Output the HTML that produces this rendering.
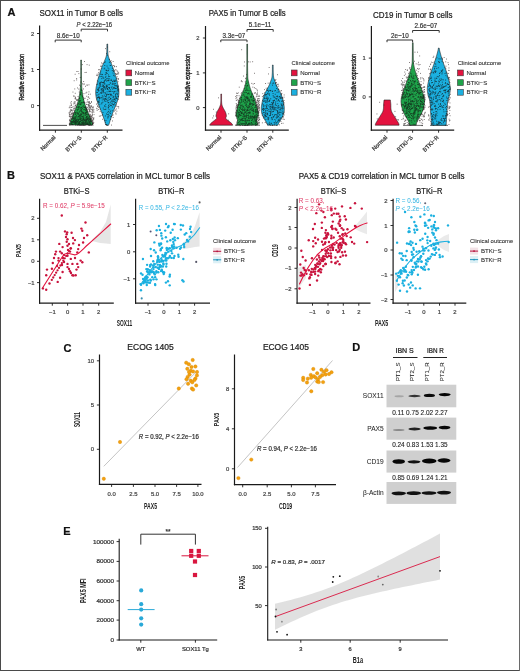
<!DOCTYPE html>
<html><head><meta charset="utf-8"><style>
html,body{margin:0;padding:0;background:#fff;overflow:hidden;}
svg{display:block;will-change:transform;}
text{font-family:"Liberation Sans", sans-serif;}
</style></head><body>
<svg width="520" height="671" viewBox="0 0 520 671">
<rect x="0" y="0" width="520" height="671" fill="#fff"/>
<text x="7.60" y="16.00" font-size="11" text-anchor="start" fill="#111" stroke="#111" stroke-width="0.22" font-weight="bold">A</text>
<text x="6.90" y="178.80" font-size="11" text-anchor="start" fill="#111" stroke="#111" stroke-width="0.22" font-weight="bold">B</text>
<text x="63.50" y="352.20" font-size="11" text-anchor="start" fill="#111" stroke="#111" stroke-width="0.22" font-weight="bold">C</text>
<text x="352.30" y="351.40" font-size="11" text-anchor="start" fill="#111" stroke="#111" stroke-width="0.22" font-weight="bold">D</text>
<text x="63.20" y="534.60" font-size="11" text-anchor="start" fill="#111" stroke="#111" stroke-width="0.22" font-weight="bold">E</text>
<text x="39.50" y="16.10" font-size="8.6" text-anchor="start" fill="#222" stroke="#222" stroke-width="0.22" textLength="83.5" lengthAdjust="spacingAndGlyphs">SOX11 in Tumor B cells</text>
<line x1="39.60" y1="25.50" x2="39.60" y2="130.70" stroke="#1a1a1a" stroke-width="1.2"/>
<line x1="39.00" y1="130.10" x2="122.50" y2="130.10" stroke="#1a1a1a" stroke-width="1.2"/>
<line x1="37.00" y1="33.50" x2="39.60" y2="33.50" stroke="#1a1a1a" stroke-width="0.9"/>
<text x="34.20" y="35.60" font-size="5.8" text-anchor="end" fill="#444" stroke="#444" stroke-width="0.22">2</text>
<line x1="37.00" y1="69.50" x2="39.60" y2="69.50" stroke="#1a1a1a" stroke-width="0.9"/>
<text x="34.20" y="71.60" font-size="5.8" text-anchor="end" fill="#444" stroke="#444" stroke-width="0.22">1</text>
<line x1="37.00" y1="105.60" x2="39.60" y2="105.60" stroke="#1a1a1a" stroke-width="0.9"/>
<text x="34.20" y="107.70" font-size="5.8" text-anchor="end" fill="#444" stroke="#444" stroke-width="0.22">0</text>
<line x1="55.40" y1="130.10" x2="55.40" y2="132.70" stroke="#1a1a1a" stroke-width="0.9"/>
<text x="56.00" y="137.90" font-size="5.8" text-anchor="end" fill="#333" stroke="#333" stroke-width="0.22" transform="rotate(-45 56.00 137.90)">Normal</text>
<line x1="81.30" y1="130.10" x2="81.30" y2="132.70" stroke="#1a1a1a" stroke-width="0.9"/>
<text x="81.90" y="137.90" font-size="5.8" text-anchor="end" fill="#333" stroke="#333" stroke-width="0.22" transform="rotate(-45 81.90 137.90)">BTKi−S</text>
<line x1="107.30" y1="130.10" x2="107.30" y2="132.70" stroke="#1a1a1a" stroke-width="0.9"/>
<text x="107.90" y="137.90" font-size="5.8" text-anchor="end" fill="#333" stroke="#333" stroke-width="0.22" transform="rotate(-45 107.90 137.90)">BTKi−R</text>
<text x="24.30" y="77.30" font-size="7" text-anchor="middle" fill="#1a1a1a" stroke="#1a1a1a" stroke-width="0.35" textLength="46.5" lengthAdjust="spacingAndGlyphs" transform="rotate(-90 24.30 77.30)">Relative expression</text>
<line x1="43.00" y1="125.40" x2="67.00" y2="125.40" stroke="#222" stroke-width="0.8"/>
<path d="M81.45,60.00 L81.45,60.81 L81.45,61.62 L81.45,62.44 L81.45,63.25 L81.46,64.06 L81.45,64.88 L81.45,65.69 L81.45,66.50 L81.45,67.31 L81.45,68.12 L81.45,68.94 L81.45,69.75 L81.45,70.56 L81.45,71.38 L81.46,72.19 L81.46,73.00 L81.46,73.81 L81.46,74.62 L81.47,75.44 L81.47,76.25 L81.48,77.06 L81.49,77.88 L81.50,78.69 L81.51,79.50 L81.52,80.31 L81.54,81.12 L81.55,81.94 L81.57,82.75 L81.59,83.56 L81.61,84.38 L81.65,85.19 L81.69,86.00 L81.75,86.81 L81.82,87.62 L81.90,88.44 L81.98,89.25 L82.07,90.06 L82.17,90.88 L82.26,91.69 L82.36,92.50 L82.47,93.31 L82.59,94.12 L82.72,94.94 L82.86,95.75 L83.01,96.56 L83.17,97.38 L83.34,98.19 L83.52,99.00 L83.72,99.81 L83.93,100.62 L84.14,101.44 L84.37,102.25 L84.61,103.06 L84.86,103.88 L85.12,104.69 L85.40,105.50 L85.69,106.31 L85.99,107.12 L86.30,107.94 L86.61,108.75 L86.93,109.56 L87.25,110.38 L87.58,111.19 L87.91,112.00 L88.26,112.81 L88.60,113.62 L88.95,114.44 L89.29,115.25 L89.63,116.06 L89.96,116.88 L90.30,117.69 L90.64,118.50 L90.97,119.31 L91.28,120.12 L91.58,120.94 L91.86,121.75 L92.12,122.56 L92.36,123.38 L92.56,124.19 L92.70,125.00 L69.50,125.00 L69.64,124.19 L69.84,123.38 L70.08,122.56 L70.34,121.75 L70.62,120.94 L70.92,120.12 L71.23,119.31 L71.56,118.50 L71.90,117.69 L72.24,116.88 L72.57,116.06 L72.91,115.25 L73.25,114.44 L73.60,113.62 L73.94,112.81 L74.29,112.00 L74.62,111.19 L74.95,110.38 L75.27,109.56 L75.59,108.75 L75.90,107.94 L76.21,107.12 L76.51,106.31 L76.80,105.50 L77.08,104.69 L77.34,103.88 L77.59,103.06 L77.83,102.25 L78.06,101.44 L78.27,100.62 L78.48,99.81 L78.67,99.00 L78.86,98.19 L79.03,97.38 L79.19,96.56 L79.34,95.75 L79.48,94.94 L79.61,94.12 L79.73,93.31 L79.84,92.50 L79.94,91.69 L80.03,90.88 L80.13,90.06 L80.22,89.25 L80.30,88.44 L80.38,87.62 L80.45,86.81 L80.51,86.00 L80.55,85.19 L80.59,84.38 L80.61,83.56 L80.63,82.75 L80.65,81.94 L80.66,81.12 L80.68,80.31 L80.69,79.50 L80.70,78.69 L80.71,77.88 L80.72,77.06 L80.73,76.25 L80.73,75.44 L80.74,74.62 L80.74,73.81 L80.74,73.00 L80.74,72.19 L80.75,71.38 L80.75,70.56 L80.75,69.75 L80.75,68.94 L80.75,68.12 L80.75,67.31 L80.75,66.50 L80.75,65.69 L80.75,64.88 L80.74,64.06 L80.75,63.25 L80.75,62.44 L80.75,61.62 L80.75,60.81 L80.75,60.00 Z" fill="#1ea34a" stroke="#222" stroke-width="0.6"/>
<g fill="#111" opacity="0.70"><rect x="81.9" y="102.3" width=".9" height=".9"/><rect x="90.1" y="123.5" width=".9" height=".9"/><rect x="83.1" y="113.0" width=".9" height=".9"/><rect x="82.9" y="105.4" width=".9" height=".9"/><rect x="80.8" y="109.2" width=".9" height=".9"/><rect x="86.0" y="116.9" width=".9" height=".9"/><rect x="85.2" y="121.4" width=".9" height=".9"/><rect x="78.2" y="113.4" width=".9" height=".9"/><rect x="80.2" y="103.5" width=".9" height=".9"/><rect x="73.0" y="122.3" width=".9" height=".9"/><rect x="81.5" y="122.0" width=".9" height=".9"/><rect x="78.6" y="111.9" width=".9" height=".9"/><rect x="80.7" y="124.6" width=".9" height=".9"/><rect x="72.3" y="121.8" width=".9" height=".9"/><rect x="81.6" y="95.3" width=".9" height=".9"/><rect x="86.0" y="123.6" width=".9" height=".9"/><rect x="77.7" y="124.2" width=".9" height=".9"/><rect x="84.9" y="114.6" width=".9" height=".9"/><rect x="85.1" y="112.0" width=".9" height=".9"/><rect x="87.4" y="119.1" width=".9" height=".9"/><rect x="78.6" y="123.2" width=".9" height=".9"/><rect x="72.9" y="121.5" width=".9" height=".9"/><rect x="77.4" y="123.7" width=".9" height=".9"/><rect x="90.4" y="120.7" width=".9" height=".9"/><rect x="74.9" y="113.7" width=".9" height=".9"/><rect x="80.1" y="119.2" width=".9" height=".9"/><rect x="80.0" y="94.0" width=".9" height=".9"/><rect x="83.9" y="119.3" width=".9" height=".9"/><rect x="90.5" y="121.2" width=".9" height=".9"/><rect x="82.6" y="121.2" width=".9" height=".9"/><rect x="72.0" y="121.3" width=".9" height=".9"/><rect x="72.6" y="124.3" width=".9" height=".9"/><rect x="86.1" y="119.7" width=".9" height=".9"/><rect x="81.1" y="109.4" width=".9" height=".9"/><rect x="81.3" y="114.2" width=".9" height=".9"/><rect x="75.6" y="116.6" width=".9" height=".9"/><rect x="77.5" y="122.8" width=".9" height=".9"/><rect x="86.7" y="124.0" width=".9" height=".9"/><rect x="86.9" y="118.0" width=".9" height=".9"/><rect x="81.7" y="112.8" width=".9" height=".9"/><rect x="78.2" y="123.4" width=".9" height=".9"/><rect x="80.1" y="120.9" width=".9" height=".9"/><rect x="89.1" y="121.9" width=".9" height=".9"/><rect x="87.4" y="114.6" width=".9" height=".9"/><rect x="86.6" y="121.1" width=".9" height=".9"/><rect x="74.1" y="118.9" width=".9" height=".9"/><rect x="81.2" y="122.9" width=".9" height=".9"/><rect x="90.0" y="120.2" width=".9" height=".9"/><rect x="71.3" y="123.2" width=".9" height=".9"/><rect x="73.2" y="120.6" width=".9" height=".9"/><rect x="77.7" y="119.8" width=".9" height=".9"/><rect x="78.9" y="118.3" width=".9" height=".9"/><rect x="75.4" y="118.4" width=".9" height=".9"/><rect x="75.2" y="122.2" width=".9" height=".9"/><rect x="74.9" y="122.0" width=".9" height=".9"/><rect x="88.7" y="120.3" width=".9" height=".9"/><rect x="76.8" y="117.5" width=".9" height=".9"/><rect x="80.5" y="124.4" width=".9" height=".9"/><rect x="75.9" y="119.4" width=".9" height=".9"/><rect x="91.9" y="123.2" width=".9" height=".9"/><rect x="82.8" y="122.0" width=".9" height=".9"/><rect x="89.1" y="118.6" width=".9" height=".9"/><rect x="82.7" y="118.3" width=".9" height=".9"/><rect x="89.0" y="124.7" width=".9" height=".9"/><rect x="88.3" y="119.5" width=".9" height=".9"/><rect x="77.4" y="120.5" width=".9" height=".9"/><rect x="75.2" y="119.8" width=".9" height=".9"/><rect x="83.1" y="116.7" width=".9" height=".9"/><rect x="85.2" y="124.0" width=".9" height=".9"/><rect x="74.3" y="118.2" width=".9" height=".9"/><rect x="72.3" y="120.9" width=".9" height=".9"/><rect x="74.8" y="120.9" width=".9" height=".9"/><rect x="81.9" y="118.7" width=".9" height=".9"/><rect x="73.6" y="121.2" width=".9" height=".9"/><rect x="82.4" y="106.3" width=".9" height=".9"/><rect x="76.8" y="121.4" width=".9" height=".9"/><rect x="74.6" y="117.2" width=".9" height=".9"/><rect x="85.9" y="119.0" width=".9" height=".9"/><rect x="76.6" y="109.2" width=".9" height=".9"/><rect x="89.9" y="122.7" width=".9" height=".9"/><rect x="79.3" y="100.2" width=".9" height=".9"/><rect x="89.1" y="116.0" width=".9" height=".9"/><rect x="80.1" y="117.5" width=".9" height=".9"/><rect x="73.4" y="117.5" width=".9" height=".9"/><rect x="71.1" y="123.4" width=".9" height=".9"/><rect x="78.2" y="122.6" width=".9" height=".9"/><rect x="86.9" y="123.9" width=".9" height=".9"/><rect x="82.9" y="119.0" width=".9" height=".9"/><rect x="79.4" y="100.8" width=".9" height=".9"/><rect x="80.8" y="110.6" width=".9" height=".9"/><rect x="82.2" y="123.4" width=".9" height=".9"/><rect x="71.1" y="121.1" width=".9" height=".9"/><rect x="85.7" y="121.6" width=".9" height=".9"/><rect x="74.1" y="121.1" width=".9" height=".9"/><rect x="74.9" y="121.9" width=".9" height=".9"/><rect x="72.8" y="118.8" width=".9" height=".9"/><rect x="88.1" y="117.9" width=".9" height=".9"/><rect x="80.5" y="92.0" width=".9" height=".9"/><rect x="84.5" y="122.4" width=".9" height=".9"/><rect x="83.4" y="101.3" width=".9" height=".9"/><rect x="86.6" y="118.3" width=".9" height=".9"/><rect x="80.5" y="116.0" width=".9" height=".9"/><rect x="88.4" y="123.4" width=".9" height=".9"/><rect x="85.1" y="119.9" width=".9" height=".9"/><rect x="77.8" y="119.4" width=".9" height=".9"/><rect x="82.8" y="121.4" width=".9" height=".9"/><rect x="89.3" y="123.3" width=".9" height=".9"/><rect x="83.6" y="123.5" width=".9" height=".9"/><rect x="85.7" y="117.7" width=".9" height=".9"/><rect x="89.4" y="117.7" width=".9" height=".9"/><rect x="83.8" y="120.6" width=".9" height=".9"/><rect x="80.8" y="124.4" width=".9" height=".9"/><rect x="83.6" y="119.1" width=".9" height=".9"/><rect x="82.7" y="122.4" width=".9" height=".9"/><rect x="88.3" y="114.4" width=".9" height=".9"/><rect x="72.2" y="124.1" width=".9" height=".9"/><rect x="79.9" y="114.7" width=".9" height=".9"/><rect x="78.9" y="116.6" width=".9" height=".9"/><rect x="80.6" y="103.4" width=".9" height=".9"/><rect x="75.8" y="120.1" width=".9" height=".9"/><rect x="86.8" y="118.3" width=".9" height=".9"/><rect x="90.4" y="119.2" width=".9" height=".9"/><rect x="81.4" y="122.0" width=".9" height=".9"/><rect x="79.1" y="120.9" width=".9" height=".9"/><rect x="78.5" y="114.6" width=".9" height=".9"/><rect x="77.1" y="121.2" width=".9" height=".9"/><rect x="74.9" y="120.1" width=".9" height=".9"/><rect x="76.2" y="121.8" width=".9" height=".9"/><rect x="83.1" y="102.1" width=".9" height=".9"/><rect x="75.3" y="122.1" width=".9" height=".9"/><rect x="82.5" y="116.0" width=".9" height=".9"/><rect x="87.9" y="124.2" width=".9" height=".9"/><rect x="72.5" y="122.4" width=".9" height=".9"/><rect x="79.0" y="122.6" width=".9" height=".9"/><rect x="78.4" y="107.0" width=".9" height=".9"/><rect x="79.7" y="115.2" width=".9" height=".9"/><rect x="82.1" y="119.8" width=".9" height=".9"/><rect x="81.5" y="124.9" width=".9" height=".9"/><rect x="79.6" y="122.7" width=".9" height=".9"/><rect x="76.6" y="113.0" width=".9" height=".9"/><rect x="81.4" y="123.6" width=".9" height=".9"/><rect x="79.1" y="124.4" width=".9" height=".9"/><rect x="79.2" y="101.4" width=".9" height=".9"/><rect x="85.9" y="111.2" width=".9" height=".9"/><rect x="85.3" y="114.7" width=".9" height=".9"/><rect x="78.9" y="124.8" width=".9" height=".9"/><rect x="86.5" y="110.1" width=".9" height=".9"/><rect x="77.3" y="118.8" width=".9" height=".9"/><rect x="76.5" y="120.5" width=".9" height=".9"/><rect x="88.4" y="116.9" width=".9" height=".9"/><rect x="82.6" y="123.2" width=".9" height=".9"/><rect x="74.7" y="113.7" width=".9" height=".9"/><rect x="79.7" y="114.3" width=".9" height=".9"/><rect x="85.0" y="110.2" width=".9" height=".9"/><rect x="75.5" y="116.0" width=".9" height=".9"/><rect x="86.4" y="119.3" width=".9" height=".9"/><rect x="86.0" y="108.7" width=".9" height=".9"/><rect x="82.3" y="112.4" width=".9" height=".9"/><rect x="82.2" y="123.0" width=".9" height=".9"/><rect x="76.1" y="120.8" width=".9" height=".9"/><rect x="82.7" y="117.5" width=".9" height=".9"/><rect x="71.3" y="123.7" width=".9" height=".9"/><rect x="74.9" y="120.8" width=".9" height=".9"/><rect x="88.2" y="120.2" width=".9" height=".9"/><rect x="77.8" y="113.6" width=".9" height=".9"/><rect x="84.1" y="123.3" width=".9" height=".9"/><rect x="85.5" y="112.7" width=".9" height=".9"/><rect x="73.3" y="117.5" width=".9" height=".9"/><rect x="79.3" y="98.2" width=".9" height=".9"/><rect x="86.5" y="116.1" width=".9" height=".9"/><rect x="88.0" y="122.4" width=".9" height=".9"/><rect x="87.2" y="116.6" width=".9" height=".9"/><rect x="83.7" y="106.9" width=".9" height=".9"/><rect x="82.5" y="112.0" width=".9" height=".9"/><rect x="85.8" y="116.9" width=".9" height=".9"/><rect x="72.2" y="124.1" width=".9" height=".9"/><rect x="82.6" y="124.5" width=".9" height=".9"/><rect x="77.8" y="124.2" width=".9" height=".9"/><rect x="75.0" y="118.4" width=".9" height=".9"/><rect x="73.5" y="116.2" width=".9" height=".9"/><rect x="75.6" y="123.5" width=".9" height=".9"/><rect x="86.9" y="118.7" width=".9" height=".9"/><rect x="74.2" y="121.4" width=".9" height=".9"/><rect x="82.8" y="124.6" width=".9" height=".9"/><rect x="87.4" y="116.5" width=".9" height=".9"/><rect x="76.9" y="113.5" width=".9" height=".9"/><rect x="90.6" y="119.7" width=".9" height=".9"/><rect x="74.5" y="123.7" width=".9" height=".9"/><rect x="90.6" y="124.4" width=".9" height=".9"/><rect x="74.0" y="119.7" width=".9" height=".9"/><rect x="86.9" y="122.9" width=".9" height=".9"/><rect x="86.5" y="123.9" width=".9" height=".9"/><rect x="83.8" y="124.9" width=".9" height=".9"/><rect x="83.9" y="120.2" width=".9" height=".9"/><rect x="86.0" y="119.1" width=".9" height=".9"/><rect x="87.3" y="123.2" width=".9" height=".9"/><rect x="83.4" y="115.5" width=".9" height=".9"/><rect x="84.3" y="124.7" width=".9" height=".9"/><rect x="86.6" y="119.1" width=".9" height=".9"/><rect x="81.7" y="120.3" width=".9" height=".9"/><rect x="84.6" y="113.4" width=".9" height=".9"/><rect x="78.1" y="116.4" width=".9" height=".9"/><rect x="79.8" y="124.8" width=".9" height=".9"/><rect x="85.6" y="109.3" width=".9" height=".9"/><rect x="76.8" y="106.7" width=".9" height=".9"/><rect x="79.2" y="115.8" width=".9" height=".9"/><rect x="78.9" y="106.3" width=".9" height=".9"/><rect x="83.4" y="109.2" width=".9" height=".9"/><rect x="80.4" y="114.6" width=".9" height=".9"/><rect x="80.9" y="117.9" width=".9" height=".9"/><rect x="90.4" y="124.9" width=".9" height=".9"/><rect x="81.4" y="115.8" width=".9" height=".9"/><rect x="85.1" y="121.8" width=".9" height=".9"/><rect x="89.6" y="119.3" width=".9" height=".9"/><rect x="81.8" y="124.7" width=".9" height=".9"/><rect x="80.7" y="120.4" width=".9" height=".9"/><rect x="82.1" y="116.2" width=".9" height=".9"/><rect x="82.1" y="96.3" width=".9" height=".9"/><rect x="81.3" y="90.0" width=".9" height=".9"/><rect x="89.7" y="121.2" width=".9" height=".9"/><rect x="83.1" y="117.9" width=".9" height=".9"/><rect x="81.0" y="111.5" width=".9" height=".9"/><rect x="87.2" y="122.8" width=".9" height=".9"/><rect x="78.8" y="121.2" width=".9" height=".9"/><rect x="83.5" y="114.4" width=".9" height=".9"/><rect x="83.7" y="112.8" width=".9" height=".9"/><rect x="75.9" y="114.9" width=".9" height=".9"/><rect x="74.2" y="122.3" width=".9" height=".9"/><rect x="88.8" y="121.4" width=".9" height=".9"/><rect x="78.0" y="116.0" width=".9" height=".9"/><rect x="83.8" y="103.3" width=".9" height=".9"/><rect x="77.7" y="119.0" width=".9" height=".9"/><rect x="89.5" y="123.5" width=".9" height=".9"/><rect x="87.3" y="117.9" width=".9" height=".9"/><rect x="83.3" y="117.9" width=".9" height=".9"/><rect x="85.9" y="122.6" width=".9" height=".9"/><rect x="76.3" y="122.5" width=".9" height=".9"/><rect x="76.6" y="121.3" width=".9" height=".9"/><rect x="89.5" y="119.1" width=".9" height=".9"/><rect x="77.7" y="108.9" width=".9" height=".9"/><rect x="75.8" y="119.6" width=".9" height=".9"/><rect x="74.7" y="121.1" width=".9" height=".9"/><rect x="78.4" y="108.3" width=".9" height=".9"/><rect x="81.6" y="116.7" width=".9" height=".9"/><rect x="86.1" y="112.1" width=".9" height=".9"/><rect x="81.2" y="110.6" width=".9" height=".9"/><rect x="86.6" y="119.8" width=".9" height=".9"/><rect x="88.5" y="124.4" width=".9" height=".9"/><rect x="86.9" y="123.7" width=".9" height=".9"/><rect x="84.6" y="117.5" width=".9" height=".9"/><rect x="80.4" y="107.1" width=".9" height=".9"/><rect x="84.7" y="106.4" width=".9" height=".9"/><rect x="78.4" y="124.1" width=".9" height=".9"/><rect x="85.4" y="120.5" width=".9" height=".9"/><rect x="79.6" y="102.3" width=".9" height=".9"/><rect x="91.9" y="123.8" width=".9" height=".9"/><rect x="75.5" y="124.6" width=".9" height=".9"/><rect x="81.9" y="122.8" width=".9" height=".9"/><rect x="83.4" y="122.7" width=".9" height=".9"/><rect x="85.1" y="118.8" width=".9" height=".9"/><rect x="71.4" y="122.6" width=".9" height=".9"/><rect x="74.6" y="121.3" width=".9" height=".9"/><rect x="80.6" y="93.5" width=".9" height=".9"/><rect x="90.0" y="121.5" width=".9" height=".9"/><rect x="85.6" y="121.1" width=".9" height=".9"/><rect x="78.8" y="122.5" width=".9" height=".9"/><rect x="74.5" y="117.6" width=".9" height=".9"/><rect x="79.1" y="122.8" width=".9" height=".9"/><rect x="73.1" y="118.3" width=".9" height=".9"/><rect x="79.4" y="111.1" width=".9" height=".9"/><rect x="78.8" y="122.3" width=".9" height=".9"/><rect x="74.4" y="122.5" width=".9" height=".9"/><rect x="85.2" y="107.8" width=".9" height=".9"/><rect x="77.5" y="121.3" width=".9" height=".9"/><rect x="89.5" y="122.6" width=".9" height=".9"/><rect x="71.5" y="124.2" width=".9" height=".9"/><rect x="80.9" y="107.4" width=".9" height=".9"/><rect x="83.3" y="112.1" width=".9" height=".9"/><rect x="76.5" y="111.6" width=".9" height=".9"/><rect x="83.8" y="106.9" width=".9" height=".9"/><rect x="79.8" y="110.1" width=".9" height=".9"/><rect x="80.2" y="100.2" width=".9" height=".9"/><rect x="80.2" y="119.1" width=".9" height=".9"/><rect x="75.8" y="122.6" width=".9" height=".9"/><rect x="77.1" y="109.7" width=".9" height=".9"/><rect x="75.1" y="123.2" width=".9" height=".9"/><rect x="88.9" y="122.3" width=".9" height=".9"/><rect x="90.0" y="124.4" width=".9" height=".9"/><rect x="77.7" y="113.2" width=".9" height=".9"/><rect x="85.0" y="112.8" width=".9" height=".9"/><rect x="84.4" y="122.0" width=".9" height=".9"/><rect x="80.7" y="113.9" width=".9" height=".9"/><rect x="78.1" y="103.3" width=".9" height=".9"/><rect x="78.1" y="124.5" width=".9" height=".9"/><rect x="88.5" y="125.0" width=".9" height=".9"/><rect x="80.2" y="104.0" width=".9" height=".9"/><rect x="77.7" y="121.7" width=".9" height=".9"/><rect x="80.5" y="120.4" width=".9" height=".9"/><rect x="75.5" y="119.3" width=".9" height=".9"/><rect x="81.9" y="107.9" width=".9" height=".9"/><rect x="79.7" y="104.2" width=".9" height=".9"/><rect x="88.3" y="118.7" width=".9" height=".9"/><rect x="83.9" y="109.2" width=".9" height=".9"/><rect x="88.0" y="120.7" width=".9" height=".9"/><rect x="81.0" y="102.2" width=".9" height=".9"/><rect x="84.9" y="106.9" width=".9" height=".9"/><rect x="82.9" y="124.9" width=".9" height=".9"/><rect x="85.6" y="108.7" width=".9" height=".9"/><rect x="80.5" y="113.0" width=".9" height=".9"/><rect x="80.2" y="118.1" width=".9" height=".9"/><rect x="85.6" y="119.4" width=".9" height=".9"/><rect x="80.2" y="108.4" width=".9" height=".9"/><rect x="85.7" y="120.0" width=".9" height=".9"/><rect x="83.2" y="123.8" width=".9" height=".9"/><rect x="82.3" y="122.8" width=".9" height=".9"/><rect x="82.2" y="121.7" width=".9" height=".9"/><rect x="77.6" y="116.1" width=".9" height=".9"/><rect x="89.2" y="118.7" width=".9" height=".9"/><rect x="86.0" y="122.8" width=".9" height=".9"/><rect x="87.3" y="123.8" width=".9" height=".9"/><rect x="84.9" y="124.6" width=".9" height=".9"/><rect x="72.1" y="118.5" width=".9" height=".9"/><rect x="81.2" y="114.3" width=".9" height=".9"/><rect x="73.1" y="120.0" width=".9" height=".9"/><rect x="72.5" y="120.9" width=".9" height=".9"/><rect x="79.3" y="119.1" width=".9" height=".9"/><rect x="83.8" y="102.1" width=".9" height=".9"/><rect x="75.3" y="124.6" width=".9" height=".9"/><rect x="78.9" y="103.6" width=".9" height=".9"/><rect x="81.2" y="119.8" width=".9" height=".9"/><rect x="76.7" y="112.1" width=".9" height=".9"/><rect x="78.2" y="106.6" width=".9" height=".9"/><rect x="91.3" y="124.8" width=".9" height=".9"/><rect x="78.0" y="120.2" width=".9" height=".9"/><rect x="85.4" y="122.5" width=".9" height=".9"/><rect x="74.3" y="122.8" width=".9" height=".9"/><rect x="73.4" y="117.9" width=".9" height=".9"/><rect x="78.5" y="118.7" width=".9" height=".9"/><rect x="85.6" y="109.5" width=".9" height=".9"/><rect x="83.2" y="119.1" width=".9" height=".9"/><rect x="75.1" y="112.0" width=".9" height=".9"/><rect x="80.1" y="124.5" width=".9" height=".9"/><rect x="71.5" y="122.1" width=".9" height=".9"/><rect x="79.0" y="114.9" width=".9" height=".9"/><rect x="78.7" y="122.2" width=".9" height=".9"/><rect x="85.5" y="122.4" width=".9" height=".9"/><rect x="84.9" y="123.0" width=".9" height=".9"/><rect x="75.3" y="123.2" width=".9" height=".9"/><rect x="83.9" y="120.1" width=".9" height=".9"/><rect x="86.1" y="116.0" width=".9" height=".9"/><rect x="87.2" y="122.2" width=".9" height=".9"/><rect x="86.0" y="114.0" width=".9" height=".9"/><rect x="81.3" y="119.7" width=".9" height=".9"/><rect x="86.7" y="111.2" width=".9" height=".9"/><rect x="85.4" y="113.0" width=".9" height=".9"/><rect x="71.1" y="121.9" width=".9" height=".9"/><rect x="86.8" y="110.8" width=".9" height=".9"/><rect x="74.8" y="116.6" width=".9" height=".9"/><rect x="84.7" y="107.3" width=".9" height=".9"/><rect x="82.2" y="111.4" width=".9" height=".9"/><rect x="86.9" y="112.5" width=".9" height=".9"/><rect x="79.5" y="122.9" width=".9" height=".9"/><rect x="87.5" y="114.1" width=".9" height=".9"/><rect x="79.6" y="116.8" width=".9" height=".9"/><rect x="78.1" y="106.5" width=".9" height=".9"/><rect x="74.9" y="113.4" width=".9" height=".9"/><rect x="81.0" y="106.9" width=".9" height=".9"/><rect x="89.0" y="121.3" width=".9" height=".9"/><rect x="88.8" y="124.8" width=".9" height=".9"/><rect x="79.2" y="122.4" width=".9" height=".9"/><rect x="89.8" y="117.6" width=".9" height=".9"/><rect x="82.8" y="119.9" width=".9" height=".9"/><rect x="85.2" y="120.5" width=".9" height=".9"/><rect x="79.7" y="120.9" width=".9" height=".9"/><rect x="80.8" y="89.4" width=".9" height=".9"/><rect x="77.0" y="124.8" width=".9" height=".9"/><rect x="83.2" y="122.8" width=".9" height=".9"/><rect x="83.1" y="98.9" width=".9" height=".9"/></g>
<g fill="#2e2424" opacity="0.72"><rect x="79.9" y="93.0" width=".9" height=".9"/><rect x="73.0" y="95.6" width=".9" height=".9"/><rect x="93.1" y="107.4" width=".9" height=".9"/><rect x="79.8" y="77.1" width=".9" height=".9"/><rect x="76.1" y="99.9" width=".9" height=".9"/><rect x="69.2" y="113.9" width=".9" height=".9"/><rect x="92.0" y="122.2" width=".9" height=".9"/><rect x="88.6" y="111.3" width=".9" height=".9"/><rect x="85.8" y="71.9" width=".9" height=".9"/><rect x="89.5" y="102.9" width=".9" height=".9"/><rect x="92.4" y="122.9" width=".9" height=".9"/><rect x="78.3" y="88.6" width=".9" height=".9"/><rect x="72.3" y="113.2" width=".9" height=".9"/><rect x="88.2" y="101.8" width=".9" height=".9"/><rect x="86.3" y="91.8" width=".9" height=".9"/><rect x="73.6" y="101.8" width=".9" height=".9"/><rect x="90.5" y="105.7" width=".9" height=".9"/><rect x="72.5" y="91.6" width=".9" height=".9"/><rect x="91.8" y="114.5" width=".9" height=".9"/><rect x="92.0" y="114.3" width=".9" height=".9"/><rect x="86.3" y="95.8" width=".9" height=".9"/><rect x="77.2" y="99.1" width=".9" height=".9"/><rect x="69.5" y="120.1" width=".9" height=".9"/><rect x="87.9" y="104.4" width=".9" height=".9"/><rect x="92.4" y="109.4" width=".9" height=".9"/><rect x="69.4" y="120.8" width=".9" height=".9"/><rect x="77.6" y="71.0" width=".9" height=".9"/><rect x="75.6" y="106.6" width=".9" height=".9"/><rect x="92.2" y="119.6" width=".9" height=".9"/><rect x="70.2" y="108.9" width=".9" height=".9"/><rect x="88.6" y="103.2" width=".9" height=".9"/><rect x="78.4" y="73.2" width=".9" height=".9"/><rect x="76.8" y="104.1" width=".9" height=".9"/><rect x="73.7" y="95.6" width=".9" height=".9"/><rect x="74.0" y="101.5" width=".9" height=".9"/><rect x="68.8" y="107.3" width=".9" height=".9"/><rect x="88.5" y="91.4" width=".9" height=".9"/><rect x="89.6" y="109.2" width=".9" height=".9"/><rect x="83.1" y="88.5" width=".9" height=".9"/><rect x="83.5" y="93.2" width=".9" height=".9"/><rect x="91.0" y="109.2" width=".9" height=".9"/><rect x="93.4" y="117.4" width=".9" height=".9"/><rect x="93.4" y="111.8" width=".9" height=".9"/><rect x="73.7" y="80.3" width=".9" height=".9"/><rect x="70.3" y="102.5" width=".9" height=".9"/><rect x="89.5" y="106.5" width=".9" height=".9"/><rect x="77.1" y="87.5" width=".9" height=".9"/><rect x="76.4" y="71.1" width=".9" height=".9"/><rect x="90.8" y="117.9" width=".9" height=".9"/><rect x="72.5" y="114.8" width=".9" height=".9"/><rect x="74.9" y="101.5" width=".9" height=".9"/><rect x="73.9" y="112.1" width=".9" height=".9"/><rect x="89.9" y="114.2" width=".9" height=".9"/><rect x="84.6" y="72.1" width=".9" height=".9"/><rect x="70.0" y="120.4" width=".9" height=".9"/><rect x="89.4" y="111.0" width=".9" height=".9"/><rect x="70.9" y="101.2" width=".9" height=".9"/><rect x="89.6" y="116.1" width=".9" height=".9"/><rect x="89.3" y="113.7" width=".9" height=".9"/><rect x="69.8" y="117.6" width=".9" height=".9"/><rect x="76.2" y="79.5" width=".9" height=".9"/><rect x="69.0" y="119.7" width=".9" height=".9"/><rect x="84.0" y="61.0" width=".9" height=".9"/><rect x="86.8" y="106.8" width=".9" height=".9"/><rect x="92.7" y="120.6" width=".9" height=".9"/><rect x="69.3" y="106.6" width=".9" height=".9"/><rect x="90.1" y="107.4" width=".9" height=".9"/><rect x="78.8" y="91.6" width=".9" height=".9"/><rect x="87.8" y="104.0" width=".9" height=".9"/><rect x="68.6" y="112.5" width=".9" height=".9"/><rect x="92.3" y="110.6" width=".9" height=".9"/><rect x="69.5" y="122.6" width=".9" height=".9"/><rect x="86.0" y="104.0" width=".9" height=".9"/><rect x="91.9" y="120.3" width=".9" height=".9"/><rect x="72.8" y="114.6" width=".9" height=".9"/><rect x="93.1" y="118.7" width=".9" height=".9"/><rect x="69.0" y="116.2" width=".9" height=".9"/><rect x="72.7" y="114.1" width=".9" height=".9"/><rect x="71.0" y="113.1" width=".9" height=".9"/><rect x="69.7" y="105.4" width=".9" height=".9"/><rect x="71.9" y="106.6" width=".9" height=".9"/><rect x="89.3" y="108.5" width=".9" height=".9"/><rect x="79.9" y="94.5" width=".9" height=".9"/><rect x="74.8" y="92.8" width=".9" height=".9"/><rect x="92.0" y="123.0" width=".9" height=".9"/><rect x="85.6" y="102.3" width=".9" height=".9"/><rect x="70.2" y="116.6" width=".9" height=".9"/><rect x="74.2" y="107.8" width=".9" height=".9"/><rect x="89.2" y="97.8" width=".9" height=".9"/><rect x="69.8" y="119.2" width=".9" height=".9"/><rect x="71.1" y="109.4" width=".9" height=".9"/><rect x="68.9" y="112.4" width=".9" height=".9"/><rect x="92.3" y="122.4" width=".9" height=".9"/><rect x="76.4" y="106.7" width=".9" height=".9"/><rect x="92.4" y="122.3" width=".9" height=".9"/><rect x="90.7" y="105.9" width=".9" height=".9"/><rect x="90.7" y="119.1" width=".9" height=".9"/><rect x="89.3" y="105.5" width=".9" height=".9"/><rect x="88.3" y="101.5" width=".9" height=".9"/><rect x="69.7" y="110.5" width=".9" height=".9"/><rect x="69.8" y="115.5" width=".9" height=".9"/><rect x="91.5" y="111.4" width=".9" height=".9"/><rect x="70.8" y="113.9" width=".9" height=".9"/><rect x="91.9" y="121.5" width=".9" height=".9"/><rect x="75.3" y="103.6" width=".9" height=".9"/><rect x="88.8" y="64.7" width=".9" height=".9"/><rect x="86.5" y="108.8" width=".9" height=".9"/><rect x="73.2" y="114.6" width=".9" height=".9"/><rect x="69.6" y="114.0" width=".9" height=".9"/><rect x="84.7" y="97.8" width=".9" height=".9"/><rect x="69.6" y="123.0" width=".9" height=".9"/><rect x="89.5" y="107.0" width=".9" height=".9"/><rect x="71.4" y="117.8" width=".9" height=".9"/><rect x="71.0" y="116.0" width=".9" height=".9"/><rect x="93.4" y="109.2" width=".9" height=".9"/><rect x="89.2" y="106.9" width=".9" height=".9"/><rect x="82.6" y="84.2" width=".9" height=".9"/><rect x="90.4" y="117.8" width=".9" height=".9"/><rect x="91.7" y="112.2" width=".9" height=".9"/><rect x="71.4" y="114.5" width=".9" height=".9"/><rect x="77.7" y="99.7" width=".9" height=".9"/><rect x="74.6" y="98.3" width=".9" height=".9"/><rect x="82.4" y="83.0" width=".9" height=".9"/><rect x="80.5" y="81.7" width=".9" height=".9"/><rect x="91.6" y="120.9" width=".9" height=".9"/><rect x="74.9" y="97.9" width=".9" height=".9"/><rect x="87.3" y="99.1" width=".9" height=".9"/><rect x="72.0" y="116.9" width=".9" height=".9"/><rect x="91.7" y="116.9" width=".9" height=".9"/><rect x="71.0" y="107.1" width=".9" height=".9"/><rect x="89.0" y="109.9" width=".9" height=".9"/><rect x="80.7" y="68.6" width=".9" height=".9"/><rect x="69.3" y="119.9" width=".9" height=".9"/><rect x="93.2" y="110.6" width=".9" height=".9"/><rect x="90.2" y="116.1" width=".9" height=".9"/><rect x="69.2" y="124.7" width=".9" height=".9"/><rect x="77.4" y="104.4" width=".9" height=".9"/><rect x="84.1" y="83.6" width=".9" height=".9"/><rect x="86.4" y="108.3" width=".9" height=".9"/><rect x="75.0" y="97.1" width=".9" height=".9"/><rect x="89.8" y="93.7" width=".9" height=".9"/><rect x="77.6" y="96.1" width=".9" height=".9"/><rect x="88.8" y="101.6" width=".9" height=".9"/><rect x="70.9" y="104.6" width=".9" height=".9"/><rect x="89.0" y="105.2" width=".9" height=".9"/><rect x="69.4" y="123.7" width=".9" height=".9"/><rect x="88.6" y="104.1" width=".9" height=".9"/><rect x="91.7" y="115.0" width=".9" height=".9"/><rect x="92.2" y="122.9" width=".9" height=".9"/><rect x="77.5" y="102.7" width=".9" height=".9"/><rect x="88.3" y="108.3" width=".9" height=".9"/><rect x="73.8" y="103.1" width=".9" height=".9"/><rect x="72.3" y="116.8" width=".9" height=".9"/><rect x="90.9" y="116.6" width=".9" height=".9"/><rect x="89.6" y="111.2" width=".9" height=".9"/><rect x="90.9" y="117.8" width=".9" height=".9"/><rect x="93.3" y="122.1" width=".9" height=".9"/><rect x="79.0" y="97.5" width=".9" height=".9"/><rect x="72.1" y="111.6" width=".9" height=".9"/><rect x="89.3" y="110.1" width=".9" height=".9"/><rect x="92.1" y="110.3" width=".9" height=".9"/><rect x="73.2" y="112.4" width=".9" height=".9"/><rect x="83.2" y="81.1" width=".9" height=".9"/><rect x="69.4" y="112.6" width=".9" height=".9"/><rect x="92.6" y="124.7" width=".9" height=".9"/><rect x="75.5" y="105.7" width=".9" height=".9"/><rect x="92.3" y="123.2" width=".9" height=".9"/><rect x="69.7" y="124.4" width=".9" height=".9"/><rect x="68.9" y="114.7" width=".9" height=".9"/><rect x="86.4" y="84.6" width=".9" height=".9"/><rect x="69.7" y="111.1" width=".9" height=".9"/><rect x="70.4" y="117.8" width=".9" height=".9"/><rect x="71.2" y="118.9" width=".9" height=".9"/><rect x="75.2" y="98.4" width=".9" height=".9"/><rect x="75.9" y="98.9" width=".9" height=".9"/><rect x="69.6" y="123.4" width=".9" height=".9"/><rect x="91.6" y="120.5" width=".9" height=".9"/><rect x="88.5" y="106.1" width=".9" height=".9"/><rect x="85.1" y="85.8" width=".9" height=".9"/><rect x="71.7" y="112.8" width=".9" height=".9"/><rect x="68.8" y="123.6" width=".9" height=".9"/><rect x="85.5" y="106.6" width=".9" height=".9"/><rect x="90.6" y="115.2" width=".9" height=".9"/><rect x="91.4" y="121.0" width=".9" height=".9"/><rect x="71.1" y="110.0" width=".9" height=".9"/><rect x="91.9" y="107.3" width=".9" height=".9"/><rect x="76.2" y="78.0" width=".9" height=".9"/><rect x="86.6" y="64.2" width=".9" height=".9"/><rect x="73.4" y="109.7" width=".9" height=".9"/><rect x="69.3" y="114.4" width=".9" height=".9"/><rect x="70.4" y="120.9" width=".9" height=".9"/><rect x="93.6" y="114.2" width=".9" height=".9"/><rect x="90.1" y="117.7" width=".9" height=".9"/><rect x="92.2" y="122.2" width=".9" height=".9"/><rect x="69.0" y="119.5" width=".9" height=".9"/><rect x="75.0" y="105.0" width=".9" height=".9"/><rect x="86.6" y="104.0" width=".9" height=".9"/><rect x="90.9" y="102.1" width=".9" height=".9"/><rect x="74.2" y="109.8" width=".9" height=".9"/><rect x="70.4" y="107.2" width=".9" height=".9"/><rect x="74.8" y="105.2" width=".9" height=".9"/><rect x="87.9" y="105.3" width=".9" height=".9"/><rect x="74.6" y="96.4" width=".9" height=".9"/><rect x="88.3" y="106.6" width=".9" height=".9"/><rect x="83.7" y="97.9" width=".9" height=".9"/><rect x="86.7" y="107.1" width=".9" height=".9"/><rect x="70.4" y="110.4" width=".9" height=".9"/><rect x="70.7" y="110.1" width=".9" height=".9"/><rect x="71.3" y="109.9" width=".9" height=".9"/><rect x="92.5" y="118.8" width=".9" height=".9"/><rect x="73.4" y="107.7" width=".9" height=".9"/><rect x="73.3" y="108.4" width=".9" height=".9"/><rect x="68.9" y="116.1" width=".9" height=".9"/><rect x="89.1" y="102.4" width=".9" height=".9"/><rect x="70.4" y="111.8" width=".9" height=".9"/><rect x="91.1" y="118.2" width=".9" height=".9"/><rect x="90.4" y="107.7" width=".9" height=".9"/><rect x="82.8" y="97.3" width=".9" height=".9"/><rect x="90.8" y="105.2" width=".9" height=".9"/><rect x="74.2" y="111.3" width=".9" height=".9"/><rect x="91.7" y="116.5" width=".9" height=".9"/><rect x="92.2" y="120.1" width=".9" height=".9"/><rect x="87.8" y="97.2" width=".9" height=".9"/><rect x="73.5" y="105.9" width=".9" height=".9"/><rect x="88.1" y="104.9" width=".9" height=".9"/><rect x="91.9" y="120.0" width=".9" height=".9"/><rect x="87.6" y="109.2" width=".9" height=".9"/><rect x="91.9" y="107.4" width=".9" height=".9"/><rect x="73.2" y="113.0" width=".9" height=".9"/><rect x="92.6" y="117.6" width=".9" height=".9"/><rect x="92.9" y="123.0" width=".9" height=".9"/><rect x="81.9" y="64.2" width=".9" height=".9"/><rect x="89.2" y="109.2" width=".9" height=".9"/><rect x="89.9" y="103.0" width=".9" height=".9"/><rect x="91.9" y="112.6" width=".9" height=".9"/><rect x="72.1" y="112.9" width=".9" height=".9"/><rect x="92.7" y="106.3" width=".9" height=".9"/><rect x="74.3" y="88.5" width=".9" height=".9"/><rect x="88.9" y="101.4" width=".9" height=".9"/><rect x="70.9" y="103.6" width=".9" height=".9"/><rect x="74.4" y="107.7" width=".9" height=".9"/><rect x="70.9" y="105.1" width=".9" height=".9"/><rect x="89.9" y="115.4" width=".9" height=".9"/><rect x="71.6" y="110.2" width=".9" height=".9"/><rect x="79.0" y="84.7" width=".9" height=".9"/><rect x="93.3" y="118.6" width=".9" height=".9"/><rect x="74.7" y="73.8" width=".9" height=".9"/><rect x="90.5" y="116.0" width=".9" height=".9"/><rect x="89.4" y="111.3" width=".9" height=".9"/><rect x="77.2" y="100.1" width=".9" height=".9"/><rect x="89.3" y="115.0" width=".9" height=".9"/><rect x="88.1" y="93.8" width=".9" height=".9"/><rect x="91.1" y="116.1" width=".9" height=".9"/><rect x="85.5" y="92.6" width=".9" height=".9"/><rect x="86.8" y="100.7" width=".9" height=".9"/><rect x="72.3" y="116.3" width=".9" height=".9"/><rect x="89.6" y="107.6" width=".9" height=".9"/><rect x="91.9" y="109.2" width=".9" height=".9"/><rect x="73.1" y="114.0" width=".9" height=".9"/><rect x="72.4" y="109.6" width=".9" height=".9"/><rect x="91.3" y="106.2" width=".9" height=".9"/><rect x="70.2" y="116.1" width=".9" height=".9"/><rect x="87.5" y="101.8" width=".9" height=".9"/><rect x="93.1" y="118.0" width=".9" height=".9"/><rect x="87.9" y="96.3" width=".9" height=".9"/><rect x="73.4" y="103.5" width=".9" height=".9"/><rect x="80.1" y="85.7" width=".9" height=".9"/><rect x="86.9" y="84.7" width=".9" height=".9"/><rect x="88.5" y="84.4" width=".9" height=".9"/><rect x="72.0" y="118.0" width=".9" height=".9"/><rect x="91.0" y="101.1" width=".9" height=".9"/><rect x="78.9" y="97.7" width=".9" height=".9"/></g>
<path d="M107.65,44.00 L107.67,45.02 L107.68,46.03 L107.69,47.05 L107.70,48.06 L107.72,49.08 L107.74,50.10 L107.78,51.11 L107.83,52.13 L107.91,53.15 L108.00,54.16 L108.12,55.18 L108.34,56.20 L108.64,57.21 L109.01,58.23 L109.40,59.24 L109.80,60.26 L110.22,61.28 L110.66,62.29 L111.11,63.31 L111.57,64.33 L112.02,65.34 L112.44,66.36 L112.84,67.37 L113.22,68.39 L113.59,69.41 L113.94,70.42 L114.28,71.44 L114.62,72.45 L114.94,73.47 L115.25,74.49 L115.56,75.50 L115.86,76.52 L116.15,77.54 L116.44,78.55 L116.71,79.57 L116.97,80.58 L117.21,81.60 L117.44,82.62 L117.67,83.63 L117.89,84.65 L118.11,85.67 L118.32,86.68 L118.50,87.70 L118.66,88.72 L118.79,89.73 L118.88,90.75 L118.93,91.76 L118.93,92.78 L118.89,93.80 L118.80,94.81 L118.67,95.83 L118.51,96.84 L118.33,97.86 L118.10,98.88 L117.80,99.89 L117.46,100.91 L117.08,101.93 L116.70,102.94 L116.32,103.96 L115.93,104.97 L115.53,105.99 L115.12,107.01 L114.70,108.02 L114.28,109.04 L113.88,110.06 L113.48,111.07 L113.09,112.09 L112.70,113.10 L112.32,114.12 L111.95,115.14 L111.59,116.15 L111.24,117.17 L110.90,118.19 L110.56,119.20 L110.23,120.22 L109.93,121.23 L109.64,122.25 L109.34,123.27 L108.98,124.28 L108.50,125.30 L106.10,125.30 L105.62,124.28 L105.26,123.27 L104.96,122.25 L104.67,121.23 L104.37,120.22 L104.04,119.20 L103.70,118.19 L103.36,117.17 L103.01,116.15 L102.65,115.14 L102.28,114.12 L101.90,113.10 L101.51,112.09 L101.12,111.07 L100.72,110.06 L100.32,109.04 L99.90,108.02 L99.48,107.01 L99.07,105.99 L98.67,104.97 L98.28,103.96 L97.90,102.94 L97.52,101.93 L97.14,100.91 L96.80,99.89 L96.50,98.88 L96.27,97.86 L96.09,96.84 L95.93,95.83 L95.80,94.81 L95.71,93.80 L95.67,92.78 L95.67,91.76 L95.72,90.75 L95.81,89.73 L95.94,88.72 L96.10,87.70 L96.28,86.68 L96.49,85.67 L96.71,84.65 L96.93,83.63 L97.16,82.62 L97.39,81.60 L97.63,80.58 L97.89,79.57 L98.16,78.55 L98.45,77.54 L98.74,76.52 L99.04,75.50 L99.35,74.49 L99.66,73.47 L99.98,72.45 L100.32,71.44 L100.66,70.42 L101.01,69.41 L101.38,68.39 L101.76,67.37 L102.16,66.36 L102.58,65.34 L103.03,64.33 L103.49,63.31 L103.94,62.29 L104.38,61.28 L104.80,60.26 L105.20,59.24 L105.59,58.23 L105.96,57.21 L106.26,56.20 L106.48,55.18 L106.60,54.16 L106.69,53.15 L106.77,52.13 L106.82,51.11 L106.86,50.10 L106.88,49.08 L106.90,48.06 L106.91,47.05 L106.92,46.03 L106.93,45.02 L106.95,44.00 Z" fill="#1bb0e0" stroke="#222" stroke-width="0.6"/>
<g fill="#111" opacity="0.75"><rect x="116.5" y="98.1" width=".9" height=".9"/><rect x="113.0" y="74.8" width=".9" height=".9"/><rect x="108.2" y="94.1" width=".9" height=".9"/><rect x="106.9" y="124.7" width=".9" height=".9"/><rect x="117.6" y="88.9" width=".9" height=".9"/><rect x="110.3" y="94.7" width=".9" height=".9"/><rect x="117.1" y="87.4" width=".9" height=".9"/><rect x="104.7" y="109.1" width=".9" height=".9"/><rect x="103.5" y="87.0" width=".9" height=".9"/><rect x="113.4" y="91.7" width=".9" height=".9"/><rect x="103.9" y="86.0" width=".9" height=".9"/><rect x="108.6" y="109.3" width=".9" height=".9"/><rect x="113.9" y="91.2" width=".9" height=".9"/><rect x="114.3" y="85.2" width=".9" height=".9"/><rect x="115.0" y="99.6" width=".9" height=".9"/><rect x="101.8" y="90.1" width=".9" height=".9"/><rect x="115.2" y="88.1" width=".9" height=".9"/><rect x="110.6" y="116.3" width=".9" height=".9"/><rect x="113.4" y="98.7" width=".9" height=".9"/><rect x="99.8" y="81.9" width=".9" height=".9"/><rect x="111.0" y="105.2" width=".9" height=".9"/><rect x="105.3" y="98.0" width=".9" height=".9"/><rect x="103.8" y="80.6" width=".9" height=".9"/><rect x="108.0" y="102.1" width=".9" height=".9"/><rect x="104.8" y="100.9" width=".9" height=".9"/><rect x="111.9" y="67.8" width=".9" height=".9"/><rect x="104.7" y="95.9" width=".9" height=".9"/><rect x="115.3" y="80.6" width=".9" height=".9"/><rect x="99.7" y="84.8" width=".9" height=".9"/><rect x="114.8" y="83.1" width=".9" height=".9"/><rect x="107.6" y="97.7" width=".9" height=".9"/><rect x="105.4" y="96.1" width=".9" height=".9"/><rect x="100.6" y="82.1" width=".9" height=".9"/><rect x="106.1" y="86.2" width=".9" height=".9"/><rect x="101.8" y="88.1" width=".9" height=".9"/><rect x="97.5" y="89.8" width=".9" height=".9"/><rect x="108.0" y="79.9" width=".9" height=".9"/><rect x="104.7" y="98.3" width=".9" height=".9"/><rect x="108.4" y="68.5" width=".9" height=".9"/><rect x="97.3" y="97.2" width=".9" height=".9"/><rect x="112.5" y="83.6" width=".9" height=".9"/><rect x="106.1" y="94.9" width=".9" height=".9"/><rect x="111.8" y="110.3" width=".9" height=".9"/><rect x="104.9" y="92.4" width=".9" height=".9"/><rect x="117.7" y="89.7" width=".9" height=".9"/><rect x="110.4" y="98.6" width=".9" height=".9"/><rect x="101.4" y="102.4" width=".9" height=".9"/><rect x="112.2" y="101.3" width=".9" height=".9"/><rect x="118.0" y="90.6" width=".9" height=".9"/><rect x="113.2" y="69.6" width=".9" height=".9"/><rect x="107.1" y="88.7" width=".9" height=".9"/><rect x="110.3" y="98.1" width=".9" height=".9"/><rect x="111.0" y="80.0" width=".9" height=".9"/><rect x="100.7" y="92.6" width=".9" height=".9"/><rect x="112.4" y="91.0" width=".9" height=".9"/><rect x="117.2" y="89.6" width=".9" height=".9"/><rect x="105.8" y="70.1" width=".9" height=".9"/><rect x="100.3" y="73.9" width=".9" height=".9"/><rect x="107.9" y="80.3" width=".9" height=".9"/><rect x="99.3" y="82.7" width=".9" height=".9"/><rect x="110.6" y="116.1" width=".9" height=".9"/><rect x="107.3" y="111.8" width=".9" height=".9"/><rect x="110.1" y="98.1" width=".9" height=".9"/><rect x="113.8" y="86.9" width=".9" height=".9"/><rect x="108.1" y="116.4" width=".9" height=".9"/><rect x="117.4" y="92.8" width=".9" height=".9"/><rect x="111.4" y="102.8" width=".9" height=".9"/><rect x="102.9" y="82.3" width=".9" height=".9"/><rect x="107.1" y="88.3" width=".9" height=".9"/><rect x="102.4" y="92.4" width=".9" height=".9"/><rect x="99.2" y="98.0" width=".9" height=".9"/><rect x="99.5" y="84.1" width=".9" height=".9"/><rect x="99.2" y="85.6" width=".9" height=".9"/><rect x="106.6" y="65.6" width=".9" height=".9"/><rect x="115.9" y="96.6" width=".9" height=".9"/><rect x="104.9" y="61.5" width=".9" height=".9"/><rect x="105.6" y="69.5" width=".9" height=".9"/><rect x="113.0" y="100.7" width=".9" height=".9"/><rect x="100.0" y="92.4" width=".9" height=".9"/><rect x="113.4" y="104.6" width=".9" height=".9"/><rect x="116.6" y="85.9" width=".9" height=".9"/><rect x="109.3" y="96.7" width=".9" height=".9"/><rect x="108.9" y="84.2" width=".9" height=".9"/><rect x="108.6" y="78.3" width=".9" height=".9"/><rect x="105.7" y="73.4" width=".9" height=".9"/><rect x="109.3" y="76.1" width=".9" height=".9"/><rect x="102.5" y="112.0" width=".9" height=".9"/><rect x="106.6" y="100.8" width=".9" height=".9"/><rect x="113.9" y="75.5" width=".9" height=".9"/><rect x="114.1" y="103.5" width=".9" height=".9"/><rect x="115.9" y="98.1" width=".9" height=".9"/><rect x="101.3" y="103.4" width=".9" height=".9"/><rect x="105.3" y="93.3" width=".9" height=".9"/><rect x="103.8" y="94.7" width=".9" height=".9"/><rect x="103.0" y="89.6" width=".9" height=".9"/><rect x="107.6" y="94.3" width=".9" height=".9"/><rect x="112.9" y="71.0" width=".9" height=".9"/><rect x="105.0" y="76.8" width=".9" height=".9"/><rect x="104.7" y="86.7" width=".9" height=".9"/><rect x="100.9" y="81.5" width=".9" height=".9"/><rect x="101.8" y="88.7" width=".9" height=".9"/><rect x="104.3" y="67.7" width=".9" height=".9"/><rect x="97.3" y="97.2" width=".9" height=".9"/><rect x="109.2" y="87.0" width=".9" height=".9"/><rect x="110.2" y="112.9" width=".9" height=".9"/><rect x="102.5" y="96.3" width=".9" height=".9"/><rect x="105.9" y="72.4" width=".9" height=".9"/><rect x="100.3" y="97.4" width=".9" height=".9"/><rect x="112.3" y="82.7" width=".9" height=".9"/><rect x="102.8" y="107.6" width=".9" height=".9"/><rect x="99.2" y="97.6" width=".9" height=".9"/><rect x="105.2" y="88.8" width=".9" height=".9"/><rect x="103.6" y="109.1" width=".9" height=".9"/><rect x="108.9" y="87.6" width=".9" height=".9"/><rect x="108.1" y="70.2" width=".9" height=".9"/><rect x="103.9" y="100.4" width=".9" height=".9"/><rect x="103.8" y="81.4" width=".9" height=".9"/><rect x="104.3" y="105.8" width=".9" height=".9"/><rect x="108.2" y="87.0" width=".9" height=".9"/><rect x="114.0" y="98.7" width=".9" height=".9"/><rect x="108.0" y="107.3" width=".9" height=".9"/><rect x="107.9" y="106.6" width=".9" height=".9"/><rect x="102.4" y="76.4" width=".9" height=".9"/><rect x="112.4" y="99.3" width=".9" height=".9"/><rect x="104.3" y="83.6" width=".9" height=".9"/><rect x="114.0" y="80.6" width=".9" height=".9"/><rect x="115.0" y="102.1" width=".9" height=".9"/><rect x="99.0" y="96.7" width=".9" height=".9"/><rect x="106.2" y="70.2" width=".9" height=".9"/><rect x="109.6" y="80.1" width=".9" height=".9"/><rect x="105.6" y="72.1" width=".9" height=".9"/><rect x="102.9" y="89.6" width=".9" height=".9"/><rect x="112.0" y="103.7" width=".9" height=".9"/><rect x="102.6" y="82.3" width=".9" height=".9"/><rect x="115.2" y="94.1" width=".9" height=".9"/><rect x="108.2" y="111.1" width=".9" height=".9"/><rect x="105.5" y="120.1" width=".9" height=".9"/><rect x="101.5" y="73.9" width=".9" height=".9"/><rect x="98.4" y="101.6" width=".9" height=".9"/><rect x="110.2" y="118.8" width=".9" height=".9"/><rect x="105.3" y="98.5" width=".9" height=".9"/><rect x="100.7" y="89.4" width=".9" height=".9"/><rect x="108.0" y="113.8" width=".9" height=".9"/><rect x="116.6" y="90.7" width=".9" height=".9"/><rect x="105.4" y="79.7" width=".9" height=".9"/><rect x="96.4" y="92.1" width=".9" height=".9"/><rect x="104.3" y="105.3" width=".9" height=".9"/><rect x="106.8" y="70.4" width=".9" height=".9"/><rect x="113.8" y="100.9" width=".9" height=".9"/><rect x="108.8" y="59.0" width=".9" height=".9"/><rect x="99.1" y="98.5" width=".9" height=".9"/><rect x="106.7" y="93.7" width=".9" height=".9"/><rect x="109.7" y="82.4" width=".9" height=".9"/><rect x="106.5" y="78.4" width=".9" height=".9"/><rect x="118.2" y="88.7" width=".9" height=".9"/><rect x="101.2" y="89.3" width=".9" height=".9"/><rect x="101.8" y="95.3" width=".9" height=".9"/><rect x="115.4" y="79.5" width=".9" height=".9"/><rect x="110.2" y="82.7" width=".9" height=".9"/><rect x="115.1" y="95.4" width=".9" height=".9"/><rect x="113.5" y="88.1" width=".9" height=".9"/><rect x="102.9" y="84.7" width=".9" height=".9"/><rect x="98.7" y="93.6" width=".9" height=".9"/><rect x="107.8" y="107.4" width=".9" height=".9"/><rect x="99.4" y="103.8" width=".9" height=".9"/><rect x="103.2" y="98.7" width=".9" height=".9"/><rect x="103.8" y="87.3" width=".9" height=".9"/><rect x="107.7" y="84.3" width=".9" height=".9"/><rect x="105.4" y="106.4" width=".9" height=".9"/><rect x="105.3" y="103.9" width=".9" height=".9"/><rect x="98.4" y="90.1" width=".9" height=".9"/><rect x="109.8" y="102.3" width=".9" height=".9"/><rect x="99.6" y="76.1" width=".9" height=".9"/><rect x="102.9" y="85.4" width=".9" height=".9"/><rect x="116.3" y="87.9" width=".9" height=".9"/><rect x="109.2" y="90.9" width=".9" height=".9"/><rect x="107.2" y="54.7" width=".9" height=".9"/><rect x="104.3" y="65.1" width=".9" height=".9"/><rect x="103.4" y="77.7" width=".9" height=".9"/><rect x="114.3" y="81.2" width=".9" height=".9"/><rect x="107.3" y="116.5" width=".9" height=".9"/><rect x="103.3" y="89.6" width=".9" height=".9"/><rect x="110.1" y="94.3" width=".9" height=".9"/><rect x="97.8" y="94.4" width=".9" height=".9"/><rect x="104.7" y="98.7" width=".9" height=".9"/><rect x="115.1" y="95.8" width=".9" height=".9"/><rect x="108.1" y="105.2" width=".9" height=".9"/><rect x="101.1" y="97.3" width=".9" height=".9"/><rect x="96.9" y="92.1" width=".9" height=".9"/><rect x="113.3" y="92.9" width=".9" height=".9"/><rect x="117.1" y="87.1" width=".9" height=".9"/><rect x="108.2" y="76.2" width=".9" height=".9"/><rect x="112.1" y="106.6" width=".9" height=".9"/><rect x="117.7" y="95.9" width=".9" height=".9"/><rect x="108.8" y="105.8" width=".9" height=".9"/><rect x="113.5" y="79.7" width=".9" height=".9"/><rect x="111.8" y="83.8" width=".9" height=".9"/><rect x="103.1" y="82.2" width=".9" height=".9"/><rect x="107.3" y="80.1" width=".9" height=".9"/><rect x="99.2" y="87.1" width=".9" height=".9"/><rect x="112.6" y="72.6" width=".9" height=".9"/><rect x="104.8" y="74.0" width=".9" height=".9"/><rect x="110.4" y="90.8" width=".9" height=".9"/><rect x="103.7" y="92.3" width=".9" height=".9"/><rect x="97.8" y="87.4" width=".9" height=".9"/><rect x="110.4" y="104.6" width=".9" height=".9"/><rect x="105.4" y="108.7" width=".9" height=".9"/><rect x="99.6" y="82.9" width=".9" height=".9"/><rect x="99.9" y="84.4" width=".9" height=".9"/><rect x="106.9" y="114.2" width=".9" height=".9"/><rect x="102.1" y="82.1" width=".9" height=".9"/><rect x="115.2" y="85.4" width=".9" height=".9"/><rect x="106.6" y="91.4" width=".9" height=".9"/><rect x="114.6" y="87.7" width=".9" height=".9"/><rect x="106.0" y="124.1" width=".9" height=".9"/><rect x="112.7" y="80.6" width=".9" height=".9"/><rect x="107.4" y="117.6" width=".9" height=".9"/><rect x="106.3" y="80.7" width=".9" height=".9"/><rect x="100.4" y="86.1" width=".9" height=".9"/><rect x="107.6" y="102.3" width=".9" height=".9"/><rect x="109.1" y="87.9" width=".9" height=".9"/><rect x="114.6" y="80.3" width=".9" height=".9"/><rect x="98.6" y="100.2" width=".9" height=".9"/><rect x="117.6" y="95.8" width=".9" height=".9"/><rect x="101.0" y="92.7" width=".9" height=".9"/><rect x="96.5" y="94.7" width=".9" height=".9"/><rect x="109.6" y="93.5" width=".9" height=".9"/><rect x="107.7" y="93.9" width=".9" height=".9"/><rect x="98.7" y="97.1" width=".9" height=".9"/><rect x="117.5" y="88.4" width=".9" height=".9"/><rect x="108.7" y="91.2" width=".9" height=".9"/><rect x="106.1" y="113.5" width=".9" height=".9"/><rect x="110.3" y="90.9" width=".9" height=".9"/><rect x="111.8" y="70.1" width=".9" height=".9"/><rect x="110.0" y="110.7" width=".9" height=".9"/><rect x="107.5" y="67.5" width=".9" height=".9"/><rect x="113.1" y="87.3" width=".9" height=".9"/><rect x="101.9" y="84.6" width=".9" height=".9"/><rect x="106.0" y="99.2" width=".9" height=".9"/><rect x="104.3" y="99.5" width=".9" height=".9"/><rect x="101.1" y="91.6" width=".9" height=".9"/><rect x="109.7" y="64.9" width=".9" height=".9"/><rect x="108.5" y="90.6" width=".9" height=".9"/><rect x="106.5" y="86.1" width=".9" height=".9"/><rect x="116.7" y="85.4" width=".9" height=".9"/><rect x="110.7" y="101.0" width=".9" height=".9"/><rect x="106.2" y="84.7" width=".9" height=".9"/><rect x="98.2" y="96.5" width=".9" height=".9"/><rect x="103.8" y="81.7" width=".9" height=".9"/><rect x="97.7" y="101.3" width=".9" height=".9"/><rect x="109.9" y="89.3" width=".9" height=".9"/><rect x="108.6" y="115.2" width=".9" height=".9"/><rect x="113.2" y="96.6" width=".9" height=".9"/><rect x="107.1" y="88.1" width=".9" height=".9"/><rect x="107.1" y="87.8" width=".9" height=".9"/><rect x="102.4" y="101.7" width=".9" height=".9"/><rect x="101.3" y="78.2" width=".9" height=".9"/><rect x="102.3" y="97.5" width=".9" height=".9"/><rect x="113.4" y="83.5" width=".9" height=".9"/><rect x="110.9" y="94.5" width=".9" height=".9"/><rect x="111.6" y="86.4" width=".9" height=".9"/><rect x="107.1" y="85.6" width=".9" height=".9"/><rect x="112.6" y="96.9" width=".9" height=".9"/><rect x="114.8" y="88.1" width=".9" height=".9"/><rect x="108.3" y="99.7" width=".9" height=".9"/><rect x="104.9" y="115.5" width=".9" height=".9"/><rect x="107.2" y="99.8" width=".9" height=".9"/><rect x="110.2" y="65.0" width=".9" height=".9"/><rect x="105.7" y="96.5" width=".9" height=".9"/><rect x="115.4" y="93.5" width=".9" height=".9"/><rect x="97.9" y="96.7" width=".9" height=".9"/><rect x="113.0" y="104.1" width=".9" height=".9"/><rect x="114.4" y="102.3" width=".9" height=".9"/><rect x="103.7" y="98.4" width=".9" height=".9"/><rect x="106.0" y="87.3" width=".9" height=".9"/><rect x="99.5" y="82.9" width=".9" height=".9"/><rect x="105.8" y="85.2" width=".9" height=".9"/><rect x="105.2" y="79.4" width=".9" height=".9"/><rect x="117.3" y="86.3" width=".9" height=".9"/><rect x="112.2" y="88.6" width=".9" height=".9"/><rect x="103.7" y="68.4" width=".9" height=".9"/><rect x="111.0" y="87.4" width=".9" height=".9"/><rect x="102.7" y="77.5" width=".9" height=".9"/><rect x="112.1" y="81.1" width=".9" height=".9"/><rect x="98.2" y="97.0" width=".9" height=".9"/><rect x="116.3" y="97.8" width=".9" height=".9"/><rect x="101.8" y="99.5" width=".9" height=".9"/><rect x="110.7" y="78.9" width=".9" height=".9"/><rect x="104.3" y="79.8" width=".9" height=".9"/><rect x="113.3" y="95.9" width=".9" height=".9"/><rect x="101.9" y="74.2" width=".9" height=".9"/><rect x="105.9" y="94.1" width=".9" height=".9"/><rect x="108.4" y="78.5" width=".9" height=".9"/><rect x="102.8" y="90.7" width=".9" height=".9"/><rect x="114.6" y="90.9" width=".9" height=".9"/><rect x="98.1" y="89.1" width=".9" height=".9"/><rect x="114.3" y="83.6" width=".9" height=".9"/><rect x="98.8" y="101.6" width=".9" height=".9"/><rect x="105.5" y="75.8" width=".9" height=".9"/><rect x="115.7" y="85.1" width=".9" height=".9"/><rect x="102.6" y="91.1" width=".9" height=".9"/><rect x="109.3" y="112.4" width=".9" height=".9"/><rect x="97.0" y="88.9" width=".9" height=".9"/><rect x="108.7" y="103.8" width=".9" height=".9"/><rect x="110.8" y="93.8" width=".9" height=".9"/><rect x="117.4" y="86.4" width=".9" height=".9"/><rect x="117.2" y="94.2" width=".9" height=".9"/><rect x="116.3" y="92.8" width=".9" height=".9"/><rect x="113.9" y="99.2" width=".9" height=".9"/><rect x="113.8" y="81.0" width=".9" height=".9"/><rect x="115.5" y="97.2" width=".9" height=".9"/><rect x="109.4" y="99.1" width=".9" height=".9"/><rect x="107.5" y="89.0" width=".9" height=".9"/><rect x="105.4" y="87.9" width=".9" height=".9"/><rect x="111.5" y="100.1" width=".9" height=".9"/><rect x="98.4" y="88.1" width=".9" height=".9"/><rect x="106.2" y="85.8" width=".9" height=".9"/><rect x="101.2" y="75.9" width=".9" height=".9"/><rect x="104.3" y="83.3" width=".9" height=".9"/><rect x="100.8" y="88.4" width=".9" height=".9"/><rect x="102.3" y="86.1" width=".9" height=".9"/><rect x="103.0" y="85.6" width=".9" height=".9"/><rect x="108.4" y="96.7" width=".9" height=".9"/><rect x="109.7" y="94.1" width=".9" height=".9"/><rect x="97.7" y="101.2" width=".9" height=".9"/><rect x="106.6" y="77.9" width=".9" height=".9"/><rect x="108.0" y="74.5" width=".9" height=".9"/><rect x="114.7" y="98.2" width=".9" height=".9"/><rect x="106.7" y="73.1" width=".9" height=".9"/><rect x="103.4" y="86.8" width=".9" height=".9"/><rect x="108.9" y="61.9" width=".9" height=".9"/><rect x="98.2" y="90.6" width=".9" height=".9"/><rect x="111.6" y="95.4" width=".9" height=".9"/><rect x="102.9" y="91.5" width=".9" height=".9"/><rect x="110.2" y="105.1" width=".9" height=".9"/><rect x="103.5" y="88.3" width=".9" height=".9"/></g>
<g fill="#2e2424" opacity="0.72"><rect x="115.6" y="105.7" width=".9" height=".9"/><rect x="112.3" y="115.2" width=".9" height=".9"/><rect x="116.7" y="76.3" width=".9" height=".9"/><rect x="116.4" y="110.7" width=".9" height=".9"/><rect x="96.7" y="109.9" width=".9" height=".9"/><rect x="98.5" y="106.3" width=".9" height=".9"/><rect x="100.0" y="115.5" width=".9" height=".9"/><rect x="100.6" y="64.8" width=".9" height=".9"/><rect x="111.1" y="124.6" width=".9" height=".9"/><rect x="114.1" y="110.6" width=".9" height=".9"/><rect x="115.9" y="77.7" width=".9" height=".9"/><rect x="97.8" y="73.7" width=".9" height=".9"/><rect x="100.1" y="72.5" width=".9" height=".9"/><rect x="102.4" y="62.9" width=".9" height=".9"/><rect x="99.0" y="69.3" width=".9" height=".9"/><rect x="105.1" y="121.8" width=".9" height=".9"/><rect x="112.7" y="117.0" width=".9" height=".9"/><rect x="115.4" y="69.1" width=".9" height=".9"/><rect x="100.4" y="66.1" width=".9" height=".9"/><rect x="102.2" y="114.0" width=".9" height=".9"/><rect x="116.8" y="106.2" width=".9" height=".9"/><rect x="117.4" y="71.5" width=".9" height=".9"/><rect x="112.1" y="120.5" width=".9" height=".9"/><rect x="117.7" y="99.1" width=".9" height=".9"/><rect x="96.6" y="103.1" width=".9" height=".9"/><rect x="100.8" y="66.0" width=".9" height=".9"/><rect x="112.7" y="61.1" width=".9" height=".9"/><rect x="118.1" y="85.6" width=".9" height=".9"/><rect x="109.3" y="51.3" width=".9" height=".9"/><rect x="96.6" y="73.8" width=".9" height=".9"/><rect x="115.6" y="70.3" width=".9" height=".9"/><rect x="97.6" y="81.3" width=".9" height=".9"/><rect x="116.7" y="78.2" width=".9" height=".9"/><rect x="114.0" y="70.4" width=".9" height=".9"/><rect x="114.3" y="66.1" width=".9" height=".9"/><rect x="96.4" y="99.4" width=".9" height=".9"/><rect x="97.8" y="101.8" width=".9" height=".9"/><rect x="112.9" y="65.1" width=".9" height=".9"/><rect x="117.9" y="78.9" width=".9" height=".9"/><rect x="97.3" y="105.2" width=".9" height=".9"/><rect x="101.4" y="68.2" width=".9" height=".9"/><rect x="116.1" y="66.2" width=".9" height=".9"/><rect x="101.6" y="115.1" width=".9" height=".9"/><rect x="99.7" y="108.6" width=".9" height=".9"/><rect x="98.2" y="109.1" width=".9" height=".9"/><rect x="98.3" y="77.4" width=".9" height=".9"/><rect x="102.0" y="118.8" width=".9" height=".9"/><rect x="105.0" y="48.2" width=".9" height=".9"/><rect x="99.7" y="111.2" width=".9" height=".9"/><rect x="104.0" y="62.0" width=".9" height=".9"/><rect x="106.0" y="53.0" width=".9" height=".9"/><rect x="100.3" y="70.8" width=".9" height=".9"/><rect x="116.8" y="73.3" width=".9" height=".9"/><rect x="98.0" y="72.3" width=".9" height=".9"/><rect x="117.6" y="81.3" width=".9" height=".9"/><rect x="98.9" y="115.7" width=".9" height=".9"/><rect x="105.1" y="124.0" width=".9" height=".9"/><rect x="118.1" y="78.2" width=".9" height=".9"/><rect x="117.8" y="72.4" width=".9" height=".9"/><rect x="96.6" y="108.4" width=".9" height=".9"/><rect x="115.8" y="104.5" width=".9" height=".9"/><rect x="98.0" y="69.3" width=".9" height=".9"/><rect x="104.0" y="119.8" width=".9" height=".9"/><rect x="96.3" y="107.8" width=".9" height=".9"/><rect x="96.4" y="75.1" width=".9" height=".9"/><rect x="96.4" y="104.0" width=".9" height=".9"/><rect x="96.9" y="80.3" width=".9" height=".9"/><rect x="96.4" y="84.1" width=".9" height=".9"/><rect x="116.0" y="74.0" width=".9" height=".9"/><rect x="115.9" y="108.5" width=".9" height=".9"/><rect x="101.1" y="62.5" width=".9" height=".9"/><rect x="112.5" y="114.3" width=".9" height=".9"/><rect x="118.2" y="106.0" width=".9" height=".9"/><rect x="113.7" y="65.3" width=".9" height=".9"/><rect x="97.0" y="106.0" width=".9" height=".9"/><rect x="98.2" y="106.8" width=".9" height=".9"/><rect x="96.8" y="75.2" width=".9" height=".9"/><rect x="118.2" y="72.6" width=".9" height=".9"/><rect x="115.6" y="73.4" width=".9" height=".9"/><rect x="116.8" y="73.6" width=".9" height=".9"/><rect x="115.6" y="113.6" width=".9" height=".9"/><rect x="117.7" y="73.6" width=".9" height=".9"/><rect x="118.2" y="107.5" width=".9" height=".9"/><rect x="116.9" y="70.6" width=".9" height=".9"/><rect x="115.1" y="73.2" width=".9" height=".9"/><rect x="109.9" y="61.1" width=".9" height=".9"/><rect x="114.1" y="66.3" width=".9" height=".9"/><rect x="97.2" y="83.7" width=".9" height=".9"/><rect x="107.0" y="46.6" width=".9" height=".9"/><rect x="111.0" y="62.3" width=".9" height=".9"/><rect x="115.0" y="109.6" width=".9" height=".9"/><rect x="96.6" y="97.8" width=".9" height=".9"/><rect x="110.7" y="60.3" width=".9" height=".9"/><rect x="115.3" y="112.6" width=".9" height=".9"/></g>
<path d="M55.20,42.30 L55.20,40.10 L81.20,40.10 L81.20,42.30" fill="none" stroke="#333" stroke-width="1"/>
<text x="68.20" y="37.70" font-size="7.1" text-anchor="middle" fill="#333" stroke="#333" stroke-width="0.2" textLength="22.95" lengthAdjust="spacingAndGlyphs">8.6e−10</text>
<path d="M81.20,31.40 L81.20,29.20 L107.50,29.20 L107.50,31.40" fill="none" stroke="#333" stroke-width="1"/>
<text x="94.35" y="27.10" font-size="7" text-anchor="middle" fill="#333" stroke="#333" stroke-width="0.2" textLength="35.6" lengthAdjust="spacingAndGlyphs"><tspan font-style="italic">P</tspan> &lt; 2.22e−16</text>
<text x="126.10" y="64.90" font-size="6.1" text-anchor="start" fill="#333" stroke="#333" stroke-width="0.1" textLength="43.5" lengthAdjust="spacingAndGlyphs">Clinical outcome</text>
<rect x="125.90" y="70.00" width="5.80" height="5.80" fill="#e3123e" stroke="#3a3a3a" stroke-width="0.6"/>
<text x="134.80" y="74.80" font-size="6.1" text-anchor="start" fill="#333" stroke="#333" stroke-width="0.12">Normal</text>
<rect x="125.90" y="79.70" width="5.80" height="5.80" fill="#1ea34a" stroke="#3a3a3a" stroke-width="0.6"/>
<text x="134.80" y="84.50" font-size="6.1" text-anchor="start" fill="#333" stroke="#333" stroke-width="0.12">BTKi−S</text>
<rect x="125.90" y="89.40" width="5.80" height="5.80" fill="#1bb0e0" stroke="#3a3a3a" stroke-width="0.6"/>
<text x="134.80" y="94.20" font-size="6.1" text-anchor="start" fill="#333" stroke="#333" stroke-width="0.12">BTKi−R</text>
<text x="208.75" y="16.20" font-size="8.6" text-anchor="start" fill="#222" stroke="#222" stroke-width="0.22" textLength="77" lengthAdjust="spacingAndGlyphs">PAX5 in Tumor B cells</text>
<line x1="205.50" y1="26.00" x2="205.50" y2="130.70" stroke="#1a1a1a" stroke-width="1.2"/>
<line x1="204.90" y1="130.10" x2="288.80" y2="130.10" stroke="#1a1a1a" stroke-width="1.2"/>
<line x1="202.90" y1="38.00" x2="205.50" y2="38.00" stroke="#1a1a1a" stroke-width="0.9"/>
<text x="199.60" y="40.10" font-size="5.8" text-anchor="end" fill="#444" stroke="#444" stroke-width="0.22">2</text>
<line x1="202.90" y1="72.90" x2="205.50" y2="72.90" stroke="#1a1a1a" stroke-width="0.9"/>
<text x="199.60" y="75.00" font-size="5.8" text-anchor="end" fill="#444" stroke="#444" stroke-width="0.22">1</text>
<line x1="202.90" y1="107.60" x2="205.50" y2="107.60" stroke="#1a1a1a" stroke-width="0.9"/>
<text x="199.60" y="109.70" font-size="5.8" text-anchor="end" fill="#444" stroke="#444" stroke-width="0.22">0</text>
<line x1="221.00" y1="130.10" x2="221.00" y2="132.70" stroke="#1a1a1a" stroke-width="0.9"/>
<text x="221.60" y="137.90" font-size="5.8" text-anchor="end" fill="#333" stroke="#333" stroke-width="0.22" transform="rotate(-45 221.60 137.90)">Normal</text>
<line x1="247.00" y1="130.10" x2="247.00" y2="132.70" stroke="#1a1a1a" stroke-width="0.9"/>
<text x="247.60" y="137.90" font-size="5.8" text-anchor="end" fill="#333" stroke="#333" stroke-width="0.22" transform="rotate(-45 247.60 137.90)">BTKi−S</text>
<line x1="272.80" y1="130.10" x2="272.80" y2="132.70" stroke="#1a1a1a" stroke-width="0.9"/>
<text x="273.40" y="137.90" font-size="5.8" text-anchor="end" fill="#333" stroke="#333" stroke-width="0.22" transform="rotate(-45 273.40 137.90)">BTKi−R</text>
<text x="190.40" y="77.30" font-size="7" text-anchor="middle" fill="#1a1a1a" stroke="#1a1a1a" stroke-width="0.35" textLength="46.5" lengthAdjust="spacingAndGlyphs" transform="rotate(-90 190.40 77.30)">Relative expression</text>
<path d="M221.55,94.00 L221.55,94.39 L221.56,94.78 L221.56,95.17 L221.56,95.56 L221.55,95.95 L221.55,96.34 L221.55,96.73 L221.55,97.12 L221.55,97.51 L221.55,97.90 L221.55,98.29 L221.55,98.68 L221.55,99.07 L221.55,99.46 L221.55,99.85 L221.56,100.24 L221.57,100.63 L221.58,101.02 L221.60,101.41 L221.62,101.80 L221.64,102.19 L221.67,102.58 L221.70,102.97 L221.73,103.36 L221.77,103.75 L221.82,104.14 L221.89,104.53 L221.98,104.92 L222.09,105.31 L222.22,105.70 L222.37,106.09 L222.53,106.48 L222.69,106.87 L222.87,107.26 L223.04,107.65 L223.22,108.04 L223.41,108.43 L223.62,108.82 L223.84,109.21 L224.08,109.60 L224.32,109.99 L224.56,110.38 L224.79,110.77 L225.00,111.16 L225.20,111.55 L225.38,111.94 L225.53,112.33 L225.67,112.72 L225.81,113.11 L225.93,113.50 L226.04,113.89 L226.14,114.28 L226.22,114.67 L226.29,115.06 L226.35,115.45 L226.39,115.84 L226.39,116.23 L226.28,116.62 L226.10,117.01 L225.90,117.40 L225.76,117.79 L225.72,118.18 L225.83,118.57 L226.12,118.96 L226.52,119.35 L227.01,119.74 L227.55,120.13 L228.08,120.52 L228.59,120.91 L229.06,121.30 L229.55,121.69 L230.05,122.08 L230.55,122.47 L231.02,122.86 L231.45,123.25 L231.83,123.64 L232.14,124.03 L232.38,124.42 L232.56,124.81 L232.70,125.20 L209.70,125.20 L209.84,124.81 L210.02,124.42 L210.26,124.03 L210.57,123.64 L210.95,123.25 L211.38,122.86 L211.85,122.47 L212.35,122.08 L212.85,121.69 L213.34,121.30 L213.81,120.91 L214.32,120.52 L214.85,120.13 L215.39,119.74 L215.88,119.35 L216.28,118.96 L216.57,118.57 L216.68,118.18 L216.64,117.79 L216.50,117.40 L216.30,117.01 L216.12,116.62 L216.01,116.23 L216.01,115.84 L216.05,115.45 L216.11,115.06 L216.18,114.67 L216.26,114.28 L216.36,113.89 L216.47,113.50 L216.59,113.11 L216.73,112.72 L216.87,112.33 L217.02,111.94 L217.20,111.55 L217.40,111.16 L217.61,110.77 L217.84,110.38 L218.08,109.99 L218.32,109.60 L218.56,109.21 L218.78,108.82 L218.99,108.43 L219.18,108.04 L219.36,107.65 L219.53,107.26 L219.71,106.87 L219.87,106.48 L220.03,106.09 L220.18,105.70 L220.31,105.31 L220.42,104.92 L220.51,104.53 L220.58,104.14 L220.63,103.75 L220.67,103.36 L220.70,102.97 L220.73,102.58 L220.76,102.19 L220.78,101.80 L220.80,101.41 L220.82,101.02 L220.83,100.63 L220.84,100.24 L220.85,99.85 L220.85,99.46 L220.85,99.07 L220.85,98.68 L220.85,98.29 L220.85,97.90 L220.85,97.51 L220.85,97.12 L220.85,96.73 L220.85,96.34 L220.85,95.95 L220.84,95.56 L220.84,95.17 L220.84,94.78 L220.85,94.39 L220.85,94.00 Z" fill="#e3123e" stroke="#222" stroke-width="0.6"/>
<g fill="#2e2424" opacity="0.72"><rect x="228.2" y="113.4" width=".9" height=".9"/><rect x="227.8" y="119.7" width=".9" height=".9"/><rect x="218.0" y="97.4" width=".9" height=".9"/><rect x="213.0" y="115.5" width=".9" height=".9"/><rect x="215.8" y="111.6" width=".9" height=".9"/><rect x="213.1" y="108.8" width=".9" height=".9"/><rect x="212.3" y="117.5" width=".9" height=".9"/></g>
<path d="M247.55,44.00 L247.55,45.02 L247.56,46.03 L247.56,47.05 L247.56,48.06 L247.56,49.08 L247.56,50.09 L247.56,51.10 L247.56,52.12 L247.56,53.14 L247.56,54.15 L247.55,55.16 L247.55,56.18 L247.55,57.20 L247.55,58.21 L247.56,59.23 L247.56,60.24 L247.56,61.26 L247.56,62.27 L247.57,63.28 L247.57,64.30 L247.58,65.31 L247.59,66.33 L247.60,67.34 L247.61,68.36 L247.63,69.38 L247.64,70.39 L247.66,71.41 L247.68,72.42 L247.70,73.44 L247.73,74.45 L247.75,75.47 L247.78,76.48 L247.82,77.50 L247.92,78.51 L248.07,79.53 L248.26,80.54 L248.48,81.56 L248.70,82.57 L248.93,83.59 L249.18,84.60 L249.44,85.62 L249.73,86.63 L250.04,87.64 L250.38,88.66 L250.75,89.67 L251.15,90.69 L251.58,91.70 L252.02,92.72 L252.46,93.73 L252.90,94.75 L253.33,95.77 L253.74,96.78 L254.13,97.80 L254.48,98.81 L254.83,99.83 L255.16,100.84 L255.48,101.86 L255.79,102.87 L256.09,103.89 L256.38,104.90 L256.66,105.91 L256.93,106.93 L257.19,107.95 L257.44,108.96 L257.70,109.97 L257.94,110.99 L258.14,112.01 L258.30,113.02 L258.39,114.03 L258.40,115.05 L258.21,116.06 L257.84,117.08 L257.40,118.09 L257.00,119.11 L256.79,120.12 L256.89,121.14 L257.18,122.16 L257.43,123.17 L257.64,124.19 L257.80,125.20 L236.60,125.20 L236.76,124.19 L236.97,123.17 L237.22,122.16 L237.51,121.14 L237.61,120.12 L237.40,119.11 L237.00,118.09 L236.56,117.08 L236.19,116.06 L236.00,115.05 L236.01,114.03 L236.10,113.02 L236.26,112.01 L236.46,110.99 L236.70,109.97 L236.96,108.96 L237.21,107.95 L237.47,106.93 L237.74,105.91 L238.02,104.90 L238.31,103.89 L238.61,102.87 L238.92,101.86 L239.24,100.84 L239.57,99.83 L239.92,98.81 L240.27,97.80 L240.66,96.78 L241.07,95.77 L241.50,94.75 L241.94,93.73 L242.38,92.72 L242.82,91.70 L243.25,90.69 L243.65,89.67 L244.02,88.66 L244.36,87.64 L244.67,86.63 L244.96,85.62 L245.22,84.60 L245.47,83.59 L245.70,82.57 L245.92,81.56 L246.14,80.54 L246.33,79.53 L246.48,78.51 L246.58,77.50 L246.62,76.48 L246.65,75.47 L246.67,74.45 L246.70,73.44 L246.72,72.42 L246.74,71.41 L246.76,70.39 L246.77,69.38 L246.79,68.36 L246.80,67.34 L246.81,66.33 L246.82,65.31 L246.83,64.30 L246.83,63.28 L246.84,62.27 L246.84,61.26 L246.84,60.24 L246.84,59.23 L246.85,58.21 L246.85,57.20 L246.85,56.18 L246.85,55.16 L246.84,54.15 L246.84,53.14 L246.84,52.12 L246.84,51.10 L246.84,50.09 L246.84,49.08 L246.84,48.06 L246.84,47.05 L246.84,46.03 L246.85,45.02 L246.85,44.00 Z" fill="#1ea34a" stroke="#222" stroke-width="0.6"/>
<g fill="#111" opacity="0.70"><rect x="249.4" y="107.3" width=".9" height=".9"/><rect x="240.2" y="114.7" width=".9" height=".9"/><rect x="254.0" y="115.5" width=".9" height=".9"/><rect x="241.4" y="99.2" width=".9" height=".9"/><rect x="244.1" y="125.0" width=".9" height=".9"/><rect x="256.3" y="121.9" width=".9" height=".9"/><rect x="238.7" y="109.3" width=".9" height=".9"/><rect x="243.6" y="109.5" width=".9" height=".9"/><rect x="253.6" y="116.6" width=".9" height=".9"/><rect x="241.1" y="97.0" width=".9" height=".9"/><rect x="256.3" y="112.1" width=".9" height=".9"/><rect x="241.0" y="104.8" width=".9" height=".9"/><rect x="252.6" y="101.1" width=".9" height=".9"/><rect x="239.9" y="102.4" width=".9" height=".9"/><rect x="247.7" y="116.9" width=".9" height=".9"/><rect x="250.9" y="122.0" width=".9" height=".9"/><rect x="253.3" y="116.3" width=".9" height=".9"/><rect x="246.9" y="98.1" width=".9" height=".9"/><rect x="245.7" y="87.4" width=".9" height=".9"/><rect x="256.6" y="108.6" width=".9" height=".9"/><rect x="240.2" y="120.2" width=".9" height=".9"/><rect x="242.4" y="109.7" width=".9" height=".9"/><rect x="239.5" y="125.2" width=".9" height=".9"/><rect x="237.9" y="122.0" width=".9" height=".9"/><rect x="249.7" y="123.4" width=".9" height=".9"/><rect x="245.6" y="89.8" width=".9" height=".9"/><rect x="247.3" y="124.1" width=".9" height=".9"/><rect x="252.3" y="103.8" width=".9" height=".9"/><rect x="255.4" y="121.1" width=".9" height=".9"/><rect x="255.7" y="120.4" width=".9" height=".9"/><rect x="248.8" y="99.8" width=".9" height=".9"/><rect x="254.9" y="122.7" width=".9" height=".9"/><rect x="245.8" y="122.0" width=".9" height=".9"/><rect x="256.2" y="117.0" width=".9" height=".9"/><rect x="246.0" y="116.8" width=".9" height=".9"/><rect x="248.7" y="121.6" width=".9" height=".9"/><rect x="251.9" y="118.9" width=".9" height=".9"/><rect x="246.4" y="88.6" width=".9" height=".9"/><rect x="238.4" y="123.6" width=".9" height=".9"/><rect x="255.5" y="124.7" width=".9" height=".9"/><rect x="247.0" y="109.8" width=".9" height=".9"/><rect x="247.1" y="119.6" width=".9" height=".9"/><rect x="239.8" y="115.2" width=".9" height=".9"/><rect x="254.5" y="116.0" width=".9" height=".9"/><rect x="241.3" y="123.4" width=".9" height=".9"/><rect x="242.8" y="106.8" width=".9" height=".9"/><rect x="243.3" y="123.1" width=".9" height=".9"/><rect x="246.0" y="110.3" width=".9" height=".9"/><rect x="253.4" y="102.4" width=".9" height=".9"/><rect x="257.1" y="112.5" width=".9" height=".9"/><rect x="244.7" y="102.3" width=".9" height=".9"/><rect x="238.3" y="113.6" width=".9" height=".9"/><rect x="257.8" y="112.3" width=".9" height=".9"/><rect x="247.8" y="105.3" width=".9" height=".9"/><rect x="248.1" y="107.5" width=".9" height=".9"/><rect x="251.6" y="103.8" width=".9" height=".9"/><rect x="247.8" y="117.4" width=".9" height=".9"/><rect x="253.2" y="99.9" width=".9" height=".9"/><rect x="251.0" y="94.6" width=".9" height=".9"/><rect x="255.6" y="120.1" width=".9" height=".9"/><rect x="242.2" y="119.6" width=".9" height=".9"/><rect x="238.6" y="115.7" width=".9" height=".9"/><rect x="243.1" y="94.4" width=".9" height=".9"/><rect x="245.8" y="124.9" width=".9" height=".9"/><rect x="255.7" y="123.8" width=".9" height=".9"/><rect x="255.1" y="105.3" width=".9" height=".9"/><rect x="251.3" y="107.6" width=".9" height=".9"/><rect x="248.7" y="105.8" width=".9" height=".9"/><rect x="246.6" y="109.3" width=".9" height=".9"/><rect x="253.8" y="103.7" width=".9" height=".9"/><rect x="244.3" y="120.3" width=".9" height=".9"/><rect x="248.2" y="93.1" width=".9" height=".9"/><rect x="252.5" y="113.4" width=".9" height=".9"/><rect x="253.7" y="117.8" width=".9" height=".9"/><rect x="250.7" y="116.7" width=".9" height=".9"/><rect x="244.5" y="111.4" width=".9" height=".9"/><rect x="252.6" y="124.2" width=".9" height=".9"/><rect x="245.3" y="111.5" width=".9" height=".9"/><rect x="250.6" y="108.2" width=".9" height=".9"/><rect x="247.2" y="115.0" width=".9" height=".9"/><rect x="245.9" y="113.2" width=".9" height=".9"/><rect x="253.0" y="104.1" width=".9" height=".9"/><rect x="249.1" y="112.4" width=".9" height=".9"/><rect x="249.5" y="117.7" width=".9" height=".9"/><rect x="255.5" y="111.4" width=".9" height=".9"/><rect x="242.1" y="120.3" width=".9" height=".9"/><rect x="245.0" y="100.1" width=".9" height=".9"/><rect x="250.5" y="117.9" width=".9" height=".9"/><rect x="244.7" y="97.3" width=".9" height=".9"/><rect x="244.9" y="111.9" width=".9" height=".9"/><rect x="246.9" y="106.8" width=".9" height=".9"/><rect x="240.7" y="99.0" width=".9" height=".9"/><rect x="254.2" y="116.5" width=".9" height=".9"/><rect x="244.7" y="121.2" width=".9" height=".9"/><rect x="243.9" y="102.5" width=".9" height=".9"/><rect x="254.2" y="99.7" width=".9" height=".9"/><rect x="248.1" y="114.9" width=".9" height=".9"/><rect x="254.8" y="110.4" width=".9" height=".9"/><rect x="253.0" y="113.4" width=".9" height=".9"/><rect x="247.6" y="81.7" width=".9" height=".9"/><rect x="250.8" y="122.4" width=".9" height=".9"/><rect x="255.6" y="117.7" width=".9" height=".9"/><rect x="241.3" y="112.9" width=".9" height=".9"/><rect x="245.6" y="123.1" width=".9" height=".9"/><rect x="254.1" y="117.0" width=".9" height=".9"/><rect x="251.8" y="119.6" width=".9" height=".9"/><rect x="239.6" y="103.6" width=".9" height=".9"/><rect x="243.0" y="113.9" width=".9" height=".9"/><rect x="250.2" y="109.2" width=".9" height=".9"/><rect x="248.3" y="115.8" width=".9" height=".9"/><rect x="250.6" y="96.8" width=".9" height=".9"/><rect x="253.1" y="110.8" width=".9" height=".9"/><rect x="253.3" y="97.5" width=".9" height=".9"/><rect x="255.0" y="109.1" width=".9" height=".9"/><rect x="250.3" y="96.3" width=".9" height=".9"/><rect x="241.0" y="111.9" width=".9" height=".9"/><rect x="242.2" y="112.4" width=".9" height=".9"/><rect x="239.9" y="111.3" width=".9" height=".9"/><rect x="255.5" y="105.1" width=".9" height=".9"/><rect x="248.5" y="124.9" width=".9" height=".9"/><rect x="243.5" y="92.4" width=".9" height=".9"/><rect x="239.5" y="107.5" width=".9" height=".9"/><rect x="249.6" y="112.2" width=".9" height=".9"/><rect x="248.7" y="106.1" width=".9" height=".9"/><rect x="256.9" y="109.5" width=".9" height=".9"/><rect x="244.1" y="115.8" width=".9" height=".9"/><rect x="256.8" y="109.4" width=".9" height=".9"/><rect x="249.5" y="113.0" width=".9" height=".9"/><rect x="243.1" y="105.9" width=".9" height=".9"/><rect x="254.7" y="120.4" width=".9" height=".9"/><rect x="244.9" y="104.9" width=".9" height=".9"/><rect x="244.9" y="90.3" width=".9" height=".9"/><rect x="252.4" y="109.7" width=".9" height=".9"/><rect x="243.7" y="94.7" width=".9" height=".9"/><rect x="250.8" y="95.9" width=".9" height=".9"/><rect x="245.2" y="99.7" width=".9" height=".9"/><rect x="247.9" y="113.5" width=".9" height=".9"/><rect x="251.5" y="124.5" width=".9" height=".9"/><rect x="244.4" y="112.2" width=".9" height=".9"/><rect x="247.2" y="98.5" width=".9" height=".9"/><rect x="246.4" y="111.5" width=".9" height=".9"/><rect x="244.8" y="109.3" width=".9" height=".9"/><rect x="238.0" y="116.9" width=".9" height=".9"/><rect x="253.1" y="109.5" width=".9" height=".9"/><rect x="243.1" y="99.5" width=".9" height=".9"/><rect x="245.9" y="92.0" width=".9" height=".9"/><rect x="255.1" y="110.4" width=".9" height=".9"/><rect x="238.6" y="118.6" width=".9" height=".9"/><rect x="238.9" y="124.0" width=".9" height=".9"/><rect x="252.6" y="111.4" width=".9" height=".9"/><rect x="257.4" y="110.8" width=".9" height=".9"/><rect x="241.5" y="124.2" width=".9" height=".9"/><rect x="245.6" y="96.4" width=".9" height=".9"/><rect x="246.0" y="115.3" width=".9" height=".9"/><rect x="248.2" y="123.6" width=".9" height=".9"/><rect x="250.3" y="96.6" width=".9" height=".9"/><rect x="243.4" y="113.8" width=".9" height=".9"/><rect x="247.5" y="124.5" width=".9" height=".9"/><rect x="249.1" y="104.3" width=".9" height=".9"/><rect x="248.6" y="124.2" width=".9" height=".9"/><rect x="253.8" y="119.5" width=".9" height=".9"/><rect x="255.4" y="106.9" width=".9" height=".9"/><rect x="249.3" y="103.0" width=".9" height=".9"/><rect x="251.2" y="96.6" width=".9" height=".9"/><rect x="252.8" y="98.3" width=".9" height=".9"/><rect x="251.8" y="93.9" width=".9" height=".9"/><rect x="240.4" y="105.7" width=".9" height=".9"/><rect x="239.8" y="124.7" width=".9" height=".9"/><rect x="249.9" y="103.5" width=".9" height=".9"/><rect x="248.2" y="119.9" width=".9" height=".9"/><rect x="254.8" y="115.1" width=".9" height=".9"/><rect x="249.8" y="101.8" width=".9" height=".9"/><rect x="254.4" y="107.0" width=".9" height=".9"/><rect x="246.1" y="105.8" width=".9" height=".9"/><rect x="248.7" y="100.5" width=".9" height=".9"/><rect x="240.7" y="114.9" width=".9" height=".9"/><rect x="256.8" y="114.7" width=".9" height=".9"/><rect x="238.6" y="111.7" width=".9" height=".9"/><rect x="238.3" y="114.8" width=".9" height=".9"/><rect x="249.3" y="118.4" width=".9" height=".9"/><rect x="255.1" y="119.5" width=".9" height=".9"/><rect x="247.6" y="90.0" width=".9" height=".9"/><rect x="251.8" y="115.6" width=".9" height=".9"/><rect x="242.4" y="118.1" width=".9" height=".9"/><rect x="248.3" y="92.4" width=".9" height=".9"/><rect x="237.3" y="110.5" width=".9" height=".9"/><rect x="253.7" y="117.4" width=".9" height=".9"/><rect x="244.6" y="118.5" width=".9" height=".9"/><rect x="256.7" y="115.0" width=".9" height=".9"/><rect x="242.4" y="109.2" width=".9" height=".9"/><rect x="251.5" y="117.8" width=".9" height=".9"/><rect x="248.2" y="122.9" width=".9" height=".9"/><rect x="247.5" y="110.1" width=".9" height=".9"/><rect x="248.4" y="99.2" width=".9" height=".9"/><rect x="245.1" y="119.6" width=".9" height=".9"/><rect x="244.8" y="116.2" width=".9" height=".9"/><rect x="242.1" y="110.4" width=".9" height=".9"/><rect x="245.6" y="103.7" width=".9" height=".9"/><rect x="247.0" y="98.1" width=".9" height=".9"/><rect x="247.1" y="125.1" width=".9" height=".9"/><rect x="248.5" y="123.1" width=".9" height=".9"/><rect x="241.2" y="101.7" width=".9" height=".9"/><rect x="249.3" y="98.8" width=".9" height=".9"/><rect x="241.4" y="101.3" width=".9" height=".9"/><rect x="237.3" y="116.3" width=".9" height=".9"/><rect x="255.8" y="119.7" width=".9" height=".9"/><rect x="236.6" y="114.9" width=".9" height=".9"/><rect x="246.5" y="98.2" width=".9" height=".9"/><rect x="250.3" y="114.8" width=".9" height=".9"/><rect x="246.9" y="124.7" width=".9" height=".9"/><rect x="243.8" y="108.7" width=".9" height=".9"/><rect x="241.3" y="100.1" width=".9" height=".9"/><rect x="253.1" y="110.6" width=".9" height=".9"/><rect x="247.7" y="99.8" width=".9" height=".9"/><rect x="240.9" y="97.5" width=".9" height=".9"/><rect x="257.6" y="115.0" width=".9" height=".9"/><rect x="246.9" y="107.3" width=".9" height=".9"/><rect x="240.7" y="111.7" width=".9" height=".9"/><rect x="245.9" y="104.2" width=".9" height=".9"/><rect x="254.6" y="111.2" width=".9" height=".9"/><rect x="249.3" y="103.8" width=".9" height=".9"/><rect x="253.0" y="96.0" width=".9" height=".9"/><rect x="249.4" y="100.4" width=".9" height=".9"/><rect x="244.7" y="99.7" width=".9" height=".9"/><rect x="241.9" y="104.7" width=".9" height=".9"/><rect x="253.0" y="116.9" width=".9" height=".9"/><rect x="249.5" y="105.6" width=".9" height=".9"/><rect x="243.4" y="117.6" width=".9" height=".9"/><rect x="254.4" y="115.8" width=".9" height=".9"/><rect x="244.9" y="124.2" width=".9" height=".9"/><rect x="246.2" y="122.9" width=".9" height=".9"/><rect x="246.6" y="96.0" width=".9" height=".9"/><rect x="244.4" y="107.6" width=".9" height=".9"/><rect x="248.1" y="118.2" width=".9" height=".9"/><rect x="244.0" y="98.6" width=".9" height=".9"/><rect x="245.7" y="102.6" width=".9" height=".9"/><rect x="246.6" y="89.7" width=".9" height=".9"/><rect x="244.8" y="100.5" width=".9" height=".9"/><rect x="241.9" y="108.3" width=".9" height=".9"/><rect x="241.5" y="117.9" width=".9" height=".9"/><rect x="246.0" y="114.5" width=".9" height=".9"/><rect x="240.6" y="122.9" width=".9" height=".9"/><rect x="246.3" y="101.3" width=".9" height=".9"/><rect x="239.0" y="109.9" width=".9" height=".9"/><rect x="255.1" y="112.2" width=".9" height=".9"/><rect x="244.3" y="96.1" width=".9" height=".9"/><rect x="251.2" y="109.7" width=".9" height=".9"/><rect x="236.5" y="113.3" width=".9" height=".9"/><rect x="247.6" y="97.3" width=".9" height=".9"/><rect x="244.7" y="117.7" width=".9" height=".9"/><rect x="247.3" y="93.0" width=".9" height=".9"/><rect x="252.8" y="121.4" width=".9" height=".9"/><rect x="244.3" y="114.9" width=".9" height=".9"/><rect x="245.5" y="118.5" width=".9" height=".9"/><rect x="239.0" y="114.0" width=".9" height=".9"/><rect x="242.2" y="118.3" width=".9" height=".9"/><rect x="241.1" y="109.0" width=".9" height=".9"/><rect x="241.0" y="113.1" width=".9" height=".9"/><rect x="250.6" y="124.6" width=".9" height=".9"/><rect x="244.1" y="110.0" width=".9" height=".9"/><rect x="246.9" y="112.7" width=".9" height=".9"/><rect x="245.3" y="98.7" width=".9" height=".9"/><rect x="243.4" y="124.8" width=".9" height=".9"/><rect x="247.2" y="85.0" width=".9" height=".9"/><rect x="238.3" y="112.3" width=".9" height=".9"/><rect x="249.2" y="109.5" width=".9" height=".9"/><rect x="252.1" y="99.7" width=".9" height=".9"/><rect x="254.6" y="121.5" width=".9" height=".9"/><rect x="239.3" y="106.9" width=".9" height=".9"/><rect x="247.1" y="97.4" width=".9" height=".9"/><rect x="250.4" y="116.1" width=".9" height=".9"/><rect x="240.0" y="105.3" width=".9" height=".9"/><rect x="245.2" y="115.4" width=".9" height=".9"/><rect x="256.2" y="113.7" width=".9" height=".9"/><rect x="252.6" y="117.7" width=".9" height=".9"/><rect x="255.6" y="105.3" width=".9" height=".9"/><rect x="252.0" y="116.1" width=".9" height=".9"/><rect x="248.5" y="112.2" width=".9" height=".9"/><rect x="249.2" y="123.0" width=".9" height=".9"/><rect x="253.0" y="104.4" width=".9" height=".9"/><rect x="243.6" y="116.3" width=".9" height=".9"/><rect x="249.7" y="103.8" width=".9" height=".9"/><rect x="239.7" y="118.9" width=".9" height=".9"/><rect x="241.9" y="122.9" width=".9" height=".9"/><rect x="253.5" y="117.1" width=".9" height=".9"/><rect x="239.9" y="108.3" width=".9" height=".9"/><rect x="247.1" y="109.6" width=".9" height=".9"/><rect x="251.1" y="99.5" width=".9" height=".9"/><rect x="255.9" y="110.8" width=".9" height=".9"/><rect x="248.0" y="112.1" width=".9" height=".9"/><rect x="249.4" y="111.7" width=".9" height=".9"/><rect x="255.9" y="109.5" width=".9" height=".9"/><rect x="243.5" y="113.6" width=".9" height=".9"/><rect x="243.1" y="100.9" width=".9" height=".9"/><rect x="243.5" y="109.8" width=".9" height=".9"/><rect x="245.4" y="125.0" width=".9" height=".9"/><rect x="240.1" y="111.1" width=".9" height=".9"/><rect x="252.1" y="107.4" width=".9" height=".9"/><rect x="247.2" y="93.5" width=".9" height=".9"/><rect x="249.4" y="111.6" width=".9" height=".9"/><rect x="241.3" y="112.7" width=".9" height=".9"/><rect x="241.2" y="119.5" width=".9" height=".9"/><rect x="251.7" y="103.0" width=".9" height=".9"/><rect x="254.5" y="123.6" width=".9" height=".9"/><rect x="252.5" y="116.6" width=".9" height=".9"/><rect x="256.5" y="115.7" width=".9" height=".9"/><rect x="239.2" y="120.9" width=".9" height=".9"/><rect x="246.9" y="85.3" width=".9" height=".9"/><rect x="238.4" y="112.4" width=".9" height=".9"/><rect x="246.4" y="105.6" width=".9" height=".9"/><rect x="255.1" y="117.3" width=".9" height=".9"/><rect x="240.9" y="119.4" width=".9" height=".9"/><rect x="242.5" y="116.2" width=".9" height=".9"/><rect x="253.0" y="100.3" width=".9" height=".9"/><rect x="240.3" y="107.3" width=".9" height=".9"/><rect x="255.5" y="116.4" width=".9" height=".9"/><rect x="240.6" y="112.6" width=".9" height=".9"/><rect x="249.6" y="116.0" width=".9" height=".9"/><rect x="245.4" y="120.0" width=".9" height=".9"/><rect x="240.6" y="119.3" width=".9" height=".9"/><rect x="256.4" y="119.0" width=".9" height=".9"/><rect x="246.8" y="120.3" width=".9" height=".9"/><rect x="256.7" y="110.9" width=".9" height=".9"/><rect x="254.3" y="118.5" width=".9" height=".9"/><rect x="251.7" y="109.6" width=".9" height=".9"/><rect x="247.7" y="100.2" width=".9" height=".9"/><rect x="252.3" y="110.0" width=".9" height=".9"/><rect x="238.9" y="114.1" width=".9" height=".9"/><rect x="244.5" y="92.0" width=".9" height=".9"/><rect x="249.6" y="116.8" width=".9" height=".9"/><rect x="250.9" y="105.8" width=".9" height=".9"/><rect x="244.7" y="118.2" width=".9" height=".9"/><rect x="255.0" y="105.5" width=".9" height=".9"/><rect x="255.6" y="113.8" width=".9" height=".9"/><rect x="236.8" y="111.7" width=".9" height=".9"/><rect x="243.7" y="112.8" width=".9" height=".9"/><rect x="251.2" y="122.7" width=".9" height=".9"/><rect x="251.5" y="93.2" width=".9" height=".9"/><rect x="255.3" y="122.8" width=".9" height=".9"/><rect x="239.5" y="122.5" width=".9" height=".9"/><rect x="256.4" y="118.4" width=".9" height=".9"/><rect x="249.1" y="120.1" width=".9" height=".9"/><rect x="245.1" y="99.7" width=".9" height=".9"/><rect x="244.9" y="125.0" width=".9" height=".9"/><rect x="246.1" y="116.3" width=".9" height=".9"/><rect x="247.1" y="101.6" width=".9" height=".9"/><rect x="247.1" y="108.7" width=".9" height=".9"/><rect x="245.4" y="121.6" width=".9" height=".9"/><rect x="249.2" y="101.4" width=".9" height=".9"/><rect x="257.8" y="112.8" width=".9" height=".9"/><rect x="242.8" y="115.4" width=".9" height=".9"/><rect x="251.6" y="116.4" width=".9" height=".9"/><rect x="246.2" y="96.7" width=".9" height=".9"/><rect x="251.2" y="120.0" width=".9" height=".9"/><rect x="253.0" y="108.6" width=".9" height=".9"/><rect x="246.4" y="85.7" width=".9" height=".9"/><rect x="241.6" y="113.3" width=".9" height=".9"/><rect x="246.4" y="120.5" width=".9" height=".9"/><rect x="241.5" y="119.3" width=".9" height=".9"/><rect x="248.3" y="107.0" width=".9" height=".9"/><rect x="251.7" y="116.3" width=".9" height=".9"/><rect x="237.6" y="124.7" width=".9" height=".9"/><rect x="256.8" y="124.4" width=".9" height=".9"/><rect x="256.6" y="108.4" width=".9" height=".9"/><rect x="241.9" y="106.3" width=".9" height=".9"/><rect x="247.8" y="98.3" width=".9" height=".9"/><rect x="243.0" y="120.1" width=".9" height=".9"/><rect x="248.3" y="109.7" width=".9" height=".9"/><rect x="250.5" y="116.8" width=".9" height=".9"/><rect x="255.1" y="124.8" width=".9" height=".9"/><rect x="246.5" y="97.2" width=".9" height=".9"/><rect x="246.2" y="83.2" width=".9" height=".9"/><rect x="237.9" y="115.8" width=".9" height=".9"/><rect x="249.5" y="90.3" width=".9" height=".9"/><rect x="248.8" y="93.6" width=".9" height=".9"/><rect x="252.2" y="104.9" width=".9" height=".9"/><rect x="249.7" y="103.6" width=".9" height=".9"/><rect x="245.8" y="97.2" width=".9" height=".9"/><rect x="242.2" y="125.1" width=".9" height=".9"/><rect x="243.8" y="123.3" width=".9" height=".9"/><rect x="256.1" y="116.3" width=".9" height=".9"/><rect x="253.0" y="100.3" width=".9" height=".9"/><rect x="244.7" y="122.8" width=".9" height=".9"/><rect x="239.4" y="114.6" width=".9" height=".9"/><rect x="252.3" y="123.4" width=".9" height=".9"/><rect x="237.0" y="110.4" width=".9" height=".9"/><rect x="238.7" y="112.5" width=".9" height=".9"/><rect x="250.7" y="103.0" width=".9" height=".9"/><rect x="255.8" y="124.3" width=".9" height=".9"/></g>
<g fill="#2e2424" opacity="0.72"><rect x="256.5" y="94.5" width=".9" height=".9"/><rect x="235.8" y="99.7" width=".9" height=".9"/><rect x="258.4" y="100.5" width=".9" height=".9"/><rect x="258.5" y="108.1" width=".9" height=".9"/><rect x="255.3" y="100.4" width=".9" height=".9"/><rect x="236.0" y="106.4" width=".9" height=".9"/><rect x="257.0" y="106.4" width=".9" height=".9"/><rect x="258.1" y="120.1" width=".9" height=".9"/><rect x="237.4" y="98.9" width=".9" height=".9"/><rect x="256.2" y="103.9" width=".9" height=".9"/><rect x="258.2" y="124.7" width=".9" height=".9"/><rect x="240.7" y="93.3" width=".9" height=".9"/><rect x="245.1" y="78.2" width=".9" height=".9"/><rect x="257.5" y="108.2" width=".9" height=".9"/><rect x="242.7" y="90.7" width=".9" height=".9"/><rect x="258.3" y="105.2" width=".9" height=".9"/><rect x="258.0" y="119.8" width=".9" height=".9"/><rect x="237.8" y="92.4" width=".9" height=".9"/><rect x="238.2" y="104.3" width=".9" height=".9"/><rect x="249.7" y="61.5" width=".9" height=".9"/><rect x="259.1" y="107.0" width=".9" height=".9"/><rect x="238.8" y="86.7" width=".9" height=".9"/><rect x="245.6" y="77.5" width=".9" height=".9"/><rect x="257.1" y="90.4" width=".9" height=".9"/><rect x="241.7" y="94.9" width=".9" height=".9"/><rect x="235.8" y="115.9" width=".9" height=".9"/><rect x="235.3" y="108.5" width=".9" height=".9"/><rect x="254.1" y="72.8" width=".9" height=".9"/><rect x="252.7" y="83.6" width=".9" height=".9"/><rect x="256.6" y="119.4" width=".9" height=".9"/><rect x="238.0" y="105.1" width=".9" height=".9"/><rect x="258.6" y="123.6" width=".9" height=".9"/><rect x="235.3" y="124.9" width=".9" height=".9"/><rect x="235.3" y="96.0" width=".9" height=".9"/><rect x="236.0" y="104.9" width=".9" height=".9"/><rect x="257.0" y="99.7" width=".9" height=".9"/><rect x="257.4" y="98.3" width=".9" height=".9"/><rect x="257.0" y="92.5" width=".9" height=".9"/><rect x="237.6" y="106.8" width=".9" height=".9"/><rect x="257.1" y="104.1" width=".9" height=".9"/><rect x="256.6" y="105.4" width=".9" height=".9"/><rect x="254.7" y="92.3" width=".9" height=".9"/><rect x="235.8" y="103.1" width=".9" height=".9"/><rect x="257.9" y="110.7" width=".9" height=".9"/><rect x="239.2" y="98.1" width=".9" height=".9"/><rect x="257.7" y="96.1" width=".9" height=".9"/><rect x="257.9" y="102.7" width=".9" height=".9"/><rect x="256.5" y="93.3" width=".9" height=".9"/><rect x="257.0" y="99.7" width=".9" height=".9"/><rect x="258.8" y="125.1" width=".9" height=".9"/><rect x="237.2" y="120.2" width=".9" height=".9"/><rect x="257.7" y="103.0" width=".9" height=".9"/><rect x="240.8" y="80.7" width=".9" height=".9"/><rect x="236.2" y="125.1" width=".9" height=".9"/><rect x="238.8" y="102.0" width=".9" height=".9"/><rect x="258.4" y="114.8" width=".9" height=".9"/><rect x="258.9" y="122.4" width=".9" height=".9"/><rect x="235.7" y="115.2" width=".9" height=".9"/><rect x="236.1" y="92.7" width=".9" height=".9"/><rect x="244.6" y="85.0" width=".9" height=".9"/><rect x="257.1" y="100.0" width=".9" height=".9"/><rect x="256.4" y="104.7" width=".9" height=".9"/><rect x="258.8" y="109.5" width=".9" height=".9"/><rect x="254.1" y="87.3" width=".9" height=".9"/><rect x="258.6" y="94.9" width=".9" height=".9"/><rect x="236.9" y="107.1" width=".9" height=".9"/><rect x="259.2" y="119.1" width=".9" height=".9"/><rect x="235.8" y="110.1" width=".9" height=".9"/><rect x="235.4" y="111.7" width=".9" height=".9"/><rect x="257.9" y="100.7" width=".9" height=".9"/><rect x="256.7" y="102.1" width=".9" height=".9"/><rect x="238.4" y="103.9" width=".9" height=".9"/><rect x="256.7" y="121.2" width=".9" height=".9"/><rect x="238.2" y="101.2" width=".9" height=".9"/><rect x="256.1" y="102.2" width=".9" height=".9"/><rect x="236.9" y="104.2" width=".9" height=".9"/><rect x="252.2" y="61.3" width=".9" height=".9"/><rect x="236.5" y="118.3" width=".9" height=".9"/><rect x="257.4" y="107.1" width=".9" height=".9"/><rect x="257.9" y="116.6" width=".9" height=".9"/><rect x="246.2" y="74.2" width=".9" height=".9"/><rect x="255.6" y="102.7" width=".9" height=".9"/><rect x="258.1" y="106.7" width=".9" height=".9"/><rect x="238.0" y="100.3" width=".9" height=".9"/><rect x="236.3" y="97.2" width=".9" height=".9"/><rect x="258.2" y="111.6" width=".9" height=".9"/><rect x="257.1" y="122.9" width=".9" height=".9"/><rect x="257.2" y="106.6" width=".9" height=".9"/><rect x="258.3" y="111.2" width=".9" height=".9"/><rect x="235.3" y="115.2" width=".9" height=".9"/><rect x="257.6" y="123.0" width=".9" height=".9"/><rect x="235.3" y="124.5" width=".9" height=".9"/><rect x="244.0" y="61.5" width=".9" height=".9"/><rect x="236.9" y="93.1" width=".9" height=".9"/><rect x="237.2" y="106.1" width=".9" height=".9"/><rect x="256.5" y="106.6" width=".9" height=".9"/><rect x="243.0" y="75.6" width=".9" height=".9"/><rect x="254.0" y="83.1" width=".9" height=".9"/><rect x="257.8" y="122.5" width=".9" height=".9"/><rect x="257.8" y="101.3" width=".9" height=".9"/><rect x="239.7" y="96.8" width=".9" height=".9"/><rect x="258.8" y="98.4" width=".9" height=".9"/><rect x="248.1" y="61.4" width=".9" height=".9"/><rect x="257.9" y="100.7" width=".9" height=".9"/><rect x="258.7" y="108.2" width=".9" height=".9"/><rect x="235.6" y="106.6" width=".9" height=".9"/><rect x="258.6" y="107.3" width=".9" height=".9"/><rect x="241.1" y="80.4" width=".9" height=".9"/><rect x="257.5" y="98.4" width=".9" height=".9"/><rect x="238.3" y="103.6" width=".9" height=".9"/><rect x="238.6" y="99.9" width=".9" height=".9"/><rect x="256.8" y="100.0" width=".9" height=".9"/><rect x="258.7" y="105.7" width=".9" height=".9"/><rect x="258.4" y="112.3" width=".9" height=".9"/><rect x="238.6" y="95.3" width=".9" height=".9"/><rect x="258.0" y="106.2" width=".9" height=".9"/><rect x="255.9" y="101.7" width=".9" height=".9"/><rect x="256.6" y="94.1" width=".9" height=".9"/><rect x="258.6" y="102.2" width=".9" height=".9"/><rect x="258.9" y="104.7" width=".9" height=".9"/><rect x="252.4" y="86.7" width=".9" height=".9"/><rect x="235.9" y="107.3" width=".9" height=".9"/><rect x="258.8" y="96.0" width=".9" height=".9"/><rect x="256.6" y="100.7" width=".9" height=".9"/><rect x="257.7" y="108.5" width=".9" height=".9"/><rect x="253.9" y="92.8" width=".9" height=".9"/><rect x="259.1" y="119.4" width=".9" height=".9"/><rect x="236.5" y="95.2" width=".9" height=".9"/><rect x="238.4" y="102.1" width=".9" height=".9"/><rect x="255.9" y="96.3" width=".9" height=".9"/><rect x="258.5" y="121.7" width=".9" height=".9"/><rect x="244.8" y="81.4" width=".9" height=".9"/><rect x="257.9" y="117.5" width=".9" height=".9"/><rect x="235.7" y="113.8" width=".9" height=".9"/><rect x="258.7" y="117.2" width=".9" height=".9"/><rect x="236.4" y="100.1" width=".9" height=".9"/><rect x="239.1" y="97.8" width=".9" height=".9"/><rect x="258.5" y="121.8" width=".9" height=".9"/><rect x="258.9" y="109.8" width=".9" height=".9"/><rect x="237.8" y="101.7" width=".9" height=".9"/><rect x="237.1" y="106.9" width=".9" height=".9"/><rect x="236.4" y="121.6" width=".9" height=".9"/><rect x="241.2" y="49.3" width=".9" height=".9"/><rect x="258.9" y="104.1" width=".9" height=".9"/><rect x="237.1" y="108.4" width=".9" height=".9"/><rect x="236.9" y="123.6" width=".9" height=".9"/><rect x="243.8" y="65.5" width=".9" height=".9"/><rect x="241.8" y="81.3" width=".9" height=".9"/><rect x="254.7" y="97.8" width=".9" height=".9"/><rect x="257.4" y="105.4" width=".9" height=".9"/><rect x="258.3" y="98.0" width=".9" height=".9"/><rect x="255.4" y="88.1" width=".9" height=".9"/><rect x="236.1" y="104.5" width=".9" height=".9"/><rect x="255.4" y="101.8" width=".9" height=".9"/><rect x="243.8" y="88.1" width=".9" height=".9"/><rect x="236.4" y="95.3" width=".9" height=".9"/><rect x="251.3" y="82.9" width=".9" height=".9"/><rect x="256.5" y="95.7" width=".9" height=".9"/><rect x="256.5" y="89.3" width=".9" height=".9"/><rect x="255.1" y="99.1" width=".9" height=".9"/><rect x="238.5" y="100.2" width=".9" height=".9"/><rect x="259.1" y="118.7" width=".9" height=".9"/><rect x="258.3" y="118.5" width=".9" height=".9"/><rect x="235.5" y="97.9" width=".9" height=".9"/><rect x="259.1" y="100.2" width=".9" height=".9"/><rect x="241.1" y="92.3" width=".9" height=".9"/><rect x="237.3" y="105.1" width=".9" height=".9"/><rect x="258.3" y="103.7" width=".9" height=".9"/><rect x="235.6" y="112.5" width=".9" height=".9"/><rect x="254.8" y="92.5" width=".9" height=".9"/><rect x="257.2" y="106.1" width=".9" height=".9"/></g>
<path d="M273.15,65.00 L273.16,65.75 L273.17,66.50 L273.18,67.26 L273.18,68.01 L273.19,68.76 L273.20,69.52 L273.21,70.27 L273.22,71.02 L273.24,71.77 L273.27,72.53 L273.30,73.28 L273.34,74.03 L273.39,74.78 L273.45,75.53 L273.52,76.29 L273.60,77.04 L273.74,77.79 L273.94,78.55 L274.18,79.30 L274.46,80.05 L274.75,80.80 L275.04,81.56 L275.31,82.31 L275.58,83.06 L275.87,83.81 L276.17,84.56 L276.49,85.32 L276.83,86.07 L277.21,86.82 L277.60,87.58 L278.00,88.33 L278.41,89.08 L278.83,89.83 L279.25,90.59 L279.66,91.34 L280.05,92.09 L280.44,92.84 L280.80,93.59 L281.13,94.35 L281.44,95.10 L281.72,95.85 L281.97,96.61 L282.21,97.36 L282.43,98.11 L282.64,98.86 L282.83,99.62 L283.02,100.37 L283.19,101.12 L283.35,101.87 L283.51,102.62 L283.67,103.38 L283.83,104.13 L283.97,104.88 L284.09,105.64 L284.18,106.39 L284.25,107.14 L284.29,107.89 L284.30,108.65 L284.29,109.40 L284.25,110.15 L284.19,110.90 L284.10,111.66 L283.98,112.41 L283.82,113.16 L283.63,113.91 L283.38,114.67 L283.09,115.42 L282.75,116.17 L282.39,116.92 L282.00,117.67 L281.61,118.43 L281.20,119.18 L280.75,119.93 L280.26,120.69 L279.76,121.44 L279.27,122.19 L278.83,122.94 L278.47,123.70 L278.19,124.45 L278.00,125.20 L267.60,125.20 L267.41,124.45 L267.13,123.70 L266.77,122.94 L266.33,122.19 L265.84,121.44 L265.34,120.69 L264.85,119.93 L264.40,119.18 L263.99,118.43 L263.60,117.67 L263.21,116.92 L262.85,116.17 L262.51,115.42 L262.22,114.67 L261.97,113.91 L261.78,113.16 L261.62,112.41 L261.50,111.66 L261.41,110.90 L261.35,110.15 L261.31,109.40 L261.30,108.65 L261.31,107.89 L261.35,107.14 L261.42,106.39 L261.51,105.64 L261.63,104.88 L261.77,104.13 L261.93,103.38 L262.09,102.62 L262.25,101.87 L262.41,101.12 L262.58,100.37 L262.77,99.62 L262.96,98.86 L263.17,98.11 L263.39,97.36 L263.63,96.61 L263.88,95.85 L264.16,95.10 L264.47,94.35 L264.80,93.59 L265.16,92.84 L265.55,92.09 L265.94,91.34 L266.35,90.59 L266.77,89.83 L267.19,89.08 L267.60,88.33 L268.00,87.58 L268.39,86.82 L268.77,86.07 L269.11,85.32 L269.43,84.56 L269.73,83.81 L270.02,83.06 L270.29,82.31 L270.56,81.56 L270.85,80.80 L271.14,80.05 L271.42,79.30 L271.66,78.55 L271.86,77.79 L272.00,77.04 L272.08,76.29 L272.15,75.53 L272.21,74.78 L272.26,74.03 L272.30,73.28 L272.33,72.53 L272.36,71.77 L272.38,71.02 L272.39,70.27 L272.40,69.52 L272.41,68.76 L272.42,68.01 L272.42,67.26 L272.43,66.50 L272.44,65.75 L272.45,65.00 Z" fill="#1bb0e0" stroke="#222" stroke-width="0.6"/>
<g fill="#111" opacity="0.75"><rect x="263.0" y="111.9" width=".9" height=".9"/><rect x="278.8" y="119.5" width=".9" height=".9"/><rect x="271.5" y="108.8" width=".9" height=".9"/><rect x="264.6" y="98.1" width=".9" height=".9"/><rect x="273.9" y="124.4" width=".9" height=".9"/><rect x="276.0" y="124.8" width=".9" height=".9"/><rect x="272.0" y="103.2" width=".9" height=".9"/><rect x="270.5" y="90.5" width=".9" height=".9"/><rect x="270.1" y="106.6" width=".9" height=".9"/><rect x="281.0" y="107.8" width=".9" height=".9"/><rect x="272.0" y="90.9" width=".9" height=".9"/><rect x="277.2" y="121.5" width=".9" height=".9"/><rect x="282.0" y="116.2" width=".9" height=".9"/><rect x="267.3" y="99.3" width=".9" height=".9"/><rect x="280.1" y="108.5" width=".9" height=".9"/><rect x="263.3" y="108.0" width=".9" height=".9"/><rect x="277.1" y="111.0" width=".9" height=".9"/><rect x="278.0" y="91.5" width=".9" height=".9"/><rect x="268.9" y="115.2" width=".9" height=".9"/><rect x="273.9" y="99.9" width=".9" height=".9"/><rect x="280.4" y="97.0" width=".9" height=".9"/><rect x="263.8" y="113.9" width=".9" height=".9"/><rect x="282.3" y="113.6" width=".9" height=".9"/><rect x="272.2" y="90.7" width=".9" height=".9"/><rect x="277.5" y="112.1" width=".9" height=".9"/><rect x="273.0" y="100.7" width=".9" height=".9"/><rect x="280.5" y="117.2" width=".9" height=".9"/><rect x="275.3" y="104.5" width=".9" height=".9"/><rect x="266.5" y="103.9" width=".9" height=".9"/><rect x="263.0" y="107.8" width=".9" height=".9"/><rect x="273.5" y="109.6" width=".9" height=".9"/><rect x="279.6" y="97.4" width=".9" height=".9"/><rect x="272.1" y="114.3" width=".9" height=".9"/><rect x="270.5" y="105.7" width=".9" height=".9"/><rect x="271.3" y="104.2" width=".9" height=".9"/><rect x="265.4" y="110.2" width=".9" height=".9"/><rect x="278.2" y="105.1" width=".9" height=".9"/><rect x="264.6" y="100.1" width=".9" height=".9"/><rect x="282.7" y="102.7" width=".9" height=".9"/><rect x="274.8" y="114.2" width=".9" height=".9"/><rect x="272.5" y="116.9" width=".9" height=".9"/><rect x="264.2" y="98.1" width=".9" height=".9"/><rect x="265.4" y="112.3" width=".9" height=".9"/><rect x="278.7" y="109.4" width=".9" height=".9"/><rect x="282.5" y="108.1" width=".9" height=".9"/><rect x="274.3" y="96.6" width=".9" height=".9"/><rect x="272.9" y="96.5" width=".9" height=".9"/><rect x="265.4" y="108.3" width=".9" height=".9"/><rect x="275.2" y="102.8" width=".9" height=".9"/><rect x="263.3" y="105.8" width=".9" height=".9"/><rect x="263.1" y="110.1" width=".9" height=".9"/><rect x="262.1" y="109.0" width=".9" height=".9"/><rect x="275.7" y="114.1" width=".9" height=".9"/><rect x="271.8" y="124.5" width=".9" height=".9"/><rect x="276.5" y="98.1" width=".9" height=".9"/><rect x="270.3" y="106.1" width=".9" height=".9"/><rect x="273.8" y="114.4" width=".9" height=".9"/><rect x="270.2" y="111.9" width=".9" height=".9"/><rect x="263.2" y="100.9" width=".9" height=".9"/><rect x="276.6" y="100.6" width=".9" height=".9"/><rect x="266.8" y="113.6" width=".9" height=".9"/><rect x="267.7" y="118.6" width=".9" height=".9"/><rect x="264.2" y="108.7" width=".9" height=".9"/><rect x="274.0" y="99.8" width=".9" height=".9"/><rect x="272.8" y="100.2" width=".9" height=".9"/><rect x="278.2" y="120.1" width=".9" height=".9"/><rect x="281.5" y="112.2" width=".9" height=".9"/><rect x="271.2" y="102.2" width=".9" height=".9"/><rect x="264.9" y="115.3" width=".9" height=".9"/><rect x="272.0" y="102.7" width=".9" height=".9"/><rect x="274.8" y="104.3" width=".9" height=".9"/><rect x="276.5" y="116.2" width=".9" height=".9"/><rect x="281.9" y="113.3" width=".9" height=".9"/><rect x="272.0" y="118.6" width=".9" height=".9"/><rect x="268.6" y="123.4" width=".9" height=".9"/><rect x="277.8" y="113.3" width=".9" height=".9"/><rect x="264.2" y="115.3" width=".9" height=".9"/><rect x="272.3" y="104.0" width=".9" height=".9"/><rect x="265.4" y="95.3" width=".9" height=".9"/><rect x="274.1" y="115.4" width=".9" height=".9"/><rect x="274.9" y="101.5" width=".9" height=".9"/><rect x="276.2" y="88.0" width=".9" height=".9"/><rect x="276.3" y="117.6" width=".9" height=".9"/><rect x="274.4" y="122.7" width=".9" height=".9"/><rect x="280.5" y="97.7" width=".9" height=".9"/><rect x="275.3" y="107.4" width=".9" height=".9"/><rect x="272.6" y="83.1" width=".9" height=".9"/><rect x="266.1" y="116.0" width=".9" height=".9"/><rect x="281.6" y="105.4" width=".9" height=".9"/><rect x="263.2" y="108.9" width=".9" height=".9"/><rect x="274.9" y="83.1" width=".9" height=".9"/><rect x="280.1" y="111.8" width=".9" height=".9"/><rect x="277.4" y="112.3" width=".9" height=".9"/><rect x="275.6" y="107.3" width=".9" height=".9"/><rect x="265.0" y="110.6" width=".9" height=".9"/><rect x="277.1" y="110.4" width=".9" height=".9"/><rect x="282.3" y="99.9" width=".9" height=".9"/><rect x="276.3" y="105.1" width=".9" height=".9"/><rect x="266.1" y="106.0" width=".9" height=".9"/><rect x="262.8" y="104.3" width=".9" height=".9"/><rect x="274.9" y="109.4" width=".9" height=".9"/><rect x="278.7" y="111.5" width=".9" height=".9"/><rect x="267.4" y="116.8" width=".9" height=".9"/><rect x="267.0" y="93.4" width=".9" height=".9"/><rect x="273.0" y="116.5" width=".9" height=".9"/><rect x="277.8" y="116.2" width=".9" height=".9"/><rect x="281.4" y="97.7" width=".9" height=".9"/><rect x="282.9" y="112.9" width=".9" height=".9"/><rect x="266.5" y="99.7" width=".9" height=".9"/><rect x="262.5" y="107.9" width=".9" height=".9"/><rect x="269.4" y="99.6" width=".9" height=".9"/><rect x="264.4" y="117.3" width=".9" height=".9"/><rect x="274.3" y="107.1" width=".9" height=".9"/><rect x="276.1" y="122.4" width=".9" height=".9"/><rect x="277.0" y="95.8" width=".9" height=".9"/><rect x="269.0" y="100.2" width=".9" height=".9"/><rect x="270.1" y="113.7" width=".9" height=".9"/><rect x="271.0" y="117.3" width=".9" height=".9"/><rect x="266.3" y="98.0" width=".9" height=".9"/><rect x="279.4" y="114.5" width=".9" height=".9"/><rect x="267.8" y="105.4" width=".9" height=".9"/><rect x="281.7" y="100.9" width=".9" height=".9"/><rect x="269.4" y="104.3" width=".9" height=".9"/><rect x="273.3" y="105.6" width=".9" height=".9"/><rect x="281.2" y="103.8" width=".9" height=".9"/><rect x="269.6" y="115.0" width=".9" height=".9"/><rect x="268.1" y="117.5" width=".9" height=".9"/><rect x="276.1" y="98.6" width=".9" height=".9"/><rect x="269.0" y="94.7" width=".9" height=".9"/><rect x="264.2" y="96.8" width=".9" height=".9"/><rect x="270.9" y="117.5" width=".9" height=".9"/><rect x="271.6" y="119.2" width=".9" height=".9"/><rect x="279.3" y="96.0" width=".9" height=".9"/><rect x="277.5" y="96.5" width=".9" height=".9"/><rect x="268.4" y="93.6" width=".9" height=".9"/><rect x="279.5" y="119.4" width=".9" height=".9"/><rect x="275.6" y="122.4" width=".9" height=".9"/><rect x="277.6" y="106.2" width=".9" height=".9"/><rect x="279.3" y="114.4" width=".9" height=".9"/><rect x="277.1" y="116.8" width=".9" height=".9"/><rect x="266.8" y="108.2" width=".9" height=".9"/><rect x="269.8" y="108.1" width=".9" height=".9"/><rect x="272.3" y="111.2" width=".9" height=".9"/><rect x="277.3" y="112.9" width=".9" height=".9"/><rect x="271.5" y="107.0" width=".9" height=".9"/><rect x="268.4" y="101.1" width=".9" height=".9"/><rect x="269.9" y="112.9" width=".9" height=".9"/><rect x="274.2" y="108.2" width=".9" height=".9"/><rect x="271.4" y="111.6" width=".9" height=".9"/><rect x="266.2" y="97.6" width=".9" height=".9"/><rect x="265.1" y="101.8" width=".9" height=".9"/><rect x="274.4" y="119.0" width=".9" height=".9"/><rect x="267.3" y="89.8" width=".9" height=".9"/><rect x="282.9" y="104.2" width=".9" height=".9"/><rect x="268.8" y="93.4" width=".9" height=".9"/><rect x="270.0" y="90.0" width=".9" height=".9"/><rect x="262.8" y="105.4" width=".9" height=".9"/><rect x="277.8" y="115.8" width=".9" height=".9"/><rect x="269.7" y="104.0" width=".9" height=".9"/><rect x="271.9" y="106.1" width=".9" height=".9"/><rect x="266.4" y="105.2" width=".9" height=".9"/><rect x="273.7" y="122.1" width=".9" height=".9"/><rect x="268.4" y="110.7" width=".9" height=".9"/><rect x="272.0" y="107.2" width=".9" height=".9"/><rect x="270.7" y="122.7" width=".9" height=".9"/><rect x="280.4" y="109.6" width=".9" height=".9"/><rect x="272.2" y="125.0" width=".9" height=".9"/><rect x="279.6" y="108.8" width=".9" height=".9"/><rect x="276.4" y="114.7" width=".9" height=".9"/><rect x="281.2" y="100.7" width=".9" height=".9"/><rect x="273.1" y="108.5" width=".9" height=".9"/><rect x="266.8" y="100.5" width=".9" height=".9"/><rect x="279.4" y="106.8" width=".9" height=".9"/><rect x="270.3" y="98.3" width=".9" height=".9"/><rect x="269.0" y="100.7" width=".9" height=".9"/><rect x="277.5" y="89.4" width=".9" height=".9"/><rect x="277.9" y="119.3" width=".9" height=".9"/><rect x="268.1" y="97.7" width=".9" height=".9"/><rect x="269.8" y="89.9" width=".9" height=".9"/><rect x="281.2" y="105.1" width=".9" height=".9"/><rect x="274.4" y="90.5" width=".9" height=".9"/><rect x="264.6" y="105.3" width=".9" height=".9"/><rect x="278.4" y="100.0" width=".9" height=".9"/><rect x="278.9" y="100.8" width=".9" height=".9"/><rect x="266.7" y="107.8" width=".9" height=".9"/><rect x="282.2" y="106.9" width=".9" height=".9"/><rect x="277.2" y="114.6" width=".9" height=".9"/><rect x="273.1" y="111.0" width=".9" height=".9"/><rect x="272.0" y="84.7" width=".9" height=".9"/><rect x="266.5" y="96.5" width=".9" height=".9"/><rect x="276.6" y="91.8" width=".9" height=".9"/><rect x="265.2" y="112.9" width=".9" height=".9"/><rect x="277.5" y="120.6" width=".9" height=".9"/><rect x="277.4" y="103.2" width=".9" height=".9"/><rect x="273.1" y="102.4" width=".9" height=".9"/><rect x="263.4" y="99.6" width=".9" height=".9"/><rect x="270.3" y="108.8" width=".9" height=".9"/><rect x="273.1" y="102.2" width=".9" height=".9"/><rect x="270.4" y="113.5" width=".9" height=".9"/><rect x="270.0" y="124.6" width=".9" height=".9"/><rect x="268.8" y="123.7" width=".9" height=".9"/><rect x="270.8" y="123.1" width=".9" height=".9"/><rect x="266.8" y="110.2" width=".9" height=".9"/><rect x="282.7" y="104.4" width=".9" height=".9"/><rect x="270.1" y="114.9" width=".9" height=".9"/><rect x="283.6" y="111.7" width=".9" height=".9"/><rect x="280.6" y="103.6" width=".9" height=".9"/><rect x="273.3" y="106.7" width=".9" height=".9"/><rect x="267.2" y="113.7" width=".9" height=".9"/><rect x="267.0" y="99.4" width=".9" height=".9"/><rect x="266.5" y="101.9" width=".9" height=".9"/><rect x="275.7" y="117.3" width=".9" height=".9"/><rect x="278.8" y="117.5" width=".9" height=".9"/><rect x="266.8" y="112.7" width=".9" height=".9"/><rect x="273.7" y="109.0" width=".9" height=".9"/><rect x="267.5" y="118.5" width=".9" height=".9"/><rect x="266.7" y="114.4" width=".9" height=".9"/><rect x="278.1" y="99.3" width=".9" height=".9"/><rect x="277.5" y="106.9" width=".9" height=".9"/><rect x="268.7" y="90.2" width=".9" height=".9"/><rect x="264.8" y="116.1" width=".9" height=".9"/><rect x="281.8" y="110.7" width=".9" height=".9"/><rect x="281.7" y="97.3" width=".9" height=".9"/><rect x="265.0" y="94.2" width=".9" height=".9"/><rect x="278.3" y="107.2" width=".9" height=".9"/><rect x="268.0" y="91.3" width=".9" height=".9"/><rect x="266.9" y="113.0" width=".9" height=".9"/><rect x="266.1" y="94.0" width=".9" height=".9"/><rect x="282.0" y="108.5" width=".9" height=".9"/><rect x="266.0" y="106.7" width=".9" height=".9"/><rect x="272.0" y="104.6" width=".9" height=".9"/><rect x="276.2" y="95.9" width=".9" height=".9"/><rect x="266.5" y="101.3" width=".9" height=".9"/><rect x="268.3" y="117.5" width=".9" height=".9"/><rect x="272.7" y="100.4" width=".9" height=".9"/><rect x="263.8" y="112.2" width=".9" height=".9"/><rect x="265.7" y="107.8" width=".9" height=".9"/><rect x="276.8" y="95.7" width=".9" height=".9"/><rect x="269.8" y="110.9" width=".9" height=".9"/><rect x="278.9" y="120.3" width=".9" height=".9"/><rect x="267.3" y="92.7" width=".9" height=".9"/><rect x="268.9" y="121.8" width=".9" height=".9"/><rect x="265.1" y="115.0" width=".9" height=".9"/><rect x="272.8" y="82.4" width=".9" height=".9"/><rect x="272.9" y="116.1" width=".9" height=".9"/><rect x="269.0" y="123.9" width=".9" height=".9"/><rect x="272.6" y="93.1" width=".9" height=".9"/><rect x="272.5" y="102.5" width=".9" height=".9"/><rect x="272.7" y="95.2" width=".9" height=".9"/><rect x="275.7" y="84.8" width=".9" height=".9"/><rect x="274.8" y="93.8" width=".9" height=".9"/><rect x="274.9" y="90.0" width=".9" height=".9"/><rect x="275.3" y="98.2" width=".9" height=".9"/><rect x="280.3" y="118.0" width=".9" height=".9"/><rect x="267.9" y="119.3" width=".9" height=".9"/><rect x="268.4" y="109.1" width=".9" height=".9"/><rect x="276.1" y="109.7" width=".9" height=".9"/><rect x="269.0" y="106.5" width=".9" height=".9"/><rect x="267.3" y="90.1" width=".9" height=".9"/><rect x="277.5" y="108.0" width=".9" height=".9"/><rect x="277.8" y="99.5" width=".9" height=".9"/><rect x="269.5" y="111.1" width=".9" height=".9"/><rect x="279.2" y="96.2" width=".9" height=".9"/><rect x="279.8" y="97.9" width=".9" height=".9"/><rect x="271.8" y="106.9" width=".9" height=".9"/><rect x="272.5" y="106.9" width=".9" height=".9"/><rect x="265.3" y="114.4" width=".9" height=".9"/><rect x="264.5" y="101.0" width=".9" height=".9"/><rect x="265.4" y="119.1" width=".9" height=".9"/><rect x="274.4" y="96.8" width=".9" height=".9"/><rect x="282.1" y="105.6" width=".9" height=".9"/><rect x="277.2" y="110.5" width=".9" height=".9"/><rect x="280.6" y="106.7" width=".9" height=".9"/><rect x="280.4" y="95.5" width=".9" height=".9"/><rect x="275.0" y="120.6" width=".9" height=".9"/><rect x="270.7" y="110.4" width=".9" height=".9"/><rect x="272.2" y="108.3" width=".9" height=".9"/><rect x="279.1" y="112.3" width=".9" height=".9"/><rect x="267.1" y="97.7" width=".9" height=".9"/></g>
<g fill="#2e2424" opacity="0.72"><rect x="280.9" y="94.0" width=".9" height=".9"/><rect x="264.4" y="94.2" width=".9" height=".9"/><rect x="263.2" y="95.0" width=".9" height=".9"/><rect x="280.5" y="93.6" width=".9" height=".9"/><rect x="267.7" y="82.7" width=".9" height=".9"/><rect x="282.2" y="97.2" width=".9" height=".9"/><rect x="281.1" y="93.4" width=".9" height=".9"/><rect x="266.3" y="123.2" width=".9" height=".9"/><rect x="262.9" y="117.5" width=".9" height=".9"/><rect x="265.7" y="87.8" width=".9" height=".9"/><rect x="279.0" y="124.4" width=".9" height=".9"/><rect x="274.9" y="79.9" width=".9" height=".9"/><rect x="266.1" y="89.5" width=".9" height=".9"/><rect x="283.7" y="102.4" width=".9" height=".9"/><rect x="261.8" y="114.8" width=".9" height=".9"/><rect x="262.0" y="100.2" width=".9" height=".9"/><rect x="275.7" y="82.3" width=".9" height=".9"/><rect x="278.0" y="88.8" width=".9" height=".9"/><rect x="267.0" y="124.3" width=".9" height=".9"/><rect x="262.0" y="103.4" width=".9" height=".9"/><rect x="261.9" y="96.1" width=".9" height=".9"/><rect x="267.0" y="87.7" width=".9" height=".9"/><rect x="269.7" y="82.6" width=".9" height=".9"/><rect x="280.5" y="121.0" width=".9" height=".9"/><rect x="283.6" y="100.1" width=".9" height=".9"/><rect x="283.8" y="118.9" width=".9" height=".9"/><rect x="281.0" y="122.9" width=".9" height=".9"/><rect x="275.3" y="82.2" width=".9" height=".9"/><rect x="281.4" y="92.9" width=".9" height=".9"/><rect x="283.1" y="101.2" width=".9" height=".9"/><rect x="274.0" y="79.6" width=".9" height=".9"/><rect x="264.7" y="122.1" width=".9" height=".9"/><rect x="263.1" y="116.3" width=".9" height=".9"/><rect x="283.7" y="94.5" width=".9" height=".9"/><rect x="265.2" y="121.7" width=".9" height=".9"/><rect x="275.7" y="82.0" width=".9" height=".9"/><rect x="265.1" y="83.1" width=".9" height=".9"/><rect x="280.4" y="90.6" width=".9" height=".9"/><rect x="275.4" y="79.2" width=".9" height=".9"/><rect x="277.8" y="83.8" width=".9" height=".9"/><rect x="268.0" y="73.5" width=".9" height=".9"/><rect x="283.7" y="114.5" width=".9" height=".9"/><rect x="263.5" y="95.4" width=".9" height=".9"/><rect x="280.9" y="90.0" width=".9" height=".9"/><rect x="261.8" y="112.8" width=".9" height=".9"/><rect x="261.9" y="122.4" width=".9" height=".9"/><rect x="277.2" y="83.9" width=".9" height=".9"/><rect x="282.6" y="117.4" width=".9" height=".9"/><rect x="282.6" y="122.8" width=".9" height=".9"/><rect x="278.3" y="89.0" width=".9" height=".9"/><rect x="264.1" y="89.2" width=".9" height=".9"/><rect x="282.5" y="98.3" width=".9" height=".9"/><rect x="268.7" y="67.1" width=".9" height=".9"/><rect x="277.0" y="74.3" width=".9" height=".9"/><rect x="262.3" y="93.2" width=".9" height=".9"/><rect x="264.2" y="92.4" width=".9" height=".9"/><rect x="276.3" y="85.6" width=".9" height=".9"/><rect x="283.0" y="116.3" width=".9" height=".9"/><rect x="278.2" y="85.7" width=".9" height=".9"/><rect x="282.6" y="118.8" width=".9" height=".9"/><rect x="283.6" y="96.7" width=".9" height=".9"/></g>
<path d="M220.80,42.20 L220.80,40.00 L247.00,40.00 L247.00,42.20" fill="none" stroke="#333" stroke-width="1"/>
<text x="233.90" y="37.60" font-size="7.1" text-anchor="middle" fill="#333" stroke="#333" stroke-width="0.2" textLength="22.95" lengthAdjust="spacingAndGlyphs">3.3e−07</text>
<path d="M247.00,31.70 L247.00,29.50 L273.20,29.50 L273.20,31.70" fill="none" stroke="#333" stroke-width="1"/>
<text x="260.10" y="27.10" font-size="7.1" text-anchor="middle" fill="#333" stroke="#333" stroke-width="0.2" textLength="22.48" lengthAdjust="spacingAndGlyphs">5.1e−11</text>
<text x="291.50" y="64.90" font-size="6.1" text-anchor="start" fill="#333" stroke="#333" stroke-width="0.1" textLength="43.5" lengthAdjust="spacingAndGlyphs">Clinical outcome</text>
<rect x="291.30" y="70.00" width="5.80" height="5.80" fill="#e3123e" stroke="#3a3a3a" stroke-width="0.6"/>
<text x="300.20" y="74.80" font-size="6.1" text-anchor="start" fill="#333" stroke="#333" stroke-width="0.12">Normal</text>
<rect x="291.30" y="79.70" width="5.80" height="5.80" fill="#1ea34a" stroke="#3a3a3a" stroke-width="0.6"/>
<text x="300.20" y="84.50" font-size="6.1" text-anchor="start" fill="#333" stroke="#333" stroke-width="0.12">BTKi−S</text>
<rect x="291.30" y="89.40" width="5.80" height="5.80" fill="#1bb0e0" stroke="#3a3a3a" stroke-width="0.6"/>
<text x="300.20" y="94.20" font-size="6.1" text-anchor="start" fill="#333" stroke="#333" stroke-width="0.12">BTKi−R</text>
<text x="373.00" y="17.60" font-size="8.6" text-anchor="start" fill="#222" stroke="#222" stroke-width="0.22" textLength="79.5" lengthAdjust="spacingAndGlyphs">CD19 in Tumor B cells</text>
<line x1="371.40" y1="26.00" x2="371.40" y2="130.70" stroke="#1a1a1a" stroke-width="1.2"/>
<line x1="370.80" y1="130.10" x2="454.20" y2="130.10" stroke="#1a1a1a" stroke-width="1.2"/>
<line x1="368.80" y1="58.10" x2="371.40" y2="58.10" stroke="#1a1a1a" stroke-width="0.9"/>
<text x="365.80" y="60.20" font-size="5.8" text-anchor="end" fill="#444" stroke="#444" stroke-width="0.22">1</text>
<line x1="368.80" y1="96.90" x2="371.40" y2="96.90" stroke="#1a1a1a" stroke-width="0.9"/>
<text x="365.80" y="99.00" font-size="5.8" text-anchor="end" fill="#444" stroke="#444" stroke-width="0.22">0</text>
<line x1="387.00" y1="130.10" x2="387.00" y2="132.70" stroke="#1a1a1a" stroke-width="0.9"/>
<text x="387.60" y="137.90" font-size="5.8" text-anchor="end" fill="#333" stroke="#333" stroke-width="0.22" transform="rotate(-45 387.60 137.90)">Normal</text>
<line x1="412.60" y1="130.10" x2="412.60" y2="132.70" stroke="#1a1a1a" stroke-width="0.9"/>
<text x="413.20" y="137.90" font-size="5.8" text-anchor="end" fill="#333" stroke="#333" stroke-width="0.22" transform="rotate(-45 413.20 137.90)">BTKi−S</text>
<line x1="438.60" y1="130.10" x2="438.60" y2="132.70" stroke="#1a1a1a" stroke-width="0.9"/>
<text x="439.20" y="137.90" font-size="5.8" text-anchor="end" fill="#333" stroke="#333" stroke-width="0.22" transform="rotate(-45 439.20 137.90)">BTKi−R</text>
<text x="356.10" y="77.30" font-size="7" text-anchor="middle" fill="#1a1a1a" stroke="#1a1a1a" stroke-width="0.35" textLength="46.5" lengthAdjust="spacingAndGlyphs" transform="rotate(-90 356.10 77.30)">Relative expression</text>
<path d="M390.40,100.00 L390.42,100.31 L390.44,100.63 L390.47,100.94 L390.51,101.26 L390.54,101.58 L390.58,101.89 L390.62,102.20 L390.65,102.52 L390.69,102.83 L390.73,103.15 L390.76,103.47 L390.78,103.78 L390.81,104.09 L390.82,104.41 L390.84,104.72 L390.84,105.04 L390.85,105.36 L390.85,105.67 L390.86,105.98 L390.86,106.30 L390.87,106.61 L390.87,106.93 L390.88,107.25 L390.89,107.56 L390.90,107.88 L390.92,108.19 L390.95,108.50 L390.98,108.82 L391.02,109.14 L391.06,109.45 L391.12,109.77 L391.18,110.08 L391.25,110.39 L391.33,110.71 L391.43,111.03 L391.53,111.34 L391.65,111.66 L391.79,111.97 L391.94,112.28 L392.10,112.60 L392.27,112.92 L392.45,113.23 L392.64,113.55 L392.83,113.86 L393.03,114.17 L393.24,114.49 L393.44,114.81 L393.64,115.12 L393.85,115.44 L394.05,115.75 L394.24,116.06 L394.43,116.38 L394.63,116.69 L394.83,117.01 L395.03,117.33 L395.23,117.64 L395.43,117.95 L395.63,118.27 L395.83,118.59 L396.02,118.90 L396.22,119.22 L396.41,119.53 L396.61,119.84 L396.80,120.16 L396.99,120.47 L397.18,120.79 L397.37,121.11 L397.56,121.42 L397.75,121.73 L397.94,122.05 L398.12,122.37 L398.29,122.68 L398.45,123.00 L398.61,123.31 L398.75,123.62 L398.87,123.94 L398.95,124.25 L399.01,124.57 L399.06,124.89 L399.10,125.20 L375.30,125.20 L375.34,124.89 L375.39,124.57 L375.45,124.25 L375.53,123.94 L375.65,123.62 L375.79,123.31 L375.95,123.00 L376.11,122.68 L376.28,122.37 L376.46,122.05 L376.65,121.73 L376.84,121.42 L377.03,121.11 L377.22,120.79 L377.41,120.47 L377.60,120.16 L377.79,119.84 L377.99,119.53 L378.18,119.22 L378.38,118.90 L378.57,118.59 L378.77,118.27 L378.97,117.95 L379.17,117.64 L379.37,117.33 L379.57,117.01 L379.77,116.69 L379.97,116.38 L380.16,116.06 L380.35,115.75 L380.55,115.44 L380.76,115.12 L380.96,114.81 L381.16,114.49 L381.37,114.17 L381.57,113.86 L381.76,113.55 L381.95,113.23 L382.13,112.92 L382.30,112.60 L382.46,112.28 L382.61,111.97 L382.75,111.66 L382.87,111.34 L382.97,111.03 L383.07,110.71 L383.15,110.39 L383.22,110.08 L383.28,109.77 L383.34,109.45 L383.38,109.14 L383.42,108.82 L383.45,108.50 L383.48,108.19 L383.50,107.88 L383.51,107.56 L383.52,107.25 L383.53,106.93 L383.53,106.61 L383.54,106.30 L383.54,105.98 L383.55,105.67 L383.55,105.36 L383.56,105.04 L383.56,104.72 L383.58,104.41 L383.59,104.09 L383.62,103.78 L383.64,103.47 L383.67,103.15 L383.71,102.83 L383.75,102.52 L383.78,102.20 L383.82,101.89 L383.86,101.58 L383.89,101.26 L383.93,100.94 L383.96,100.63 L383.98,100.31 L384.00,100.00 Z" fill="#e3123e" stroke="#222" stroke-width="0.6"/>
<g fill="#2e2424" opacity="0.72"><rect x="398.1" y="119.5" width=".9" height=".9"/><rect x="394.5" y="110.9" width=".9" height=".9"/><rect x="396.7" y="103.7" width=".9" height=".9"/><rect x="395.2" y="116.2" width=".9" height=".9"/><rect x="397.4" y="119.1" width=".9" height=".9"/><rect x="376.5" y="113.5" width=".9" height=".9"/><rect x="379.2" y="101.8" width=".9" height=".9"/><rect x="383.6" y="104.6" width=".9" height=".9"/><rect x="376.8" y="118.4" width=".9" height=".9"/></g>
<path d="M413.15,42.70 L413.16,43.73 L413.16,44.76 L413.17,45.79 L413.17,46.83 L413.18,47.86 L413.18,48.89 L413.19,49.92 L413.19,50.95 L413.20,51.98 L413.21,53.01 L413.22,54.04 L413.23,55.08 L413.25,56.11 L413.27,57.14 L413.29,58.17 L413.31,59.20 L413.34,60.23 L413.37,61.26 L413.41,62.29 L413.52,63.33 L413.68,64.36 L413.88,65.39 L414.08,66.42 L414.30,67.45 L414.53,68.48 L414.79,69.51 L415.07,70.54 L415.37,71.58 L415.70,72.61 L416.03,73.64 L416.37,74.67 L416.71,75.70 L417.06,76.73 L417.42,77.76 L417.78,78.79 L418.14,79.83 L418.50,80.86 L418.88,81.89 L419.27,82.92 L419.66,83.95 L420.05,84.98 L420.44,86.01 L420.83,87.04 L421.21,88.08 L421.57,89.11 L421.92,90.14 L422.25,91.17 L422.58,92.20 L422.90,93.23 L423.21,94.26 L423.51,95.29 L423.79,96.33 L424.04,97.36 L424.25,98.39 L424.42,99.42 L424.54,100.45 L424.57,101.48 L424.52,102.51 L424.40,103.54 L424.25,104.58 L424.07,105.61 L423.88,106.64 L423.65,107.67 L423.37,108.70 L423.05,109.73 L422.69,110.76 L422.28,111.79 L421.82,112.83 L421.32,113.86 L420.79,114.89 L420.24,115.92 L419.65,116.95 L419.01,117.98 L418.36,119.01 L417.78,120.04 L417.26,121.08 L416.81,122.11 L416.46,123.14 L416.28,124.17 L416.20,125.20 L409.40,125.20 L409.32,124.17 L409.14,123.14 L408.79,122.11 L408.34,121.08 L407.82,120.04 L407.24,119.01 L406.59,117.98 L405.95,116.95 L405.36,115.92 L404.81,114.89 L404.28,113.86 L403.78,112.83 L403.32,111.79 L402.91,110.76 L402.55,109.73 L402.23,108.70 L401.95,107.67 L401.72,106.64 L401.53,105.61 L401.35,104.58 L401.20,103.54 L401.08,102.51 L401.03,101.48 L401.06,100.45 L401.18,99.42 L401.35,98.39 L401.56,97.36 L401.81,96.33 L402.09,95.29 L402.39,94.26 L402.70,93.23 L403.02,92.20 L403.35,91.17 L403.68,90.14 L404.03,89.11 L404.39,88.08 L404.77,87.04 L405.16,86.01 L405.55,84.98 L405.94,83.95 L406.33,82.92 L406.72,81.89 L407.10,80.86 L407.46,79.83 L407.82,78.79 L408.18,77.76 L408.54,76.73 L408.89,75.70 L409.23,74.67 L409.57,73.64 L409.90,72.61 L410.23,71.58 L410.53,70.54 L410.81,69.51 L411.07,68.48 L411.30,67.45 L411.52,66.42 L411.72,65.39 L411.92,64.36 L412.08,63.33 L412.19,62.29 L412.23,61.26 L412.26,60.23 L412.29,59.20 L412.31,58.17 L412.33,57.14 L412.35,56.11 L412.37,55.08 L412.38,54.04 L412.39,53.01 L412.40,51.98 L412.41,50.95 L412.41,49.92 L412.42,48.89 L412.42,47.86 L412.43,46.83 L412.43,45.79 L412.44,44.76 L412.44,43.73 L412.45,42.70 Z" fill="#1ea34a" stroke="#222" stroke-width="0.6"/>
<g fill="#111" opacity="0.70"><rect x="405.8" y="89.9" width=".9" height=".9"/><rect x="414.7" y="106.8" width=".9" height=".9"/><rect x="420.5" y="114.1" width=".9" height=".9"/><rect x="406.5" y="113.0" width=".9" height=".9"/><rect x="407.1" y="108.5" width=".9" height=".9"/><rect x="420.6" y="106.5" width=".9" height=".9"/><rect x="415.7" y="88.2" width=".9" height=".9"/><rect x="410.7" y="113.3" width=".9" height=".9"/><rect x="407.2" y="104.3" width=".9" height=".9"/><rect x="406.0" y="91.6" width=".9" height=".9"/><rect x="421.1" y="101.2" width=".9" height=".9"/><rect x="422.5" y="94.6" width=".9" height=".9"/><rect x="423.3" y="98.0" width=".9" height=".9"/><rect x="421.8" y="102.4" width=".9" height=".9"/><rect x="417.1" y="79.1" width=".9" height=".9"/><rect x="413.9" y="105.3" width=".9" height=".9"/><rect x="418.3" y="104.9" width=".9" height=".9"/><rect x="409.4" y="110.8" width=".9" height=".9"/><rect x="412.4" y="103.6" width=".9" height=".9"/><rect x="405.4" y="96.3" width=".9" height=".9"/><rect x="405.3" y="87.3" width=".9" height=".9"/><rect x="412.6" y="115.6" width=".9" height=".9"/><rect x="409.7" y="94.4" width=".9" height=".9"/><rect x="408.3" y="79.0" width=".9" height=".9"/><rect x="407.2" y="89.9" width=".9" height=".9"/><rect x="408.4" y="103.0" width=".9" height=".9"/><rect x="415.9" y="106.2" width=".9" height=".9"/><rect x="406.1" y="89.9" width=".9" height=".9"/><rect x="413.9" y="90.4" width=".9" height=".9"/><rect x="415.9" y="108.9" width=".9" height=".9"/><rect x="409.4" y="102.5" width=".9" height=".9"/><rect x="411.2" y="104.5" width=".9" height=".9"/><rect x="410.2" y="104.3" width=".9" height=".9"/><rect x="405.4" y="89.1" width=".9" height=".9"/><rect x="416.4" y="99.5" width=".9" height=".9"/><rect x="409.0" y="93.7" width=".9" height=".9"/><rect x="404.0" y="92.2" width=".9" height=".9"/><rect x="420.8" y="96.3" width=".9" height=".9"/><rect x="420.1" y="96.0" width=".9" height=".9"/><rect x="414.2" y="91.1" width=".9" height=".9"/><rect x="414.8" y="85.6" width=".9" height=".9"/><rect x="408.6" y="106.9" width=".9" height=".9"/><rect x="411.2" y="83.0" width=".9" height=".9"/><rect x="416.1" y="93.2" width=".9" height=".9"/><rect x="411.4" y="84.8" width=".9" height=".9"/><rect x="424.0" y="100.6" width=".9" height=".9"/><rect x="413.8" y="110.3" width=".9" height=".9"/><rect x="414.8" y="105.3" width=".9" height=".9"/><rect x="409.8" y="86.2" width=".9" height=".9"/><rect x="414.7" y="98.1" width=".9" height=".9"/><rect x="405.8" y="92.3" width=".9" height=".9"/><rect x="410.5" y="109.1" width=".9" height=".9"/><rect x="416.9" y="105.2" width=".9" height=".9"/><rect x="406.4" y="116.3" width=".9" height=".9"/><rect x="410.3" y="104.1" width=".9" height=".9"/><rect x="412.4" y="100.8" width=".9" height=".9"/><rect x="403.8" y="106.2" width=".9" height=".9"/><rect x="415.4" y="98.5" width=".9" height=".9"/><rect x="413.0" y="117.6" width=".9" height=".9"/><rect x="420.4" y="104.0" width=".9" height=".9"/><rect x="415.6" y="107.8" width=".9" height=".9"/><rect x="420.5" y="103.2" width=".9" height=".9"/><rect x="411.0" y="102.8" width=".9" height=".9"/><rect x="417.6" y="112.7" width=".9" height=".9"/><rect x="410.7" y="101.2" width=".9" height=".9"/><rect x="418.5" y="94.3" width=".9" height=".9"/><rect x="413.5" y="104.6" width=".9" height=".9"/><rect x="412.3" y="93.5" width=".9" height=".9"/><rect x="411.8" y="90.7" width=".9" height=".9"/><rect x="408.2" y="82.2" width=".9" height=".9"/><rect x="416.7" y="90.4" width=".9" height=".9"/><rect x="423.7" y="100.9" width=".9" height=".9"/><rect x="416.8" y="88.6" width=".9" height=".9"/><rect x="407.2" y="105.7" width=".9" height=".9"/><rect x="412.7" y="96.7" width=".9" height=".9"/><rect x="405.0" y="113.3" width=".9" height=".9"/><rect x="419.8" y="99.8" width=".9" height=".9"/><rect x="413.7" y="105.8" width=".9" height=".9"/><rect x="408.2" y="99.7" width=".9" height=".9"/><rect x="422.2" y="109.9" width=".9" height=".9"/><rect x="407.0" y="107.0" width=".9" height=".9"/><rect x="410.0" y="100.6" width=".9" height=".9"/><rect x="417.5" y="104.8" width=".9" height=".9"/><rect x="406.1" y="89.3" width=".9" height=".9"/><rect x="406.8" y="107.8" width=".9" height=".9"/><rect x="409.8" y="113.7" width=".9" height=".9"/><rect x="410.8" y="85.4" width=".9" height=".9"/><rect x="412.9" y="117.8" width=".9" height=".9"/><rect x="413.3" y="83.9" width=".9" height=".9"/><rect x="411.5" y="94.2" width=".9" height=".9"/><rect x="408.6" y="98.7" width=".9" height=".9"/><rect x="416.1" y="108.6" width=".9" height=".9"/><rect x="401.9" y="98.4" width=".9" height=".9"/><rect x="406.6" y="86.8" width=".9" height=".9"/><rect x="409.1" y="116.6" width=".9" height=".9"/><rect x="404.0" y="96.5" width=".9" height=".9"/><rect x="417.8" y="96.9" width=".9" height=".9"/><rect x="406.7" y="94.4" width=".9" height=".9"/><rect x="415.9" y="104.9" width=".9" height=".9"/><rect x="411.2" y="108.1" width=".9" height=".9"/><rect x="409.2" y="112.2" width=".9" height=".9"/><rect x="402.2" y="96.5" width=".9" height=".9"/><rect x="409.0" y="82.5" width=".9" height=".9"/><rect x="408.9" y="94.9" width=".9" height=".9"/><rect x="409.8" y="116.9" width=".9" height=".9"/><rect x="406.7" y="94.1" width=".9" height=".9"/><rect x="408.3" y="103.7" width=".9" height=".9"/><rect x="411.1" y="76.5" width=".9" height=".9"/><rect x="417.1" y="92.1" width=".9" height=".9"/><rect x="411.1" y="103.8" width=".9" height=".9"/><rect x="405.5" y="107.5" width=".9" height=".9"/><rect x="404.4" y="96.5" width=".9" height=".9"/><rect x="416.1" y="118.4" width=".9" height=".9"/><rect x="418.0" y="115.9" width=".9" height=".9"/><rect x="421.9" y="103.7" width=".9" height=".9"/><rect x="416.6" y="103.6" width=".9" height=".9"/><rect x="409.6" y="88.9" width=".9" height=".9"/><rect x="414.9" y="110.4" width=".9" height=".9"/><rect x="414.7" y="84.8" width=".9" height=".9"/><rect x="417.1" y="81.8" width=".9" height=".9"/><rect x="414.2" y="110.7" width=".9" height=".9"/><rect x="413.2" y="106.6" width=".9" height=".9"/><rect x="420.4" y="104.3" width=".9" height=".9"/><rect x="409.7" y="104.2" width=".9" height=".9"/><rect x="408.9" y="108.2" width=".9" height=".9"/><rect x="406.1" y="99.3" width=".9" height=".9"/><rect x="410.5" y="86.5" width=".9" height=".9"/><rect x="412.0" y="88.4" width=".9" height=".9"/><rect x="414.3" y="120.6" width=".9" height=".9"/><rect x="411.2" y="115.1" width=".9" height=".9"/><rect x="412.6" y="78.2" width=".9" height=".9"/><rect x="415.0" y="89.8" width=".9" height=".9"/><rect x="404.7" y="105.3" width=".9" height=".9"/><rect x="416.2" y="105.9" width=".9" height=".9"/><rect x="404.3" y="106.3" width=".9" height=".9"/><rect x="409.4" y="120.5" width=".9" height=".9"/><rect x="420.8" y="97.4" width=".9" height=".9"/><rect x="406.5" y="110.4" width=".9" height=".9"/><rect x="409.4" y="88.6" width=".9" height=".9"/><rect x="404.0" y="102.7" width=".9" height=".9"/><rect x="413.2" y="91.4" width=".9" height=".9"/><rect x="414.3" y="117.4" width=".9" height=".9"/><rect x="419.0" y="83.5" width=".9" height=".9"/><rect x="420.5" y="94.3" width=".9" height=".9"/><rect x="413.3" y="75.4" width=".9" height=".9"/><rect x="409.7" y="102.8" width=".9" height=".9"/><rect x="418.1" y="109.9" width=".9" height=".9"/><rect x="415.6" y="99.8" width=".9" height=".9"/><rect x="414.2" y="112.5" width=".9" height=".9"/><rect x="408.0" y="104.2" width=".9" height=".9"/><rect x="419.9" y="103.3" width=".9" height=".9"/><rect x="410.3" y="101.3" width=".9" height=".9"/><rect x="410.8" y="120.2" width=".9" height=".9"/><rect x="422.0" y="98.0" width=".9" height=".9"/><rect x="408.9" y="119.7" width=".9" height=".9"/><rect x="416.4" y="108.1" width=".9" height=".9"/><rect x="404.5" y="105.4" width=".9" height=".9"/><rect x="422.9" y="94.5" width=".9" height=".9"/><rect x="418.3" y="113.9" width=".9" height=".9"/><rect x="410.9" y="93.4" width=".9" height=".9"/><rect x="410.8" y="83.8" width=".9" height=".9"/><rect x="417.7" y="91.7" width=".9" height=".9"/><rect x="421.0" y="112.9" width=".9" height=".9"/><rect x="412.1" y="88.1" width=".9" height=".9"/><rect x="409.8" y="87.3" width=".9" height=".9"/><rect x="402.0" y="104.3" width=".9" height=".9"/><rect x="411.1" y="107.9" width=".9" height=".9"/><rect x="411.9" y="101.4" width=".9" height=".9"/><rect x="422.0" y="97.5" width=".9" height=".9"/><rect x="405.5" y="104.8" width=".9" height=".9"/><rect x="404.8" y="94.8" width=".9" height=".9"/><rect x="414.3" y="123.9" width=".9" height=".9"/><rect x="423.1" y="106.7" width=".9" height=".9"/><rect x="411.3" y="82.7" width=".9" height=".9"/><rect x="409.2" y="111.7" width=".9" height=".9"/><rect x="408.9" y="77.1" width=".9" height=".9"/><rect x="416.4" y="101.4" width=".9" height=".9"/><rect x="413.5" y="96.1" width=".9" height=".9"/><rect x="407.9" y="90.0" width=".9" height=".9"/><rect x="416.8" y="116.1" width=".9" height=".9"/><rect x="409.7" y="93.9" width=".9" height=".9"/><rect x="406.3" y="96.2" width=".9" height=".9"/><rect x="419.7" y="92.6" width=".9" height=".9"/><rect x="403.4" y="97.6" width=".9" height=".9"/><rect x="404.4" y="101.6" width=".9" height=".9"/><rect x="407.8" y="100.9" width=".9" height=".9"/><rect x="416.0" y="88.1" width=".9" height=".9"/><rect x="421.8" y="96.4" width=".9" height=".9"/><rect x="404.6" y="110.6" width=".9" height=".9"/><rect x="410.0" y="106.6" width=".9" height=".9"/><rect x="410.8" y="113.0" width=".9" height=".9"/><rect x="412.7" y="89.5" width=".9" height=".9"/><rect x="405.9" y="108.0" width=".9" height=".9"/><rect x="410.5" y="97.6" width=".9" height=".9"/><rect x="410.9" y="76.3" width=".9" height=".9"/><rect x="414.2" y="100.8" width=".9" height=".9"/><rect x="405.6" y="105.9" width=".9" height=".9"/><rect x="403.7" y="108.1" width=".9" height=".9"/><rect x="409.2" y="108.0" width=".9" height=".9"/><rect x="407.1" y="89.4" width=".9" height=".9"/><rect x="418.0" y="86.9" width=".9" height=".9"/><rect x="411.4" y="121.7" width=".9" height=".9"/><rect x="419.3" y="91.7" width=".9" height=".9"/><rect x="412.8" y="116.5" width=".9" height=".9"/><rect x="412.5" y="100.8" width=".9" height=".9"/><rect x="412.0" y="100.5" width=".9" height=".9"/><rect x="414.6" y="93.9" width=".9" height=".9"/><rect x="406.3" y="107.6" width=".9" height=".9"/><rect x="411.9" y="83.8" width=".9" height=".9"/><rect x="414.5" y="116.5" width=".9" height=".9"/><rect x="404.9" y="105.7" width=".9" height=".9"/><rect x="414.9" y="107.6" width=".9" height=".9"/><rect x="408.0" y="90.2" width=".9" height=".9"/><rect x="412.2" y="77.5" width=".9" height=".9"/><rect x="413.4" y="81.5" width=".9" height=".9"/><rect x="406.4" y="110.5" width=".9" height=".9"/><rect x="413.1" y="112.9" width=".9" height=".9"/><rect x="402.9" y="104.6" width=".9" height=".9"/><rect x="412.0" y="116.3" width=".9" height=".9"/><rect x="418.3" y="92.8" width=".9" height=".9"/><rect x="417.4" y="100.8" width=".9" height=".9"/><rect x="421.6" y="96.9" width=".9" height=".9"/><rect x="413.3" y="113.5" width=".9" height=".9"/><rect x="410.3" y="125.0" width=".9" height=".9"/><rect x="421.6" y="90.9" width=".9" height=".9"/><rect x="421.6" y="100.7" width=".9" height=".9"/><rect x="423.4" y="97.3" width=".9" height=".9"/><rect x="419.8" y="105.3" width=".9" height=".9"/><rect x="408.8" y="105.7" width=".9" height=".9"/><rect x="418.6" y="102.5" width=".9" height=".9"/><rect x="408.4" y="91.2" width=".9" height=".9"/><rect x="407.0" y="84.2" width=".9" height=".9"/><rect x="422.9" y="95.3" width=".9" height=".9"/><rect x="416.2" y="100.6" width=".9" height=".9"/><rect x="416.1" y="76.5" width=".9" height=".9"/><rect x="421.7" y="102.3" width=".9" height=".9"/><rect x="412.1" y="108.1" width=".9" height=".9"/><rect x="420.5" y="97.6" width=".9" height=".9"/><rect x="413.6" y="114.1" width=".9" height=".9"/><rect x="412.7" y="119.4" width=".9" height=".9"/><rect x="419.8" y="113.7" width=".9" height=".9"/><rect x="417.3" y="111.4" width=".9" height=".9"/><rect x="408.5" y="114.5" width=".9" height=".9"/><rect x="411.6" y="85.4" width=".9" height=".9"/><rect x="408.3" y="96.0" width=".9" height=".9"/><rect x="413.4" y="111.8" width=".9" height=".9"/><rect x="402.4" y="97.2" width=".9" height=".9"/><rect x="419.4" y="85.3" width=".9" height=".9"/><rect x="421.5" y="106.6" width=".9" height=".9"/><rect x="409.4" y="75.5" width=".9" height=".9"/><rect x="419.3" y="108.1" width=".9" height=".9"/><rect x="420.7" y="91.9" width=".9" height=".9"/><rect x="407.0" y="85.7" width=".9" height=".9"/><rect x="402.3" y="96.9" width=".9" height=".9"/><rect x="408.5" y="95.9" width=".9" height=".9"/><rect x="420.9" y="98.7" width=".9" height=".9"/><rect x="413.2" y="112.5" width=".9" height=".9"/><rect x="412.5" y="93.8" width=".9" height=".9"/><rect x="413.4" y="100.9" width=".9" height=".9"/><rect x="423.4" y="96.4" width=".9" height=".9"/><rect x="404.7" y="95.4" width=".9" height=".9"/><rect x="406.2" y="109.2" width=".9" height=".9"/><rect x="408.2" y="85.6" width=".9" height=".9"/><rect x="412.5" y="80.6" width=".9" height=".9"/><rect x="415.0" y="74.8" width=".9" height=".9"/><rect x="408.9" y="115.5" width=".9" height=".9"/><rect x="421.8" y="106.7" width=".9" height=".9"/><rect x="413.9" y="82.6" width=".9" height=".9"/><rect x="422.9" y="108.3" width=".9" height=".9"/><rect x="411.1" y="105.7" width=".9" height=".9"/><rect x="408.3" y="109.0" width=".9" height=".9"/><rect x="417.0" y="109.7" width=".9" height=".9"/><rect x="413.8" y="98.6" width=".9" height=".9"/><rect x="417.3" y="90.9" width=".9" height=".9"/><rect x="411.7" y="117.8" width=".9" height=".9"/><rect x="416.1" y="102.3" width=".9" height=".9"/><rect x="413.2" y="88.8" width=".9" height=".9"/><rect x="419.2" y="109.9" width=".9" height=".9"/><rect x="405.2" y="87.5" width=".9" height=".9"/><rect x="418.1" y="111.2" width=".9" height=".9"/><rect x="417.0" y="115.2" width=".9" height=".9"/><rect x="417.9" y="84.3" width=".9" height=".9"/><rect x="415.1" y="80.6" width=".9" height=".9"/><rect x="422.4" y="104.2" width=".9" height=".9"/><rect x="413.7" y="108.4" width=".9" height=".9"/><rect x="409.6" y="110.3" width=".9" height=".9"/><rect x="416.3" y="119.7" width=".9" height=".9"/><rect x="413.3" y="102.5" width=".9" height=".9"/><rect x="406.4" y="106.9" width=".9" height=".9"/><rect x="407.9" y="114.6" width=".9" height=".9"/><rect x="420.4" y="96.6" width=".9" height=".9"/><rect x="418.1" y="105.9" width=".9" height=".9"/><rect x="408.0" y="105.0" width=".9" height=".9"/><rect x="410.9" y="108.2" width=".9" height=".9"/><rect x="417.4" y="96.6" width=".9" height=".9"/><rect x="415.5" y="88.5" width=".9" height=".9"/><rect x="410.1" y="108.9" width=".9" height=".9"/><rect x="419.3" y="98.8" width=".9" height=".9"/><rect x="406.4" y="102.8" width=".9" height=".9"/><rect x="418.2" y="96.1" width=".9" height=".9"/><rect x="410.2" y="94.7" width=".9" height=".9"/><rect x="408.3" y="98.9" width=".9" height=".9"/><rect x="420.1" y="110.2" width=".9" height=".9"/><rect x="412.8" y="123.7" width=".9" height=".9"/><rect x="419.7" y="110.8" width=".9" height=".9"/><rect x="411.1" y="115.2" width=".9" height=".9"/><rect x="406.7" y="108.1" width=".9" height=".9"/><rect x="419.1" y="93.3" width=".9" height=".9"/><rect x="417.3" y="114.1" width=".9" height=".9"/><rect x="402.6" y="97.4" width=".9" height=".9"/><rect x="417.9" y="83.6" width=".9" height=".9"/><rect x="414.6" y="87.5" width=".9" height=".9"/><rect x="411.1" y="118.2" width=".9" height=".9"/><rect x="412.4" y="80.0" width=".9" height=".9"/><rect x="408.5" y="87.5" width=".9" height=".9"/><rect x="408.1" y="102.6" width=".9" height=".9"/><rect x="417.0" y="117.6" width=".9" height=".9"/><rect x="407.6" y="115.0" width=".9" height=".9"/><rect x="413.4" y="87.4" width=".9" height=".9"/><rect x="406.3" y="92.9" width=".9" height=".9"/><rect x="412.0" y="113.4" width=".9" height=".9"/><rect x="404.1" y="106.8" width=".9" height=".9"/><rect x="406.1" y="101.9" width=".9" height=".9"/><rect x="405.5" y="104.4" width=".9" height=".9"/><rect x="406.6" y="104.3" width=".9" height=".9"/><rect x="407.3" y="111.8" width=".9" height=".9"/><rect x="407.9" y="106.6" width=".9" height=".9"/><rect x="419.4" y="107.2" width=".9" height=".9"/><rect x="416.7" y="90.1" width=".9" height=".9"/><rect x="417.2" y="83.9" width=".9" height=".9"/><rect x="407.9" y="117.0" width=".9" height=".9"/><rect x="415.0" y="109.2" width=".9" height=".9"/><rect x="420.5" y="101.3" width=".9" height=".9"/><rect x="417.4" y="117.3" width=".9" height=".9"/><rect x="420.7" y="101.2" width=".9" height=".9"/><rect x="417.1" y="102.9" width=".9" height=".9"/><rect x="403.4" y="110.9" width=".9" height=".9"/><rect x="417.9" y="100.2" width=".9" height=".9"/><rect x="409.8" y="99.4" width=".9" height=".9"/><rect x="407.6" y="97.2" width=".9" height=".9"/><rect x="415.5" y="94.9" width=".9" height=".9"/><rect x="409.0" y="103.3" width=".9" height=".9"/><rect x="408.0" y="82.3" width=".9" height=".9"/><rect x="405.1" y="94.4" width=".9" height=".9"/><rect x="404.5" y="105.9" width=".9" height=".9"/><rect x="405.9" y="111.7" width=".9" height=".9"/><rect x="409.4" y="90.1" width=".9" height=".9"/><rect x="409.1" y="106.1" width=".9" height=".9"/><rect x="417.6" y="119.5" width=".9" height=".9"/><rect x="411.8" y="100.2" width=".9" height=".9"/><rect x="406.2" y="113.4" width=".9" height=".9"/><rect x="411.7" y="93.6" width=".9" height=".9"/><rect x="419.7" y="96.7" width=".9" height=".9"/><rect x="412.5" y="96.3" width=".9" height=".9"/><rect x="408.6" y="93.2" width=".9" height=".9"/><rect x="402.6" y="95.8" width=".9" height=".9"/><rect x="423.4" y="103.7" width=".9" height=".9"/><rect x="419.5" y="105.9" width=".9" height=".9"/><rect x="411.2" y="74.6" width=".9" height=".9"/><rect x="415.6" y="109.9" width=".9" height=".9"/><rect x="408.6" y="109.4" width=".9" height=".9"/><rect x="422.1" y="104.1" width=".9" height=".9"/><rect x="423.1" y="102.9" width=".9" height=".9"/><rect x="410.5" y="73.1" width=".9" height=".9"/><rect x="417.8" y="92.5" width=".9" height=".9"/><rect x="419.7" y="87.1" width=".9" height=".9"/><rect x="415.8" y="91.0" width=".9" height=".9"/><rect x="405.1" y="97.1" width=".9" height=".9"/><rect x="414.2" y="112.2" width=".9" height=".9"/><rect x="423.0" y="96.1" width=".9" height=".9"/><rect x="415.0" y="89.6" width=".9" height=".9"/><rect x="414.0" y="80.8" width=".9" height=".9"/><rect x="406.0" y="101.9" width=".9" height=".9"/><rect x="412.7" y="95.6" width=".9" height=".9"/><rect x="407.7" y="88.3" width=".9" height=".9"/><rect x="422.8" y="97.0" width=".9" height=".9"/><rect x="413.8" y="110.7" width=".9" height=".9"/><rect x="409.5" y="95.5" width=".9" height=".9"/><rect x="423.4" y="97.3" width=".9" height=".9"/><rect x="419.3" y="97.5" width=".9" height=".9"/><rect x="410.6" y="91.6" width=".9" height=".9"/><rect x="414.7" y="87.5" width=".9" height=".9"/><rect x="415.1" y="110.4" width=".9" height=".9"/><rect x="418.3" y="105.5" width=".9" height=".9"/><rect x="413.0" y="62.6" width=".9" height=".9"/><rect x="424.1" y="101.0" width=".9" height=".9"/><rect x="418.0" y="105.7" width=".9" height=".9"/><rect x="414.2" y="107.5" width=".9" height=".9"/><rect x="417.6" y="109.1" width=".9" height=".9"/><rect x="405.0" y="103.1" width=".9" height=".9"/><rect x="413.5" y="77.9" width=".9" height=".9"/><rect x="403.5" y="93.7" width=".9" height=".9"/><rect x="412.8" y="89.8" width=".9" height=".9"/><rect x="410.2" y="94.0" width=".9" height=".9"/><rect x="403.5" y="98.5" width=".9" height=".9"/><rect x="413.8" y="103.8" width=".9" height=".9"/><rect x="403.2" y="109.5" width=".9" height=".9"/><rect x="414.5" y="109.3" width=".9" height=".9"/><rect x="419.7" y="86.4" width=".9" height=".9"/><rect x="419.6" y="106.4" width=".9" height=".9"/><rect x="414.4" y="81.5" width=".9" height=".9"/><rect x="423.3" y="106.0" width=".9" height=".9"/><rect x="403.1" y="104.4" width=".9" height=".9"/><rect x="412.9" y="76.5" width=".9" height=".9"/><rect x="407.6" y="113.4" width=".9" height=".9"/><rect x="410.2" y="113.4" width=".9" height=".9"/><rect x="414.3" y="111.5" width=".9" height=".9"/><rect x="416.4" y="116.8" width=".9" height=".9"/><rect x="409.8" y="85.4" width=".9" height=".9"/><rect x="418.6" y="89.9" width=".9" height=".9"/><rect x="409.3" y="94.6" width=".9" height=".9"/><rect x="422.6" y="95.4" width=".9" height=".9"/><rect x="415.5" y="103.0" width=".9" height=".9"/><rect x="422.6" y="99.6" width=".9" height=".9"/><rect x="410.2" y="103.3" width=".9" height=".9"/><rect x="408.1" y="110.9" width=".9" height=".9"/><rect x="420.0" y="100.3" width=".9" height=".9"/><rect x="414.4" y="113.5" width=".9" height=".9"/><rect x="403.3" y="93.4" width=".9" height=".9"/><rect x="408.2" y="87.3" width=".9" height=".9"/><rect x="414.2" y="81.1" width=".9" height=".9"/><rect x="416.2" y="108.2" width=".9" height=".9"/><rect x="404.5" y="101.8" width=".9" height=".9"/><rect x="420.1" y="92.0" width=".9" height=".9"/><rect x="407.7" y="96.2" width=".9" height=".9"/><rect x="419.2" y="92.6" width=".9" height=".9"/><rect x="405.2" y="104.6" width=".9" height=".9"/><rect x="406.8" y="93.1" width=".9" height=".9"/><rect x="413.2" y="114.8" width=".9" height=".9"/><rect x="418.3" y="114.4" width=".9" height=".9"/><rect x="414.6" y="112.5" width=".9" height=".9"/><rect x="407.4" y="106.3" width=".9" height=".9"/><rect x="405.8" y="112.5" width=".9" height=".9"/><rect x="410.6" y="81.2" width=".9" height=".9"/><rect x="411.9" y="107.2" width=".9" height=".9"/><rect x="405.1" y="102.4" width=".9" height=".9"/><rect x="411.2" y="100.5" width=".9" height=".9"/><rect x="408.0" y="103.6" width=".9" height=".9"/><rect x="420.3" y="89.9" width=".9" height=".9"/><rect x="407.8" y="84.0" width=".9" height=".9"/><rect x="422.9" y="106.8" width=".9" height=".9"/><rect x="415.1" y="87.6" width=".9" height=".9"/><rect x="415.0" y="107.4" width=".9" height=".9"/><rect x="410.0" y="80.0" width=".9" height=".9"/><rect x="408.9" y="86.2" width=".9" height=".9"/><rect x="419.9" y="100.8" width=".9" height=".9"/></g>
<g fill="#2e2424" opacity="0.72"><rect x="401.9" y="92.1" width=".9" height=".9"/><rect x="405.5" y="119.6" width=".9" height=".9"/><rect x="421.5" y="113.9" width=".9" height=".9"/><rect x="421.5" y="90.1" width=".9" height=".9"/><rect x="401.4" y="83.4" width=".9" height=".9"/><rect x="424.1" y="112.8" width=".9" height=".9"/><rect x="409.3" y="67.0" width=".9" height=".9"/><rect x="424.5" y="106.9" width=".9" height=".9"/><rect x="409.0" y="76.5" width=".9" height=".9"/><rect x="419.6" y="120.1" width=".9" height=".9"/><rect x="401.0" y="80.3" width=".9" height=".9"/><rect x="423.8" y="116.0" width=".9" height=".9"/><rect x="419.2" y="55.5" width=".9" height=".9"/><rect x="402.2" y="93.5" width=".9" height=".9"/><rect x="424.5" y="97.0" width=".9" height=".9"/><rect x="403.9" y="81.8" width=".9" height=".9"/><rect x="402.2" y="78.0" width=".9" height=".9"/><rect x="404.6" y="119.7" width=".9" height=".9"/><rect x="402.4" y="82.3" width=".9" height=".9"/><rect x="424.2" y="86.5" width=".9" height=".9"/><rect x="421.6" y="125.2" width=".9" height=".9"/><rect x="404.3" y="123.1" width=".9" height=".9"/><rect x="418.0" y="61.8" width=".9" height=".9"/><rect x="422.9" y="115.3" width=".9" height=".9"/><rect x="423.7" y="114.2" width=".9" height=".9"/><rect x="406.8" y="70.0" width=".9" height=".9"/><rect x="405.8" y="80.8" width=".9" height=".9"/><rect x="403.3" y="88.7" width=".9" height=".9"/><rect x="407.0" y="69.5" width=".9" height=".9"/><rect x="424.2" y="94.6" width=".9" height=".9"/><rect x="403.3" y="85.3" width=".9" height=".9"/><rect x="421.3" y="118.8" width=".9" height=".9"/><rect x="402.8" y="94.2" width=".9" height=".9"/><rect x="423.8" y="119.0" width=".9" height=".9"/><rect x="400.9" y="96.6" width=".9" height=".9"/><rect x="424.2" y="91.7" width=".9" height=".9"/><rect x="424.3" y="94.2" width=".9" height=".9"/><rect x="419.9" y="83.8" width=".9" height=".9"/><rect x="403.9" y="74.9" width=".9" height=".9"/><rect x="401.7" y="94.1" width=".9" height=".9"/><rect x="423.5" y="80.4" width=".9" height=".9"/><rect x="418.6" y="80.7" width=".9" height=".9"/><rect x="423.8" y="107.6" width=".9" height=".9"/><rect x="405.9" y="80.6" width=".9" height=".9"/><rect x="421.1" y="84.0" width=".9" height=".9"/><rect x="419.4" y="121.5" width=".9" height=".9"/><rect x="407.4" y="124.2" width=".9" height=".9"/><rect x="417.9" y="68.7" width=".9" height=".9"/><rect x="402.2" y="81.5" width=".9" height=".9"/><rect x="410.2" y="69.1" width=".9" height=".9"/><rect x="424.8" y="111.8" width=".9" height=".9"/><rect x="417.1" y="68.0" width=".9" height=".9"/><rect x="416.9" y="74.9" width=".9" height=".9"/><rect x="423.6" y="96.0" width=".9" height=".9"/><rect x="420.3" y="77.3" width=".9" height=".9"/><rect x="424.6" y="105.4" width=".9" height=".9"/><rect x="406.7" y="122.0" width=".9" height=".9"/><rect x="422.9" y="82.7" width=".9" height=".9"/><rect x="424.0" y="104.1" width=".9" height=".9"/><rect x="422.8" y="87.1" width=".9" height=".9"/><rect x="400.9" y="97.9" width=".9" height=".9"/><rect x="406.0" y="77.5" width=".9" height=".9"/><rect x="423.9" y="115.5" width=".9" height=".9"/><rect x="403.3" y="91.3" width=".9" height=".9"/><rect x="417.1" y="51.7" width=".9" height=".9"/><rect x="401.8" y="94.9" width=".9" height=".9"/><rect x="408.0" y="73.2" width=".9" height=".9"/><rect x="403.3" y="84.1" width=".9" height=".9"/><rect x="423.7" y="89.0" width=".9" height=".9"/><rect x="423.9" y="107.5" width=".9" height=".9"/><rect x="404.3" y="121.0" width=".9" height=".9"/><rect x="409.1" y="62.1" width=".9" height=".9"/><rect x="401.0" y="105.5" width=".9" height=".9"/><rect x="416.3" y="72.9" width=".9" height=".9"/><rect x="422.9" y="78.2" width=".9" height=".9"/><rect x="417.8" y="71.3" width=".9" height=".9"/><rect x="401.3" y="104.5" width=".9" height=".9"/><rect x="401.4" y="119.1" width=".9" height=".9"/><rect x="417.0" y="121.2" width=".9" height=".9"/><rect x="421.9" y="113.8" width=".9" height=".9"/><rect x="405.0" y="86.3" width=".9" height=".9"/><rect x="420.2" y="78.5" width=".9" height=".9"/><rect x="401.9" y="113.1" width=".9" height=".9"/><rect x="401.6" y="109.4" width=".9" height=".9"/><rect x="420.1" y="72.9" width=".9" height=".9"/><rect x="424.6" y="98.6" width=".9" height=".9"/><rect x="406.0" y="116.7" width=".9" height=".9"/><rect x="423.6" y="108.9" width=".9" height=".9"/><rect x="402.4" y="92.3" width=".9" height=".9"/><rect x="423.4" y="90.4" width=".9" height=".9"/><rect x="405.8" y="76.5" width=".9" height=".9"/><rect x="409.2" y="68.3" width=".9" height=".9"/><rect x="421.6" y="115.7" width=".9" height=".9"/><rect x="401.8" y="83.9" width=".9" height=".9"/><rect x="423.6" y="86.1" width=".9" height=".9"/><rect x="401.8" y="85.1" width=".9" height=".9"/><rect x="402.7" y="112.6" width=".9" height=".9"/><rect x="409.2" y="123.6" width=".9" height=".9"/><rect x="402.9" y="93.6" width=".9" height=".9"/><rect x="423.4" y="79.3" width=".9" height=".9"/><rect x="424.2" y="95.5" width=".9" height=".9"/><rect x="406.9" y="77.0" width=".9" height=".9"/><rect x="403.0" y="88.7" width=".9" height=".9"/><rect x="402.8" y="90.0" width=".9" height=".9"/><rect x="404.9" y="122.9" width=".9" height=".9"/><rect x="422.4" y="91.0" width=".9" height=".9"/><rect x="402.9" y="88.2" width=".9" height=".9"/><rect x="423.1" y="115.7" width=".9" height=".9"/><rect x="405.8" y="116.5" width=".9" height=".9"/><rect x="423.5" y="116.5" width=".9" height=".9"/><rect x="419.0" y="117.5" width=".9" height=".9"/><rect x="421.6" y="87.6" width=".9" height=".9"/><rect x="407.8" y="79.6" width=".9" height=".9"/><rect x="424.1" y="89.0" width=".9" height=".9"/><rect x="420.6" y="81.2" width=".9" height=".9"/><rect x="423.1" y="109.1" width=".9" height=".9"/><rect x="418.0" y="78.1" width=".9" height=".9"/><rect x="401.0" y="103.6" width=".9" height=".9"/><rect x="421.2" y="87.9" width=".9" height=".9"/><rect x="419.9" y="84.1" width=".9" height=".9"/><rect x="424.0" y="91.3" width=".9" height=".9"/><rect x="401.1" y="90.0" width=".9" height=".9"/><rect x="421.8" y="77.5" width=".9" height=".9"/><rect x="415.7" y="63.4" width=".9" height=".9"/><rect x="408.5" y="123.1" width=".9" height=".9"/><rect x="418.9" y="68.3" width=".9" height=".9"/><rect x="414.0" y="60.8" width=".9" height=".9"/><rect x="423.0" y="91.9" width=".9" height=".9"/><rect x="421.0" y="87.9" width=".9" height=".9"/><rect x="405.1" y="73.6" width=".9" height=".9"/><rect x="417.6" y="63.7" width=".9" height=".9"/><rect x="419.6" y="118.3" width=".9" height=".9"/><rect x="419.4" y="120.0" width=".9" height=".9"/><rect x="402.8" y="118.4" width=".9" height=".9"/><rect x="403.6" y="123.2" width=".9" height=".9"/><rect x="422.2" y="122.9" width=".9" height=".9"/><rect x="421.8" y="124.9" width=".9" height=".9"/><rect x="418.5" y="64.5" width=".9" height=".9"/><rect x="407.7" y="75.8" width=".9" height=".9"/><rect x="420.8" y="122.4" width=".9" height=".9"/><rect x="401.7" y="94.4" width=".9" height=".9"/><rect x="423.4" y="86.8" width=".9" height=".9"/><rect x="424.6" y="112.5" width=".9" height=".9"/><rect x="403.4" y="123.7" width=".9" height=".9"/><rect x="404.0" y="84.6" width=".9" height=".9"/><rect x="421.4" y="87.1" width=".9" height=".9"/><rect x="416.2" y="69.7" width=".9" height=".9"/><rect x="405.2" y="69.1" width=".9" height=".9"/><rect x="401.9" y="88.7" width=".9" height=".9"/><rect x="414.5" y="51.7" width=".9" height=".9"/><rect x="404.3" y="86.3" width=".9" height=".9"/><rect x="424.2" y="86.8" width=".9" height=".9"/><rect x="400.8" y="83.8" width=".9" height=".9"/><rect x="403.3" y="115.5" width=".9" height=".9"/><rect x="402.1" y="110.1" width=".9" height=".9"/><rect x="404.4" y="80.4" width=".9" height=".9"/><rect x="408.1" y="123.4" width=".9" height=".9"/><rect x="424.7" y="99.4" width=".9" height=".9"/><rect x="419.6" y="64.1" width=".9" height=".9"/><rect x="402.1" y="86.7" width=".9" height=".9"/><rect x="420.7" y="85.1" width=".9" height=".9"/><rect x="402.8" y="117.7" width=".9" height=".9"/><rect x="424.1" y="98.8" width=".9" height=".9"/><rect x="405.2" y="120.0" width=".9" height=".9"/><rect x="408.7" y="124.6" width=".9" height=".9"/><rect x="402.0" y="90.3" width=".9" height=".9"/><rect x="419.1" y="119.9" width=".9" height=".9"/><rect x="422.2" y="120.3" width=".9" height=".9"/><rect x="402.7" y="83.9" width=".9" height=".9"/><rect x="408.8" y="71.7" width=".9" height=".9"/><rect x="421.3" y="118.9" width=".9" height=".9"/><rect x="403.9" y="124.3" width=".9" height=".9"/><rect x="404.3" y="71.6" width=".9" height=".9"/><rect x="400.9" y="104.5" width=".9" height=".9"/></g>
<line x1="403.00" y1="125.40" x2="423.00" y2="125.40" stroke="#333" stroke-width="0.7"/>
<line x1="430.00" y1="125.40" x2="448.00" y2="125.40" stroke="#333" stroke-width="0.7"/>
<path d="M439.15,48.00 L439.29,48.97 L439.48,49.93 L439.71,50.90 L439.96,51.86 L440.22,52.83 L440.48,53.79 L440.74,54.76 L441.01,55.72 L441.29,56.69 L441.57,57.65 L441.86,58.62 L442.17,59.58 L442.48,60.55 L442.80,61.51 L443.14,62.48 L443.49,63.44 L443.83,64.41 L444.19,65.37 L444.54,66.34 L444.89,67.30 L445.24,68.27 L445.58,69.23 L445.91,70.19 L446.23,71.16 L446.54,72.12 L446.83,73.09 L447.11,74.06 L447.39,75.02 L447.67,75.98 L447.95,76.95 L448.23,77.92 L448.49,78.88 L448.75,79.84 L449.00,80.81 L449.23,81.78 L449.45,82.74 L449.65,83.70 L449.84,84.67 L450.00,85.64 L450.15,86.60 L450.26,87.56 L450.31,88.53 L450.30,89.50 L450.25,90.46 L450.15,91.42 L450.02,92.39 L449.88,93.36 L449.72,94.32 L449.55,95.28 L449.28,96.25 L448.93,97.22 L448.56,98.18 L448.23,99.15 L447.98,100.11 L447.80,101.08 L447.66,102.04 L447.55,103.01 L447.46,103.97 L447.38,104.94 L447.31,105.90 L447.25,106.86 L447.21,107.83 L447.19,108.80 L447.17,109.76 L447.15,110.72 L447.12,111.69 L447.06,112.66 L446.98,113.62 L446.90,114.59 L446.81,115.55 L446.72,116.52 L446.64,117.48 L446.57,118.45 L446.50,119.41 L446.44,120.38 L446.38,121.34 L446.32,122.31 L446.27,123.27 L446.23,124.23 L446.20,125.20 L431.40,125.20 L431.37,124.23 L431.33,123.27 L431.28,122.31 L431.22,121.34 L431.16,120.38 L431.10,119.41 L431.03,118.45 L430.96,117.48 L430.88,116.52 L430.79,115.55 L430.70,114.59 L430.62,113.62 L430.54,112.66 L430.48,111.69 L430.45,110.72 L430.43,109.76 L430.41,108.80 L430.39,107.83 L430.35,106.86 L430.29,105.90 L430.22,104.94 L430.14,103.97 L430.05,103.01 L429.94,102.04 L429.80,101.08 L429.62,100.11 L429.37,99.15 L429.04,98.18 L428.67,97.22 L428.32,96.25 L428.05,95.28 L427.88,94.32 L427.72,93.36 L427.58,92.39 L427.45,91.42 L427.35,90.46 L427.30,89.50 L427.29,88.53 L427.34,87.56 L427.45,86.60 L427.60,85.64 L427.76,84.67 L427.95,83.70 L428.15,82.74 L428.37,81.78 L428.60,80.81 L428.85,79.84 L429.11,78.88 L429.37,77.92 L429.65,76.95 L429.93,75.98 L430.21,75.02 L430.49,74.06 L430.77,73.09 L431.06,72.12 L431.37,71.16 L431.69,70.19 L432.02,69.23 L432.36,68.27 L432.71,67.30 L433.06,66.34 L433.41,65.37 L433.77,64.41 L434.11,63.44 L434.46,62.48 L434.80,61.51 L435.12,60.55 L435.43,59.58 L435.74,58.62 L436.03,57.65 L436.31,56.69 L436.59,55.72 L436.86,54.76 L437.12,53.79 L437.38,52.83 L437.64,51.86 L437.89,50.90 L438.12,49.93 L438.31,48.97 L438.45,48.00 Z" fill="#1bb0e0" stroke="#222" stroke-width="0.6"/>
<g fill="#111" opacity="0.75"><rect x="430.8" y="101.9" width=".9" height=".9"/><rect x="428.8" y="94.6" width=".9" height=".9"/><rect x="434.3" y="82.6" width=".9" height=".9"/><rect x="444.1" y="120.2" width=".9" height=".9"/><rect x="430.5" y="96.8" width=".9" height=".9"/><rect x="443.5" y="86.6" width=".9" height=".9"/><rect x="436.4" y="85.8" width=".9" height=".9"/><rect x="438.2" y="76.4" width=".9" height=".9"/><rect x="431.5" y="93.6" width=".9" height=".9"/><rect x="438.6" y="96.7" width=".9" height=".9"/><rect x="449.7" y="88.2" width=".9" height=".9"/><rect x="434.4" y="71.0" width=".9" height=".9"/><rect x="437.1" y="94.5" width=".9" height=".9"/><rect x="444.8" y="83.0" width=".9" height=".9"/><rect x="430.8" y="86.7" width=".9" height=".9"/><rect x="440.0" y="103.9" width=".9" height=".9"/><rect x="433.5" y="88.4" width=".9" height=".9"/><rect x="434.6" y="86.9" width=".9" height=".9"/><rect x="431.1" y="79.9" width=".9" height=".9"/><rect x="429.8" y="92.9" width=".9" height=".9"/><rect x="439.7" y="58.5" width=".9" height=".9"/><rect x="446.6" y="83.6" width=".9" height=".9"/><rect x="437.6" y="93.0" width=".9" height=".9"/><rect x="438.4" y="124.2" width=".9" height=".9"/><rect x="428.6" y="88.9" width=".9" height=".9"/><rect x="435.4" y="97.9" width=".9" height=".9"/><rect x="437.9" y="107.0" width=".9" height=".9"/><rect x="442.0" y="101.0" width=".9" height=".9"/><rect x="433.2" y="96.7" width=".9" height=".9"/><rect x="434.2" y="106.1" width=".9" height=".9"/><rect x="445.5" y="75.2" width=".9" height=".9"/><rect x="432.5" y="88.1" width=".9" height=".9"/><rect x="429.3" y="90.4" width=".9" height=".9"/><rect x="441.7" y="86.4" width=".9" height=".9"/><rect x="446.7" y="98.0" width=".9" height=".9"/><rect x="436.0" y="100.6" width=".9" height=".9"/><rect x="443.5" y="111.4" width=".9" height=".9"/><rect x="446.5" y="113.8" width=".9" height=".9"/><rect x="441.5" y="73.5" width=".9" height=".9"/><rect x="443.4" y="120.7" width=".9" height=".9"/><rect x="441.6" y="88.1" width=".9" height=".9"/><rect x="443.4" y="118.1" width=".9" height=".9"/><rect x="432.6" y="71.6" width=".9" height=".9"/><rect x="443.0" y="109.3" width=".9" height=".9"/><rect x="429.0" y="90.6" width=".9" height=".9"/><rect x="439.6" y="105.6" width=".9" height=".9"/><rect x="436.2" y="111.1" width=".9" height=".9"/><rect x="429.7" y="78.3" width=".9" height=".9"/><rect x="442.8" y="106.9" width=".9" height=".9"/><rect x="445.0" y="82.2" width=".9" height=".9"/><rect x="447.7" y="97.4" width=".9" height=".9"/><rect x="435.3" y="105.9" width=".9" height=".9"/><rect x="443.2" y="94.8" width=".9" height=".9"/><rect x="435.9" y="77.9" width=".9" height=".9"/><rect x="441.9" y="70.3" width=".9" height=".9"/><rect x="434.0" y="68.5" width=".9" height=".9"/><rect x="435.4" y="111.2" width=".9" height=".9"/><rect x="436.5" y="115.2" width=".9" height=".9"/><rect x="432.2" y="115.3" width=".9" height=".9"/><rect x="442.9" y="95.7" width=".9" height=".9"/><rect x="434.5" y="66.2" width=".9" height=".9"/><rect x="430.4" y="77.7" width=".9" height=".9"/><rect x="445.6" y="85.0" width=".9" height=".9"/><rect x="429.7" y="94.7" width=".9" height=".9"/><rect x="432.5" y="119.1" width=".9" height=".9"/><rect x="433.4" y="72.4" width=".9" height=".9"/><rect x="446.2" y="115.4" width=".9" height=".9"/><rect x="442.1" y="106.4" width=".9" height=".9"/><rect x="438.8" y="121.6" width=".9" height=".9"/><rect x="437.7" y="122.7" width=".9" height=".9"/><rect x="439.7" y="89.3" width=".9" height=".9"/><rect x="432.9" y="98.9" width=".9" height=".9"/><rect x="445.3" y="85.9" width=".9" height=".9"/><rect x="445.5" y="89.0" width=".9" height=".9"/><rect x="434.0" y="93.7" width=".9" height=".9"/><rect x="434.2" y="117.5" width=".9" height=".9"/><rect x="435.0" y="72.1" width=".9" height=".9"/><rect x="441.6" y="120.3" width=".9" height=".9"/><rect x="441.1" y="105.4" width=".9" height=".9"/><rect x="449.2" y="86.0" width=".9" height=".9"/><rect x="443.5" y="85.9" width=".9" height=".9"/><rect x="436.8" y="76.0" width=".9" height=".9"/><rect x="436.3" y="108.0" width=".9" height=".9"/><rect x="435.3" y="116.6" width=".9" height=".9"/><rect x="447.0" y="90.8" width=".9" height=".9"/><rect x="432.4" y="92.7" width=".9" height=".9"/><rect x="433.0" y="114.2" width=".9" height=".9"/><rect x="436.3" y="123.5" width=".9" height=".9"/><rect x="432.3" y="100.6" width=".9" height=".9"/><rect x="432.0" y="82.1" width=".9" height=".9"/><rect x="431.2" y="98.5" width=".9" height=".9"/><rect x="445.6" y="71.7" width=".9" height=".9"/><rect x="438.1" y="92.4" width=".9" height=".9"/><rect x="448.3" y="91.0" width=".9" height=".9"/><rect x="435.4" y="113.6" width=".9" height=".9"/><rect x="435.3" y="118.3" width=".9" height=".9"/><rect x="442.6" y="87.0" width=".9" height=".9"/><rect x="433.3" y="112.0" width=".9" height=".9"/><rect x="436.6" y="112.6" width=".9" height=".9"/><rect x="431.3" y="113.8" width=".9" height=".9"/><rect x="437.9" y="83.4" width=".9" height=".9"/><rect x="434.9" y="104.8" width=".9" height=".9"/><rect x="440.2" y="99.6" width=".9" height=".9"/><rect x="438.2" y="85.2" width=".9" height=".9"/><rect x="449.6" y="89.1" width=".9" height=".9"/><rect x="442.8" y="79.4" width=".9" height=".9"/><rect x="441.7" y="107.2" width=".9" height=".9"/><rect x="433.1" y="85.0" width=".9" height=".9"/><rect x="442.1" y="96.3" width=".9" height=".9"/><rect x="435.7" y="85.7" width=".9" height=".9"/><rect x="436.5" y="124.3" width=".9" height=".9"/><rect x="429.3" y="88.1" width=".9" height=".9"/><rect x="438.1" y="122.8" width=".9" height=".9"/><rect x="436.5" y="101.6" width=".9" height=".9"/><rect x="443.2" y="105.1" width=".9" height=".9"/><rect x="431.1" y="82.3" width=".9" height=".9"/><rect x="447.7" y="77.9" width=".9" height=".9"/><rect x="440.8" y="70.3" width=".9" height=".9"/><rect x="444.8" y="104.2" width=".9" height=".9"/><rect x="445.8" y="112.9" width=".9" height=".9"/><rect x="430.0" y="93.7" width=".9" height=".9"/><rect x="432.9" y="91.3" width=".9" height=".9"/><rect x="432.2" y="119.8" width=".9" height=".9"/><rect x="435.6" y="95.1" width=".9" height=".9"/><rect x="436.3" y="67.9" width=".9" height=".9"/><rect x="429.5" y="84.9" width=".9" height=".9"/><rect x="439.1" y="75.2" width=".9" height=".9"/><rect x="442.5" y="115.5" width=".9" height=".9"/><rect x="437.5" y="99.6" width=".9" height=".9"/><rect x="446.4" y="100.1" width=".9" height=".9"/><rect x="445.2" y="79.6" width=".9" height=".9"/><rect x="431.5" y="108.4" width=".9" height=".9"/><rect x="448.4" y="95.0" width=".9" height=".9"/><rect x="431.8" y="90.7" width=".9" height=".9"/><rect x="438.3" y="61.1" width=".9" height=".9"/><rect x="431.4" y="108.9" width=".9" height=".9"/><rect x="443.1" y="122.3" width=".9" height=".9"/><rect x="429.0" y="82.7" width=".9" height=".9"/><rect x="442.8" y="99.7" width=".9" height=".9"/><rect x="434.9" y="114.9" width=".9" height=".9"/><rect x="434.9" y="70.7" width=".9" height=".9"/><rect x="437.5" y="95.1" width=".9" height=".9"/><rect x="440.7" y="78.4" width=".9" height=".9"/><rect x="432.4" y="103.6" width=".9" height=".9"/><rect x="435.6" y="70.8" width=".9" height=".9"/><rect x="444.7" y="90.2" width=".9" height=".9"/><rect x="439.8" y="84.4" width=".9" height=".9"/><rect x="430.3" y="92.7" width=".9" height=".9"/><rect x="442.8" y="86.9" width=".9" height=".9"/><rect x="447.8" y="87.0" width=".9" height=".9"/><rect x="445.1" y="90.1" width=".9" height=".9"/><rect x="434.2" y="67.8" width=".9" height=".9"/><rect x="430.5" y="87.5" width=".9" height=".9"/><rect x="440.7" y="119.8" width=".9" height=".9"/><rect x="436.0" y="81.2" width=".9" height=".9"/><rect x="441.4" y="84.9" width=".9" height=".9"/><rect x="431.8" y="86.7" width=".9" height=".9"/><rect x="446.7" y="111.2" width=".9" height=".9"/><rect x="444.9" y="107.3" width=".9" height=".9"/><rect x="436.6" y="100.8" width=".9" height=".9"/><rect x="439.9" y="103.0" width=".9" height=".9"/><rect x="438.5" y="58.4" width=".9" height=".9"/><rect x="440.3" y="80.0" width=".9" height=".9"/><rect x="430.8" y="97.6" width=".9" height=".9"/><rect x="441.3" y="117.9" width=".9" height=".9"/><rect x="445.1" y="92.4" width=".9" height=".9"/><rect x="434.6" y="70.5" width=".9" height=".9"/><rect x="435.6" y="96.6" width=".9" height=".9"/><rect x="442.0" y="83.9" width=".9" height=".9"/><rect x="445.4" y="120.4" width=".9" height=".9"/><rect x="438.7" y="85.8" width=".9" height=".9"/><rect x="430.4" y="100.0" width=".9" height=".9"/><rect x="437.0" y="124.2" width=".9" height=".9"/><rect x="436.4" y="77.7" width=".9" height=".9"/><rect x="440.0" y="122.1" width=".9" height=".9"/><rect x="434.7" y="92.1" width=".9" height=".9"/><rect x="447.6" y="84.1" width=".9" height=".9"/><rect x="439.3" y="95.0" width=".9" height=".9"/><rect x="441.2" y="70.8" width=".9" height=".9"/><rect x="435.1" y="93.2" width=".9" height=".9"/><rect x="441.3" y="123.2" width=".9" height=".9"/><rect x="431.5" y="119.1" width=".9" height=".9"/><rect x="448.1" y="90.4" width=".9" height=".9"/><rect x="431.0" y="113.1" width=".9" height=".9"/><rect x="430.5" y="97.5" width=".9" height=".9"/><rect x="436.0" y="120.7" width=".9" height=".9"/><rect x="442.6" y="115.6" width=".9" height=".9"/><rect x="440.2" y="106.1" width=".9" height=".9"/><rect x="437.9" y="67.3" width=".9" height=".9"/><rect x="441.6" y="60.8" width=".9" height=".9"/><rect x="430.8" y="105.2" width=".9" height=".9"/><rect x="441.5" y="79.2" width=".9" height=".9"/><rect x="434.9" y="116.1" width=".9" height=".9"/><rect x="429.9" y="90.8" width=".9" height=".9"/><rect x="438.8" y="81.5" width=".9" height=".9"/><rect x="438.2" y="103.7" width=".9" height=".9"/><rect x="432.8" y="98.5" width=".9" height=".9"/><rect x="446.1" y="106.1" width=".9" height=".9"/><rect x="431.8" y="116.2" width=".9" height=".9"/><rect x="439.0" y="91.1" width=".9" height=".9"/><rect x="431.9" y="85.9" width=".9" height=".9"/><rect x="439.2" y="105.9" width=".9" height=".9"/><rect x="438.4" y="80.5" width=".9" height=".9"/><rect x="437.1" y="99.6" width=".9" height=".9"/><rect x="443.4" y="90.3" width=".9" height=".9"/><rect x="438.7" y="81.2" width=".9" height=".9"/><rect x="447.9" y="93.4" width=".9" height=".9"/><rect x="434.3" y="80.6" width=".9" height=".9"/><rect x="441.4" y="93.8" width=".9" height=".9"/><rect x="444.5" y="91.8" width=".9" height=".9"/><rect x="443.1" y="117.9" width=".9" height=".9"/><rect x="430.6" y="77.9" width=".9" height=".9"/><rect x="439.3" y="78.7" width=".9" height=".9"/><rect x="431.8" y="115.8" width=".9" height=".9"/><rect x="434.6" y="79.5" width=".9" height=".9"/><rect x="444.7" y="118.2" width=".9" height=".9"/><rect x="444.9" y="115.4" width=".9" height=".9"/><rect x="441.8" y="81.7" width=".9" height=".9"/><rect x="449.2" y="88.9" width=".9" height=".9"/><rect x="429.4" y="96.7" width=".9" height=".9"/><rect x="430.8" y="76.7" width=".9" height=".9"/><rect x="438.3" y="85.3" width=".9" height=".9"/><rect x="433.1" y="121.7" width=".9" height=".9"/><rect x="432.3" y="102.1" width=".9" height=".9"/><rect x="445.3" y="114.8" width=".9" height=".9"/><rect x="440.3" y="91.4" width=".9" height=".9"/><rect x="448.2" y="90.1" width=".9" height=".9"/><rect x="431.7" y="121.6" width=".9" height=".9"/><rect x="435.5" y="65.8" width=".9" height=".9"/><rect x="431.5" y="109.8" width=".9" height=".9"/><rect x="429.4" y="93.9" width=".9" height=".9"/><rect x="433.4" y="84.2" width=".9" height=".9"/><rect x="437.1" y="85.8" width=".9" height=".9"/><rect x="434.5" y="114.7" width=".9" height=".9"/><rect x="435.2" y="100.9" width=".9" height=".9"/><rect x="435.0" y="107.8" width=".9" height=".9"/><rect x="444.6" y="73.0" width=".9" height=".9"/><rect x="437.3" y="109.3" width=".9" height=".9"/><rect x="429.8" y="85.5" width=".9" height=".9"/><rect x="436.5" y="87.8" width=".9" height=".9"/><rect x="441.3" y="87.5" width=".9" height=".9"/><rect x="448.0" y="84.0" width=".9" height=".9"/><rect x="431.7" y="103.6" width=".9" height=".9"/><rect x="442.9" y="100.0" width=".9" height=".9"/><rect x="439.0" y="73.1" width=".9" height=".9"/><rect x="432.3" y="108.9" width=".9" height=".9"/><rect x="428.9" y="85.3" width=".9" height=".9"/><rect x="442.0" y="93.0" width=".9" height=".9"/><rect x="441.7" y="72.4" width=".9" height=".9"/><rect x="445.0" y="116.6" width=".9" height=".9"/><rect x="443.9" y="89.7" width=".9" height=".9"/><rect x="435.3" y="63.7" width=".9" height=".9"/><rect x="431.3" y="102.2" width=".9" height=".9"/><rect x="445.6" y="110.9" width=".9" height=".9"/><rect x="443.0" y="101.5" width=".9" height=".9"/><rect x="439.6" y="108.8" width=".9" height=".9"/><rect x="447.9" y="84.0" width=".9" height=".9"/><rect x="443.7" y="89.9" width=".9" height=".9"/><rect x="435.4" y="91.5" width=".9" height=".9"/><rect x="431.5" y="92.0" width=".9" height=".9"/><rect x="444.4" y="102.8" width=".9" height=".9"/><rect x="434.6" y="89.0" width=".9" height=".9"/><rect x="432.1" y="117.8" width=".9" height=".9"/><rect x="439.0" y="122.0" width=".9" height=".9"/><rect x="448.0" y="91.6" width=".9" height=".9"/><rect x="428.6" y="89.6" width=".9" height=".9"/><rect x="433.4" y="92.1" width=".9" height=".9"/><rect x="430.1" y="85.8" width=".9" height=".9"/><rect x="441.4" y="98.3" width=".9" height=".9"/><rect x="433.2" y="124.8" width=".9" height=".9"/><rect x="439.7" y="72.3" width=".9" height=".9"/><rect x="447.8" y="89.7" width=".9" height=".9"/><rect x="439.1" y="62.0" width=".9" height=".9"/><rect x="443.8" y="86.1" width=".9" height=".9"/><rect x="447.1" y="91.2" width=".9" height=".9"/><rect x="432.1" y="86.8" width=".9" height=".9"/><rect x="441.3" y="97.9" width=".9" height=".9"/><rect x="433.1" y="116.6" width=".9" height=".9"/><rect x="430.7" y="104.2" width=".9" height=".9"/><rect x="444.1" y="120.6" width=".9" height=".9"/><rect x="441.2" y="70.9" width=".9" height=".9"/><rect x="435.2" y="108.3" width=".9" height=".9"/><rect x="438.0" y="122.5" width=".9" height=".9"/><rect x="447.2" y="83.3" width=".9" height=".9"/><rect x="439.0" y="85.7" width=".9" height=".9"/><rect x="430.9" y="100.7" width=".9" height=".9"/><rect x="436.1" y="96.4" width=".9" height=".9"/><rect x="444.0" y="118.9" width=".9" height=".9"/><rect x="440.7" y="86.6" width=".9" height=".9"/><rect x="440.4" y="100.6" width=".9" height=".9"/><rect x="434.3" y="105.4" width=".9" height=".9"/><rect x="437.7" y="121.2" width=".9" height=".9"/><rect x="439.7" y="88.0" width=".9" height=".9"/><rect x="443.2" y="95.4" width=".9" height=".9"/><rect x="438.8" y="99.1" width=".9" height=".9"/><rect x="442.3" y="69.3" width=".9" height=".9"/><rect x="439.3" y="123.0" width=".9" height=".9"/><rect x="435.1" y="80.9" width=".9" height=".9"/><rect x="440.6" y="119.2" width=".9" height=".9"/><rect x="438.4" y="61.6" width=".9" height=".9"/><rect x="434.9" y="108.6" width=".9" height=".9"/><rect x="432.9" y="72.4" width=".9" height=".9"/><rect x="446.5" y="113.4" width=".9" height=".9"/><rect x="435.6" y="113.9" width=".9" height=".9"/><rect x="434.8" y="96.3" width=".9" height=".9"/><rect x="434.5" y="77.7" width=".9" height=".9"/><rect x="446.7" y="76.4" width=".9" height=".9"/><rect x="429.1" y="84.2" width=".9" height=".9"/><rect x="435.6" y="98.1" width=".9" height=".9"/><rect x="434.4" y="118.5" width=".9" height=".9"/><rect x="435.0" y="88.6" width=".9" height=".9"/><rect x="445.5" y="91.6" width=".9" height=".9"/><rect x="431.8" y="123.5" width=".9" height=".9"/><rect x="433.4" y="123.3" width=".9" height=".9"/><rect x="444.9" y="124.8" width=".9" height=".9"/><rect x="434.8" y="88.6" width=".9" height=".9"/><rect x="446.0" y="96.6" width=".9" height=".9"/><rect x="433.7" y="103.1" width=".9" height=".9"/><rect x="437.3" y="94.8" width=".9" height=".9"/><rect x="439.6" y="91.5" width=".9" height=".9"/><rect x="449.5" y="86.9" width=".9" height=".9"/><rect x="444.6" y="118.0" width=".9" height=".9"/><rect x="446.1" y="108.8" width=".9" height=".9"/></g>
<g fill="#2e2424" opacity="0.72"><rect x="447.5" y="107.1" width=".9" height=".9"/><rect x="429.9" y="106.9" width=".9" height=".9"/><rect x="447.5" y="105.6" width=".9" height=".9"/><rect x="442.1" y="59.1" width=".9" height=".9"/><rect x="448.5" y="78.8" width=".9" height=".9"/><rect x="436.5" y="57.3" width=".9" height=".9"/><rect x="448.9" y="81.3" width=".9" height=".9"/><rect x="432.7" y="57.0" width=".9" height=".9"/><rect x="430.9" y="61.7" width=".9" height=".9"/><rect x="445.5" y="65.7" width=".9" height=".9"/><rect x="449.6" y="106.3" width=".9" height=".9"/><rect x="428.1" y="77.4" width=".9" height=".9"/><rect x="430.1" y="105.6" width=".9" height=".9"/><rect x="443.0" y="62.3" width=".9" height=".9"/><rect x="428.6" y="119.7" width=".9" height=".9"/><rect x="448.5" y="124.1" width=".9" height=".9"/><rect x="449.6" y="96.9" width=".9" height=".9"/><rect x="446.8" y="114.9" width=".9" height=".9"/><rect x="449.5" y="97.7" width=".9" height=".9"/><rect x="430.6" y="109.0" width=".9" height=".9"/><rect x="427.9" y="86.1" width=".9" height=".9"/><rect x="429.8" y="69.1" width=".9" height=".9"/><rect x="428.0" y="106.7" width=".9" height=".9"/><rect x="449.4" y="82.0" width=".9" height=".9"/><rect x="430.2" y="68.6" width=".9" height=".9"/><rect x="444.5" y="67.2" width=".9" height=".9"/><rect x="449.1" y="112.9" width=".9" height=".9"/><rect x="448.3" y="108.4" width=".9" height=".9"/><rect x="449.3" y="79.5" width=".9" height=".9"/><rect x="449.6" y="115.3" width=".9" height=".9"/><rect x="441.9" y="58.1" width=".9" height=".9"/><rect x="428.7" y="79.4" width=".9" height=".9"/><rect x="448.3" y="69.9" width=".9" height=".9"/><rect x="434.5" y="63.2" width=".9" height=".9"/><rect x="431.3" y="123.5" width=".9" height=".9"/><rect x="449.0" y="77.4" width=".9" height=".9"/><rect x="429.4" y="106.1" width=".9" height=".9"/><rect x="447.4" y="113.9" width=".9" height=".9"/><rect x="433.8" y="61.5" width=".9" height=".9"/><rect x="447.1" y="114.3" width=".9" height=".9"/><rect x="448.0" y="64.2" width=".9" height=".9"/><rect x="430.1" y="72.6" width=".9" height=".9"/><rect x="447.9" y="73.1" width=".9" height=".9"/><rect x="430.2" y="69.2" width=".9" height=".9"/><rect x="446.0" y="58.6" width=".9" height=".9"/><rect x="448.6" y="77.0" width=".9" height=".9"/><rect x="448.1" y="99.4" width=".9" height=".9"/><rect x="447.6" y="62.2" width=".9" height=".9"/><rect x="448.6" y="70.1" width=".9" height=".9"/><rect x="431.7" y="123.3" width=".9" height=".9"/><rect x="445.4" y="68.3" width=".9" height=".9"/><rect x="449.5" y="119.8" width=".9" height=".9"/><rect x="428.2" y="114.3" width=".9" height=".9"/><rect x="428.0" y="80.3" width=".9" height=".9"/><rect x="449.0" y="120.4" width=".9" height=".9"/><rect x="449.5" y="102.5" width=".9" height=".9"/><rect x="430.3" y="121.2" width=".9" height=".9"/><rect x="445.3" y="61.4" width=".9" height=".9"/><rect x="435.3" y="58.6" width=".9" height=".9"/><rect x="449.4" y="107.0" width=".9" height=".9"/><rect x="431.3" y="119.2" width=".9" height=".9"/><rect x="448.8" y="105.9" width=".9" height=".9"/><rect x="430.5" y="108.8" width=".9" height=".9"/><rect x="441.4" y="57.4" width=".9" height=".9"/><rect x="428.0" y="77.6" width=".9" height=".9"/><rect x="446.7" y="72.8" width=".9" height=".9"/><rect x="430.7" y="123.5" width=".9" height=".9"/><rect x="448.5" y="100.5" width=".9" height=".9"/><rect x="428.6" y="96.4" width=".9" height=".9"/><rect x="448.0" y="100.5" width=".9" height=".9"/><rect x="448.9" y="108.0" width=".9" height=".9"/><rect x="429.2" y="117.7" width=".9" height=".9"/><rect x="428.4" y="119.3" width=".9" height=".9"/><rect x="428.5" y="96.0" width=".9" height=".9"/><rect x="429.7" y="100.0" width=".9" height=".9"/><rect x="449.8" y="93.9" width=".9" height=".9"/><rect x="443.7" y="57.0" width=".9" height=".9"/><rect x="430.3" y="63.5" width=".9" height=".9"/><rect x="431.2" y="72.2" width=".9" height=".9"/><rect x="429.7" y="102.2" width=".9" height=".9"/><rect x="428.0" y="68.6" width=".9" height=".9"/><rect x="448.9" y="107.2" width=".9" height=".9"/><rect x="447.6" y="102.2" width=".9" height=".9"/><rect x="428.0" y="92.8" width=".9" height=".9"/><rect x="428.6" y="115.5" width=".9" height=".9"/><rect x="448.0" y="77.3" width=".9" height=".9"/><rect x="448.7" y="118.7" width=".9" height=".9"/><rect x="428.1" y="115.3" width=".9" height=".9"/><rect x="430.4" y="70.5" width=".9" height=".9"/><rect x="429.1" y="65.9" width=".9" height=".9"/><rect x="429.0" y="73.3" width=".9" height=".9"/><rect x="448.5" y="67.5" width=".9" height=".9"/><rect x="449.0" y="98.9" width=".9" height=".9"/><rect x="432.4" y="62.0" width=".9" height=".9"/><rect x="449.4" y="110.1" width=".9" height=".9"/><rect x="433.3" y="55.8" width=".9" height=".9"/><rect x="430.0" y="64.2" width=".9" height=".9"/></g>
<path d="M387.00,42.20 L387.00,40.00 L412.60,40.00 L412.60,42.20" fill="none" stroke="#333" stroke-width="1"/>
<text x="399.80" y="37.60" font-size="7.1" text-anchor="middle" fill="#333" stroke="#333" stroke-width="0.2" textLength="17.69" lengthAdjust="spacingAndGlyphs">2e−10</text>
<path d="M412.60,32.70 L412.60,30.50 L439.20,30.50 L439.20,32.70" fill="none" stroke="#333" stroke-width="1"/>
<text x="425.90" y="28.10" font-size="7.1" text-anchor="middle" fill="#333" stroke="#333" stroke-width="0.2" textLength="22.95" lengthAdjust="spacingAndGlyphs">2.6e−07</text>
<text x="457.70" y="64.90" font-size="6.1" text-anchor="start" fill="#333" stroke="#333" stroke-width="0.1" textLength="43.5" lengthAdjust="spacingAndGlyphs">Clinical outcome</text>
<rect x="457.50" y="70.00" width="5.80" height="5.80" fill="#e3123e" stroke="#3a3a3a" stroke-width="0.6"/>
<text x="466.40" y="74.80" font-size="6.1" text-anchor="start" fill="#333" stroke="#333" stroke-width="0.12">Normal</text>
<rect x="457.50" y="79.70" width="5.80" height="5.80" fill="#1ea34a" stroke="#3a3a3a" stroke-width="0.6"/>
<text x="466.40" y="84.50" font-size="6.1" text-anchor="start" fill="#333" stroke="#333" stroke-width="0.12">BTKi−S</text>
<rect x="457.50" y="89.40" width="5.80" height="5.80" fill="#1bb0e0" stroke="#3a3a3a" stroke-width="0.6"/>
<text x="466.40" y="94.20" font-size="6.1" text-anchor="start" fill="#333" stroke="#333" stroke-width="0.12">BTKi−R</text>
<text x="40.00" y="179.40" font-size="8.6" text-anchor="start" fill="#222" stroke="#222" stroke-width="0.22" textLength="170" lengthAdjust="spacingAndGlyphs">SOX11 &amp; PAX5 correlation in MCL tumor B cells</text>
<text x="298.80" y="179.40" font-size="8.6" text-anchor="start" fill="#222" stroke="#222" stroke-width="0.22" textLength="165.7" lengthAdjust="spacingAndGlyphs">PAX5 &amp; CD19 correlation in MCL tumor B cells</text>
<text x="76.60" y="193.90" font-size="8.2" text-anchor="middle" fill="#222" stroke="#222" stroke-width="0.22" textLength="25.7" lengthAdjust="spacingAndGlyphs">BTKi−S</text>
<line x1="39.60" y1="198.80" x2="39.60" y2="303.70" stroke="#1a1a1a" stroke-width="1.2"/>
<line x1="39.00" y1="303.10" x2="113.80" y2="303.10" stroke="#1a1a1a" stroke-width="1.2"/>
<line x1="37.00" y1="218.30" x2="39.60" y2="218.30" stroke="#1a1a1a" stroke-width="0.9"/>
<text x="34.60" y="220.40" font-size="5.9" text-anchor="end" fill="#444" stroke="#444" stroke-width="0.22">2</text>
<line x1="37.00" y1="239.80" x2="39.60" y2="239.80" stroke="#1a1a1a" stroke-width="0.9"/>
<text x="34.60" y="241.90" font-size="5.9" text-anchor="end" fill="#444" stroke="#444" stroke-width="0.22">1</text>
<line x1="37.00" y1="261.30" x2="39.60" y2="261.30" stroke="#1a1a1a" stroke-width="0.9"/>
<text x="34.60" y="263.40" font-size="5.9" text-anchor="end" fill="#444" stroke="#444" stroke-width="0.22">0</text>
<line x1="37.00" y1="282.60" x2="39.60" y2="282.60" stroke="#1a1a1a" stroke-width="0.9"/>
<text x="34.60" y="284.70" font-size="5.9" text-anchor="end" fill="#444" stroke="#444" stroke-width="0.22">−1</text>
<line x1="52.30" y1="303.10" x2="52.30" y2="305.70" stroke="#1a1a1a" stroke-width="0.9"/>
<text x="52.30" y="313.50" font-size="5.9" text-anchor="middle" fill="#444" stroke="#444" stroke-width="0.22">−1</text>
<line x1="67.60" y1="303.10" x2="67.60" y2="305.70" stroke="#1a1a1a" stroke-width="0.9"/>
<text x="67.60" y="313.50" font-size="5.9" text-anchor="middle" fill="#444" stroke="#444" stroke-width="0.22">0</text>
<line x1="83.00" y1="303.10" x2="83.00" y2="305.70" stroke="#1a1a1a" stroke-width="0.9"/>
<text x="83.00" y="313.50" font-size="5.9" text-anchor="middle" fill="#444" stroke="#444" stroke-width="0.22">1</text>
<line x1="98.70" y1="303.10" x2="98.70" y2="305.70" stroke="#1a1a1a" stroke-width="0.9"/>
<text x="98.70" y="313.50" font-size="5.9" text-anchor="middle" fill="#444" stroke="#444" stroke-width="0.22">2</text>
<path d="M92.00,239.50 L100.00,232.00 L106.00,222.00 L110.70,204.50 L110.70,244.00 L106.00,243.60 L100.00,243.00 L92.00,241.00 Z" fill="#e0e0e0" stroke="none" stroke-width="1" opacity="0.85"/>
<circle cx="61.80" cy="215.50" r="1.2" fill="#c9143e"/>
<circle cx="85.50" cy="222.50" r="1.2" fill="#c9143e"/>
<circle cx="81.40" cy="228.60" r="1.2" fill="#c9143e"/>
<circle cx="82.30" cy="230.70" r="1.2" fill="#c9143e"/>
<circle cx="65.00" cy="231.40" r="1.2" fill="#c9143e"/>
<circle cx="67.20" cy="232.40" r="1.2" fill="#c9143e"/>
<circle cx="71.60" cy="232.70" r="1.2" fill="#c9143e"/>
<circle cx="66.70" cy="234.30" r="1.2" fill="#c9143e"/>
<circle cx="87.20" cy="235.20" r="1.2" fill="#c9143e"/>
<circle cx="67.50" cy="239.30" r="1.2" fill="#c9143e"/>
<circle cx="74.90" cy="240.10" r="1.2" fill="#c9143e"/>
<circle cx="66.70" cy="241.70" r="1.2" fill="#c9143e"/>
<circle cx="59.30" cy="243.90" r="1.2" fill="#c9143e"/>
<circle cx="73.20" cy="243.40" r="1.2" fill="#c9143e"/>
<circle cx="83.10" cy="242.50" r="1.2" fill="#c9143e"/>
<circle cx="62.60" cy="247.10" r="1.2" fill="#c9143e"/>
<circle cx="67.50" cy="245.80" r="1.2" fill="#c9143e"/>
<circle cx="70.80" cy="248.30" r="1.2" fill="#c9143e"/>
<circle cx="78.20" cy="249.10" r="1.2" fill="#c9143e"/>
<circle cx="56.00" cy="251.60" r="1.2" fill="#c9143e"/>
<circle cx="60.10" cy="251.60" r="1.2" fill="#c9143e"/>
<circle cx="61.80" cy="253.20" r="1.2" fill="#c9143e"/>
<circle cx="70.00" cy="251.60" r="1.2" fill="#c9143e"/>
<circle cx="77.30" cy="252.40" r="1.2" fill="#c9143e"/>
<circle cx="88.80" cy="252.40" r="1.2" fill="#c9143e"/>
<circle cx="55.20" cy="254.30" r="1.2" fill="#c9143e"/>
<circle cx="67.50" cy="255.70" r="1.2" fill="#c9143e"/>
<circle cx="70.80" cy="258.90" r="1.2" fill="#c9143e"/>
<circle cx="58.50" cy="258.10" r="1.2" fill="#c9143e"/>
<circle cx="58.50" cy="260.60" r="1.2" fill="#c9143e"/>
<circle cx="52.80" cy="263.00" r="1.2" fill="#c9143e"/>
<circle cx="67.50" cy="263.90" r="1.2" fill="#c9143e"/>
<circle cx="67.50" cy="267.10" r="1.2" fill="#c9143e"/>
<circle cx="72.40" cy="263.90" r="1.2" fill="#c9143e"/>
<circle cx="77.30" cy="263.90" r="1.2" fill="#c9143e"/>
<circle cx="80.60" cy="260.60" r="1.2" fill="#c9143e"/>
<circle cx="82.30" cy="262.20" r="1.2" fill="#c9143e"/>
<circle cx="47.00" cy="269.60" r="1.2" fill="#c9143e"/>
<circle cx="51.90" cy="268.80" r="1.2" fill="#c9143e"/>
<circle cx="62.60" cy="272.00" r="1.2" fill="#c9143e"/>
<circle cx="70.00" cy="271.20" r="1.2" fill="#c9143e"/>
<circle cx="72.40" cy="275.30" r="1.2" fill="#c9143e"/>
<circle cx="75.70" cy="275.30" r="1.2" fill="#c9143e"/>
<circle cx="76.50" cy="269.60" r="1.2" fill="#c9143e"/>
<circle cx="78.20" cy="267.10" r="1.2" fill="#c9143e"/>
<circle cx="46.20" cy="275.30" r="1.2" fill="#c9143e"/>
<circle cx="60.10" cy="277.80" r="1.2" fill="#c9143e"/>
<circle cx="49.50" cy="283.50" r="1.2" fill="#c9143e"/>
<circle cx="57.70" cy="281.90" r="1.2" fill="#c9143e"/>
<circle cx="42.90" cy="288.40" r="1.2" fill="#c9143e"/>
<circle cx="46.20" cy="289.80" r="1.2" fill="#c9143e"/>
<circle cx="69.00" cy="269.00" r="1.2" fill="#c9143e"/>
<circle cx="71.00" cy="273.00" r="1.2" fill="#c9143e"/>
<circle cx="73.50" cy="275.50" r="1.2" fill="#c9143e"/>
<circle cx="64.00" cy="262.00" r="1.2" fill="#c9143e"/>
<circle cx="63.00" cy="258.00" r="1.2" fill="#c9143e"/>
<circle cx="69.00" cy="244.00" r="1.2" fill="#c9143e"/>
<circle cx="66.00" cy="237.00" r="1.2" fill="#c9143e"/>
<circle cx="73.00" cy="238.00" r="1.2" fill="#c9143e"/>
<circle cx="79.00" cy="245.00" r="1.2" fill="#c9143e"/>
<circle cx="84.00" cy="238.00" r="1.2" fill="#c9143e"/>
<circle cx="57.00" cy="266.00" r="1.2" fill="#c9143e"/>
<circle cx="54.00" cy="258.00" r="1.2" fill="#c9143e"/>
<circle cx="62.00" cy="265.00" r="1.2" fill="#c9143e"/>
<circle cx="75.00" cy="258.00" r="1.2" fill="#c9143e"/>
<circle cx="64.00" cy="255.00" r="1.2" fill="#c9143e"/>
<circle cx="68.00" cy="250.00" r="1.2" fill="#c9143e"/>
<path d="M42.8,287.5 C50,276 57,265 62.5,256.5 C64.5,253.8 66,253.1 68,253.3 C70.5,253.6 73,255.2 75.5,254.8 C79,254 83,249 88,244.5 C95,238.5 103,231 110.7,224" fill="none" stroke="#e3123e" stroke-width="1.1" stroke-linecap="round"/>
<circle cx="51.80" cy="279.90" r="1.15" fill="#c8123a"/>
<circle cx="53.24" cy="277.50" r="1.15" fill="#c8123a"/>
<circle cx="54.68" cy="275.10" r="1.15" fill="#c8123a"/>
<circle cx="56.12" cy="272.70" r="1.15" fill="#c8123a"/>
<circle cx="57.55" cy="270.30" r="1.15" fill="#c8123a"/>
<circle cx="58.99" cy="267.90" r="1.15" fill="#c8123a"/>
<circle cx="60.43" cy="265.50" r="1.15" fill="#c8123a"/>
<circle cx="61.87" cy="263.10" r="1.15" fill="#c8123a"/>
<circle cx="63.31" cy="260.70" r="1.15" fill="#c8123a"/>
<circle cx="64.75" cy="258.30" r="1.15" fill="#c8123a"/>
<circle cx="66.18" cy="255.90" r="1.15" fill="#c8123a"/>
<circle cx="67.62" cy="253.50" r="1.15" fill="#c8123a"/>
<circle cx="69.06" cy="251.10" r="1.15" fill="#c8123a"/>
<circle cx="70.50" cy="248.70" r="1.15" fill="#c8123a"/>
<text x="43.00" y="208.10" font-size="6.3" text-anchor="start" fill="#e0406a" stroke="#e0406a" stroke-width="0.05">R = 0.62, <tspan font-style="italic">P</tspan> = 5.9e−15</text>
<text x="20.70" y="250.50" font-size="8" text-anchor="middle" fill="#222" font-weight="bold" textLength="12.8" lengthAdjust="spacingAndGlyphs" transform="rotate(-90 20.70 250.50)">PAX5</text>
<text x="171.30" y="194.30" font-size="8.2" text-anchor="middle" fill="#222" stroke="#222" stroke-width="0.22" textLength="26.2" lengthAdjust="spacingAndGlyphs">BTKi−R</text>
<line x1="135.60" y1="198.80" x2="135.60" y2="303.70" stroke="#1a1a1a" stroke-width="1.2"/>
<line x1="135.00" y1="303.10" x2="210.00" y2="303.10" stroke="#1a1a1a" stroke-width="1.2"/>
<line x1="133.00" y1="224.50" x2="135.60" y2="224.50" stroke="#1a1a1a" stroke-width="0.9"/>
<text x="130.30" y="226.60" font-size="5.9" text-anchor="end" fill="#444" stroke="#444" stroke-width="0.22">1</text>
<line x1="133.00" y1="251.80" x2="135.60" y2="251.80" stroke="#1a1a1a" stroke-width="0.9"/>
<text x="130.30" y="253.90" font-size="5.9" text-anchor="end" fill="#444" stroke="#444" stroke-width="0.22">0</text>
<line x1="133.00" y1="278.80" x2="135.60" y2="278.80" stroke="#1a1a1a" stroke-width="0.9"/>
<text x="130.30" y="280.90" font-size="5.9" text-anchor="end" fill="#444" stroke="#444" stroke-width="0.22">−1</text>
<line x1="148.00" y1="303.10" x2="148.00" y2="305.70" stroke="#1a1a1a" stroke-width="0.9"/>
<text x="148.00" y="313.50" font-size="5.9" text-anchor="middle" fill="#444" stroke="#444" stroke-width="0.22">−1</text>
<line x1="163.80" y1="303.10" x2="163.80" y2="305.70" stroke="#1a1a1a" stroke-width="0.9"/>
<text x="163.80" y="313.50" font-size="5.9" text-anchor="middle" fill="#444" stroke="#444" stroke-width="0.22">0</text>
<line x1="179.30" y1="303.10" x2="179.30" y2="305.70" stroke="#1a1a1a" stroke-width="0.9"/>
<text x="179.30" y="313.50" font-size="5.9" text-anchor="middle" fill="#444" stroke="#444" stroke-width="0.22">1</text>
<line x1="194.60" y1="303.10" x2="194.60" y2="305.70" stroke="#1a1a1a" stroke-width="0.9"/>
<text x="194.60" y="313.50" font-size="5.9" text-anchor="middle" fill="#444" stroke="#444" stroke-width="0.22">2</text>
<path d="M183.00,243.00 L190.00,236.00 L195.00,226.00 L199.60,212.20 L199.60,246.60 L195.00,247.00 L190.00,248.00 L183.00,249.00 Z" fill="#dcdcdc" stroke="none" stroke-width="1" opacity="0.7"/>
<circle cx="199.60" cy="202.40" r="1.05" fill="#666"/>
<circle cx="196.20" cy="261.90" r="1.05" fill="#556"/>
<circle cx="141.70" cy="298.40" r="1.05" fill="#3a8fb0"/>
<circle cx="150.60" cy="231.50" r="1.0" fill="#557"/>
<circle cx="156.30" cy="235.30" r="1.0" fill="#557"/>
<circle cx="141.01" cy="273.41" r="1.2" fill="#1bb0e0"/>
<circle cx="146.12" cy="276.44" r="1.2" fill="#1bb0e0"/>
<circle cx="146.34" cy="269.09" r="1.2" fill="#1bb0e0"/>
<circle cx="140.55" cy="284.12" r="1.2" fill="#1bb0e0"/>
<circle cx="146.22" cy="282.42" r="1.2" fill="#1bb0e0"/>
<circle cx="145.45" cy="279.88" r="1.2" fill="#1bb0e0"/>
<circle cx="140.96" cy="290.23" r="1.2" fill="#1bb0e0"/>
<circle cx="151.18" cy="272.23" r="1.2" fill="#1bb0e0"/>
<circle cx="145.20" cy="282.06" r="1.2" fill="#1bb0e0"/>
<circle cx="145.31" cy="279.69" r="1.2" fill="#1bb0e0"/>
<circle cx="147.84" cy="269.28" r="1.2" fill="#1bb0e0"/>
<circle cx="149.99" cy="282.73" r="1.2" fill="#1bb0e0"/>
<circle cx="143.12" cy="278.91" r="1.2" fill="#1bb0e0"/>
<circle cx="146.63" cy="278.46" r="1.2" fill="#1bb0e0"/>
<circle cx="147.19" cy="271.15" r="1.2" fill="#1bb0e0"/>
<circle cx="147.25" cy="282.41" r="1.2" fill="#1bb0e0"/>
<circle cx="148.55" cy="282.58" r="1.2" fill="#1bb0e0"/>
<circle cx="144.74" cy="280.79" r="1.2" fill="#1bb0e0"/>
<circle cx="150.85" cy="280.44" r="1.2" fill="#1bb0e0"/>
<circle cx="147.88" cy="280.36" r="1.2" fill="#1bb0e0"/>
<circle cx="149.13" cy="272.55" r="1.2" fill="#1bb0e0"/>
<circle cx="146.77" cy="284.93" r="1.2" fill="#1bb0e0"/>
<circle cx="143.41" cy="283.28" r="1.2" fill="#1bb0e0"/>
<circle cx="145.17" cy="277.54" r="1.2" fill="#1bb0e0"/>
<circle cx="142.52" cy="274.73" r="1.2" fill="#1bb0e0"/>
<circle cx="151.69" cy="271.55" r="1.2" fill="#1bb0e0"/>
<circle cx="147.57" cy="272.09" r="1.2" fill="#1bb0e0"/>
<circle cx="155.07" cy="284.08" r="1.2" fill="#1bb0e0"/>
<circle cx="153.25" cy="261.18" r="1.2" fill="#1bb0e0"/>
<circle cx="156.35" cy="272.62" r="1.2" fill="#1bb0e0"/>
<circle cx="167.97" cy="281.27" r="1.2" fill="#1bb0e0"/>
<circle cx="152.13" cy="271.83" r="1.2" fill="#1bb0e0"/>
<circle cx="163.54" cy="264.49" r="1.2" fill="#1bb0e0"/>
<circle cx="155.16" cy="277.16" r="1.2" fill="#1bb0e0"/>
<circle cx="149.72" cy="270.29" r="1.2" fill="#1bb0e0"/>
<circle cx="157.57" cy="267.76" r="1.2" fill="#1bb0e0"/>
<circle cx="158.14" cy="257.39" r="1.2" fill="#1bb0e0"/>
<circle cx="162.92" cy="266.48" r="1.2" fill="#1bb0e0"/>
<circle cx="169.73" cy="285.35" r="1.2" fill="#1bb0e0"/>
<circle cx="155.23" cy="285.00" r="1.2" fill="#1bb0e0"/>
<circle cx="166.49" cy="263.75" r="1.2" fill="#1bb0e0"/>
<circle cx="156.45" cy="279.34" r="1.2" fill="#1bb0e0"/>
<circle cx="153.65" cy="267.31" r="1.2" fill="#1bb0e0"/>
<circle cx="142.95" cy="259.06" r="1.2" fill="#1bb0e0"/>
<circle cx="151.00" cy="264.48" r="1.2" fill="#1bb0e0"/>
<circle cx="153.65" cy="272.00" r="1.2" fill="#1bb0e0"/>
<circle cx="159.52" cy="267.15" r="1.2" fill="#1bb0e0"/>
<circle cx="149.82" cy="271.88" r="1.2" fill="#1bb0e0"/>
<circle cx="161.68" cy="269.60" r="1.2" fill="#1bb0e0"/>
<circle cx="166.23" cy="266.48" r="1.2" fill="#1bb0e0"/>
<circle cx="163.04" cy="272.10" r="1.2" fill="#1bb0e0"/>
<circle cx="165.90" cy="282.61" r="1.2" fill="#1bb0e0"/>
<circle cx="151.03" cy="255.98" r="1.2" fill="#1bb0e0"/>
<circle cx="164.17" cy="272.46" r="1.2" fill="#1bb0e0"/>
<circle cx="160.06" cy="266.58" r="1.2" fill="#1bb0e0"/>
<circle cx="153.52" cy="279.33" r="1.2" fill="#1bb0e0"/>
<circle cx="160.82" cy="265.83" r="1.2" fill="#1bb0e0"/>
<circle cx="158.28" cy="272.29" r="1.2" fill="#1bb0e0"/>
<circle cx="150.18" cy="265.12" r="1.2" fill="#1bb0e0"/>
<circle cx="161.04" cy="271.12" r="1.2" fill="#1bb0e0"/>
<circle cx="149.76" cy="272.42" r="1.2" fill="#1bb0e0"/>
<circle cx="169.90" cy="274.79" r="1.2" fill="#1bb0e0"/>
<circle cx="150.11" cy="266.44" r="1.2" fill="#1bb0e0"/>
<circle cx="154.30" cy="263.98" r="1.2" fill="#1bb0e0"/>
<circle cx="153.06" cy="265.52" r="1.2" fill="#1bb0e0"/>
<circle cx="157.47" cy="260.42" r="1.2" fill="#1bb0e0"/>
<circle cx="163.51" cy="272.54" r="1.2" fill="#1bb0e0"/>
<circle cx="169.65" cy="276.51" r="1.2" fill="#1bb0e0"/>
<circle cx="163.74" cy="274.03" r="1.2" fill="#1bb0e0"/>
<circle cx="157.35" cy="261.73" r="1.2" fill="#1bb0e0"/>
<circle cx="161.99" cy="270.79" r="1.2" fill="#1bb0e0"/>
<circle cx="154.11" cy="273.19" r="1.2" fill="#1bb0e0"/>
<circle cx="159.97" cy="265.05" r="1.2" fill="#1bb0e0"/>
<circle cx="176.56" cy="247.76" r="1.2" fill="#1bb0e0"/>
<circle cx="166.02" cy="258.26" r="1.2" fill="#1bb0e0"/>
<circle cx="160.86" cy="248.93" r="1.2" fill="#1bb0e0"/>
<circle cx="168.64" cy="248.82" r="1.2" fill="#1bb0e0"/>
<circle cx="161.01" cy="243.43" r="1.2" fill="#1bb0e0"/>
<circle cx="166.84" cy="248.47" r="1.2" fill="#1bb0e0"/>
<circle cx="171.60" cy="257.90" r="1.2" fill="#1bb0e0"/>
<circle cx="164.85" cy="256.29" r="1.2" fill="#1bb0e0"/>
<circle cx="159.41" cy="261.89" r="1.2" fill="#1bb0e0"/>
<circle cx="160.61" cy="250.20" r="1.2" fill="#1bb0e0"/>
<circle cx="162.08" cy="247.72" r="1.2" fill="#1bb0e0"/>
<circle cx="171.35" cy="251.05" r="1.2" fill="#1bb0e0"/>
<circle cx="157.97" cy="256.28" r="1.2" fill="#1bb0e0"/>
<circle cx="165.32" cy="254.96" r="1.2" fill="#1bb0e0"/>
<circle cx="166.71" cy="247.99" r="1.2" fill="#1bb0e0"/>
<circle cx="150.67" cy="249.06" r="1.2" fill="#1bb0e0"/>
<circle cx="157.97" cy="259.25" r="1.2" fill="#1bb0e0"/>
<circle cx="163.30" cy="261.03" r="1.2" fill="#1bb0e0"/>
<circle cx="183.31" cy="258.94" r="1.2" fill="#1bb0e0"/>
<circle cx="184.00" cy="244.81" r="1.2" fill="#1bb0e0"/>
<circle cx="161.05" cy="244.07" r="1.2" fill="#1bb0e0"/>
<circle cx="154.36" cy="242.42" r="1.2" fill="#1bb0e0"/>
<circle cx="172.11" cy="245.72" r="1.2" fill="#1bb0e0"/>
<circle cx="162.42" cy="254.97" r="1.2" fill="#1bb0e0"/>
<circle cx="161.76" cy="261.55" r="1.2" fill="#1bb0e0"/>
<circle cx="174.49" cy="255.92" r="1.2" fill="#1bb0e0"/>
<circle cx="178.28" cy="254.69" r="1.2" fill="#1bb0e0"/>
<circle cx="166.53" cy="258.52" r="1.2" fill="#1bb0e0"/>
<circle cx="173.33" cy="242.00" r="1.2" fill="#1bb0e0"/>
<circle cx="173.83" cy="257.98" r="1.2" fill="#1bb0e0"/>
<circle cx="147.11" cy="264.87" r="1.2" fill="#1bb0e0"/>
<circle cx="166.33" cy="260.62" r="1.2" fill="#1bb0e0"/>
<circle cx="155.72" cy="252.54" r="1.2" fill="#1bb0e0"/>
<circle cx="159.54" cy="245.50" r="1.2" fill="#1bb0e0"/>
<circle cx="167.22" cy="241.40" r="1.2" fill="#1bb0e0"/>
<circle cx="164.85" cy="255.79" r="1.2" fill="#1bb0e0"/>
<circle cx="159.10" cy="243.81" r="1.2" fill="#1bb0e0"/>
<circle cx="169.51" cy="257.30" r="1.2" fill="#1bb0e0"/>
<circle cx="172.30" cy="247.53" r="1.2" fill="#1bb0e0"/>
<circle cx="161.84" cy="260.36" r="1.2" fill="#1bb0e0"/>
<circle cx="172.01" cy="253.35" r="1.2" fill="#1bb0e0"/>
<circle cx="166.88" cy="250.07" r="1.2" fill="#1bb0e0"/>
<circle cx="169.89" cy="255.89" r="1.2" fill="#1bb0e0"/>
<circle cx="165.41" cy="252.97" r="1.2" fill="#1bb0e0"/>
<circle cx="154.06" cy="250.22" r="1.2" fill="#1bb0e0"/>
<circle cx="186.23" cy="233.17" r="1.2" fill="#1bb0e0"/>
<circle cx="159.85" cy="229.90" r="1.2" fill="#1bb0e0"/>
<circle cx="172.86" cy="239.05" r="1.2" fill="#1bb0e0"/>
<circle cx="191.13" cy="231.94" r="1.2" fill="#1bb0e0"/>
<circle cx="170.71" cy="232.75" r="1.2" fill="#1bb0e0"/>
<circle cx="162.20" cy="238.46" r="1.2" fill="#1bb0e0"/>
<circle cx="161.39" cy="235.63" r="1.2" fill="#1bb0e0"/>
<circle cx="167.99" cy="227.15" r="1.2" fill="#1bb0e0"/>
<circle cx="175.00" cy="240.15" r="1.2" fill="#1bb0e0"/>
<circle cx="161.26" cy="233.17" r="1.2" fill="#1bb0e0"/>
<circle cx="165.88" cy="237.27" r="1.2" fill="#1bb0e0"/>
<circle cx="158.94" cy="226.02" r="1.2" fill="#1bb0e0"/>
<circle cx="168.63" cy="225.94" r="1.2" fill="#1bb0e0"/>
<circle cx="180.78" cy="225.00" r="1.2" fill="#1bb0e0"/>
<circle cx="172.61" cy="229.76" r="1.2" fill="#1bb0e0"/>
<circle cx="180.85" cy="229.60" r="1.2" fill="#1bb0e0"/>
<circle cx="170.33" cy="240.24" r="1.2" fill="#1bb0e0"/>
<circle cx="177.81" cy="238.16" r="1.2" fill="#1bb0e0"/>
<circle cx="184.71" cy="234.53" r="1.2" fill="#1bb0e0"/>
<circle cx="174.83" cy="224.10" r="1.2" fill="#1bb0e0"/>
<circle cx="156.68" cy="230.18" r="1.2" fill="#1bb0e0"/>
<circle cx="174.61" cy="237.48" r="1.2" fill="#1bb0e0"/>
<circle cx="165.18" cy="230.58" r="1.2" fill="#1bb0e0"/>
<circle cx="190.57" cy="226.80" r="1.2" fill="#1bb0e0"/>
<circle cx="181.10" cy="247.56" r="1.2" fill="#1bb0e0"/>
<circle cx="178.57" cy="256.78" r="1.2" fill="#1bb0e0"/>
<circle cx="174.14" cy="246.49" r="1.2" fill="#1bb0e0"/>
<circle cx="173.72" cy="244.12" r="1.2" fill="#1bb0e0"/>
<circle cx="189.71" cy="236.63" r="1.2" fill="#1bb0e0"/>
<circle cx="173.73" cy="248.23" r="1.2" fill="#1bb0e0"/>
<circle cx="183.80" cy="243.96" r="1.2" fill="#1bb0e0"/>
<circle cx="184.19" cy="247.04" r="1.2" fill="#1bb0e0"/>
<circle cx="180.09" cy="248.71" r="1.2" fill="#1bb0e0"/>
<circle cx="188.08" cy="241.40" r="1.2" fill="#1bb0e0"/>
<circle cx="141.05" cy="284.84" r="1.2" fill="#1bb0e0"/>
<circle cx="143.74" cy="282.12" r="1.2" fill="#1bb0e0"/>
<circle cx="145.25" cy="279.61" r="1.2" fill="#1bb0e0"/>
<circle cx="147.49" cy="277.20" r="1.2" fill="#1bb0e0"/>
<circle cx="149.38" cy="274.39" r="1.2" fill="#1bb0e0"/>
<circle cx="152.08" cy="271.55" r="1.2" fill="#1bb0e0"/>
<circle cx="153.40" cy="269.11" r="1.2" fill="#1bb0e0"/>
<circle cx="155.73" cy="266.94" r="1.2" fill="#1bb0e0"/>
<circle cx="157.75" cy="264.65" r="1.2" fill="#1bb0e0"/>
<circle cx="159.78" cy="261.21" r="1.2" fill="#1bb0e0"/>
<circle cx="161.45" cy="259.10" r="1.2" fill="#1bb0e0"/>
<circle cx="163.46" cy="256.66" r="1.2" fill="#1bb0e0"/>
<circle cx="166.11" cy="253.55" r="1.2" fill="#1bb0e0"/>
<circle cx="168.40" cy="251.67" r="1.2" fill="#1bb0e0"/>
<circle cx="169.82" cy="248.25" r="1.2" fill="#1bb0e0"/>
<circle cx="171.97" cy="245.79" r="1.2" fill="#1bb0e0"/>
<circle cx="150.32" cy="279.63" r="1.2" fill="#1bb0e0"/>
<circle cx="152.24" cy="277.16" r="1.2" fill="#1bb0e0"/>
<circle cx="154.82" cy="274.40" r="1.2" fill="#1bb0e0"/>
<circle cx="156.37" cy="271.27" r="1.2" fill="#1bb0e0"/>
<circle cx="158.93" cy="268.88" r="1.2" fill="#1bb0e0"/>
<circle cx="161.16" cy="266.48" r="1.2" fill="#1bb0e0"/>
<circle cx="163.35" cy="263.53" r="1.2" fill="#1bb0e0"/>
<circle cx="165.36" cy="260.26" r="1.2" fill="#1bb0e0"/>
<circle cx="167.92" cy="258.19" r="1.2" fill="#1bb0e0"/>
<circle cx="182.40" cy="280.20" r="1.2" fill="#1bb0e0"/>
<circle cx="183.50" cy="281.50" r="1.2" fill="#1bb0e0"/>
<circle cx="174.00" cy="224.00" r="1.2" fill="#1bb0e0"/>
<circle cx="166.00" cy="224.00" r="1.2" fill="#1bb0e0"/>
<circle cx="183.00" cy="225.50" r="1.2" fill="#1bb0e0"/>
<circle cx="190.00" cy="229.00" r="1.2" fill="#1bb0e0"/>
<circle cx="187.00" cy="240.00" r="1.2" fill="#1bb0e0"/>
<path d="M141.4,283.5 C150,270 163,252 175,248.3 C185,245 193,238 199.6,227.8" fill="none" stroke="#1bb0e0" stroke-width="1.1" stroke-linecap="round"/>
<text x="138.80" y="209.60" font-size="6.3" text-anchor="start" fill="#3ab8e4" stroke="#3ab8e4" stroke-width="0.05" textLength="60" lengthAdjust="spacingAndGlyphs">R = 0.55, <tspan font-style="italic">P</tspan> &lt; 2.2e−16</text>
<text x="124.50" y="325.80" font-size="8.3" text-anchor="middle" fill="#222" font-weight="bold" textLength="15.3" lengthAdjust="spacingAndGlyphs">SOX11</text>
<text x="213.10" y="243.20" font-size="6.1" text-anchor="start" fill="#333" stroke="#333" stroke-width="0.1" textLength="43.2" lengthAdjust="spacingAndGlyphs">Clinical outcome</text>
<rect x="213.10" y="247.80" width="8.10" height="7.00" fill="#f2e2e6"/>
<line x1="213.10" y1="251.30" x2="221.20" y2="251.30" stroke="#b8143e" stroke-width="1"/>
<circle cx="217.15" cy="251.30" r="0.9" fill="#b8143e"/>
<text x="224.00" y="253.40" font-size="6.1" text-anchor="start" fill="#333" stroke="#333" stroke-width="0.12" textLength="20.8" lengthAdjust="spacingAndGlyphs">BTKi−S</text>
<rect x="213.10" y="256.30" width="8.10" height="7.00" fill="#dcf0f6"/>
<line x1="213.10" y1="259.80" x2="221.20" y2="259.80" stroke="#2595bd" stroke-width="1"/>
<circle cx="217.15" cy="259.80" r="0.9" fill="#2595bd"/>
<text x="224.00" y="261.90" font-size="6.1" text-anchor="start" fill="#333" stroke="#333" stroke-width="0.12" textLength="20.8" lengthAdjust="spacingAndGlyphs">BTKi−R</text>
<text x="333.50" y="194.00" font-size="8.2" text-anchor="middle" fill="#222" stroke="#222" stroke-width="0.22" textLength="25.7" lengthAdjust="spacingAndGlyphs">BTKi−S</text>
<line x1="297.10" y1="198.80" x2="297.10" y2="303.70" stroke="#1a1a1a" stroke-width="1.2"/>
<line x1="296.50" y1="303.10" x2="370.50" y2="303.10" stroke="#1a1a1a" stroke-width="1.2"/>
<line x1="294.50" y1="207.50" x2="297.10" y2="207.50" stroke="#1a1a1a" stroke-width="0.9"/>
<text x="291.60" y="209.60" font-size="5.9" text-anchor="end" fill="#444" stroke="#444" stroke-width="0.22">2</text>
<line x1="294.50" y1="227.50" x2="297.10" y2="227.50" stroke="#1a1a1a" stroke-width="0.9"/>
<text x="291.60" y="229.60" font-size="5.9" text-anchor="end" fill="#444" stroke="#444" stroke-width="0.22">1</text>
<line x1="294.50" y1="248.00" x2="297.10" y2="248.00" stroke="#1a1a1a" stroke-width="0.9"/>
<text x="291.60" y="250.10" font-size="5.9" text-anchor="end" fill="#444" stroke="#444" stroke-width="0.22">0</text>
<line x1="294.50" y1="268.30" x2="297.10" y2="268.30" stroke="#1a1a1a" stroke-width="0.9"/>
<text x="291.60" y="270.40" font-size="5.9" text-anchor="end" fill="#444" stroke="#444" stroke-width="0.22">−1</text>
<line x1="294.50" y1="288.80" x2="297.10" y2="288.80" stroke="#1a1a1a" stroke-width="0.9"/>
<text x="291.60" y="290.90" font-size="5.9" text-anchor="end" fill="#444" stroke="#444" stroke-width="0.22">−2</text>
<line x1="312.50" y1="303.10" x2="312.50" y2="305.70" stroke="#1a1a1a" stroke-width="0.9"/>
<text x="312.50" y="313.50" font-size="5.9" text-anchor="middle" fill="#444" stroke="#444" stroke-width="0.22">−1</text>
<line x1="328.00" y1="303.10" x2="328.00" y2="305.70" stroke="#1a1a1a" stroke-width="0.9"/>
<text x="328.00" y="313.50" font-size="5.9" text-anchor="middle" fill="#444" stroke="#444" stroke-width="0.22">0</text>
<line x1="343.30" y1="303.10" x2="343.30" y2="305.70" stroke="#1a1a1a" stroke-width="0.9"/>
<text x="343.30" y="313.50" font-size="5.9" text-anchor="middle" fill="#444" stroke="#444" stroke-width="0.22">1</text>
<line x1="358.80" y1="303.10" x2="358.80" y2="305.70" stroke="#1a1a1a" stroke-width="0.9"/>
<text x="358.80" y="313.50" font-size="5.9" text-anchor="middle" fill="#444" stroke="#444" stroke-width="0.22">2</text>
<path d="M297.50,268.00 L303.00,266.00 L306.00,265.00 L306.00,278.00 L303.00,282.00 L297.50,290.00 Z" fill="#dcdcdc" stroke="none" stroke-width="1" opacity="0.6"/>
<path d="M355.00,226.00 L361.00,219.00 L367.00,211.40 L367.00,234.30 L361.00,232.00 L355.00,229.00 Z" fill="#dcdcdc" stroke="none" stroke-width="1" opacity="0.6"/>
<circle cx="322.61" cy="259.23" r="1.2" fill="#c9143e"/>
<circle cx="311.21" cy="271.74" r="1.2" fill="#c9143e"/>
<circle cx="317.71" cy="263.78" r="1.2" fill="#c9143e"/>
<circle cx="318.92" cy="270.26" r="1.2" fill="#c9143e"/>
<circle cx="331.08" cy="208.78" r="1.2" fill="#c9143e"/>
<circle cx="354.99" cy="226.05" r="1.2" fill="#c9143e"/>
<circle cx="325.37" cy="250.43" r="1.2" fill="#c9143e"/>
<circle cx="313.04" cy="229.04" r="1.2" fill="#c9143e"/>
<circle cx="323.98" cy="238.59" r="1.2" fill="#c9143e"/>
<circle cx="326.31" cy="235.26" r="1.2" fill="#c9143e"/>
<circle cx="339.87" cy="243.73" r="1.2" fill="#c9143e"/>
<circle cx="313.22" cy="241.11" r="1.2" fill="#c9143e"/>
<circle cx="326.82" cy="237.05" r="1.2" fill="#c9143e"/>
<circle cx="320.82" cy="272.21" r="1.2" fill="#c9143e"/>
<circle cx="325.44" cy="238.05" r="1.2" fill="#c9143e"/>
<circle cx="338.03" cy="232.80" r="1.2" fill="#c9143e"/>
<circle cx="355.79" cy="226.81" r="1.2" fill="#c9143e"/>
<circle cx="339.50" cy="264.29" r="1.2" fill="#c9143e"/>
<circle cx="313.20" cy="246.38" r="1.2" fill="#c9143e"/>
<circle cx="316.32" cy="213.14" r="1.2" fill="#c9143e"/>
<circle cx="324.90" cy="217.21" r="1.2" fill="#c9143e"/>
<circle cx="300.45" cy="275.59" r="1.2" fill="#c9143e"/>
<circle cx="344.97" cy="251.64" r="1.2" fill="#c9143e"/>
<circle cx="325.46" cy="263.92" r="1.2" fill="#c9143e"/>
<circle cx="345.33" cy="243.30" r="1.2" fill="#c9143e"/>
<circle cx="321.33" cy="269.59" r="1.2" fill="#c9143e"/>
<circle cx="306.48" cy="273.79" r="1.2" fill="#c9143e"/>
<circle cx="341.05" cy="245.38" r="1.2" fill="#c9143e"/>
<circle cx="316.91" cy="259.46" r="1.2" fill="#c9143e"/>
<circle cx="315.35" cy="267.65" r="1.2" fill="#c9143e"/>
<circle cx="318.22" cy="275.62" r="1.2" fill="#c9143e"/>
<circle cx="327.66" cy="234.09" r="1.2" fill="#c9143e"/>
<circle cx="343.48" cy="241.89" r="1.2" fill="#c9143e"/>
<circle cx="341.70" cy="228.16" r="1.2" fill="#c9143e"/>
<circle cx="335.43" cy="228.68" r="1.2" fill="#c9143e"/>
<circle cx="331.35" cy="235.71" r="1.2" fill="#c9143e"/>
<circle cx="338.43" cy="213.69" r="1.2" fill="#c9143e"/>
<circle cx="327.84" cy="233.25" r="1.2" fill="#c9143e"/>
<circle cx="315.13" cy="274.03" r="1.2" fill="#c9143e"/>
<circle cx="339.79" cy="236.24" r="1.2" fill="#c9143e"/>
<circle cx="318.74" cy="255.65" r="1.2" fill="#c9143e"/>
<circle cx="335.46" cy="263.25" r="1.2" fill="#c9143e"/>
<circle cx="327.21" cy="257.11" r="1.2" fill="#c9143e"/>
<circle cx="336.43" cy="229.68" r="1.2" fill="#c9143e"/>
<circle cx="301.62" cy="275.45" r="1.2" fill="#c9143e"/>
<circle cx="328.21" cy="234.50" r="1.2" fill="#c9143e"/>
<circle cx="302.76" cy="256.99" r="1.2" fill="#c9143e"/>
<circle cx="339.73" cy="216.49" r="1.2" fill="#c9143e"/>
<circle cx="309.32" cy="278.38" r="1.2" fill="#c9143e"/>
<circle cx="315.13" cy="271.58" r="1.2" fill="#c9143e"/>
<circle cx="344.74" cy="216.19" r="1.2" fill="#c9143e"/>
<circle cx="340.30" cy="219.65" r="1.2" fill="#c9143e"/>
<circle cx="328.96" cy="242.05" r="1.2" fill="#c9143e"/>
<circle cx="333.14" cy="247.78" r="1.2" fill="#c9143e"/>
<circle cx="345.89" cy="219.47" r="1.2" fill="#c9143e"/>
<circle cx="315.76" cy="243.25" r="1.2" fill="#c9143e"/>
<circle cx="331.29" cy="238.25" r="1.2" fill="#c9143e"/>
<circle cx="331.25" cy="210.31" r="1.2" fill="#c9143e"/>
<circle cx="325.92" cy="230.09" r="1.2" fill="#c9143e"/>
<circle cx="318.03" cy="239.51" r="1.2" fill="#c9143e"/>
<circle cx="305.92" cy="270.67" r="1.2" fill="#c9143e"/>
<circle cx="331.30" cy="226.89" r="1.2" fill="#c9143e"/>
<circle cx="323.65" cy="256.16" r="1.2" fill="#c9143e"/>
<circle cx="315.21" cy="264.86" r="1.2" fill="#c9143e"/>
<circle cx="332.86" cy="221.60" r="1.2" fill="#c9143e"/>
<circle cx="339.65" cy="245.02" r="1.2" fill="#c9143e"/>
<circle cx="330.95" cy="256.23" r="1.2" fill="#c9143e"/>
<circle cx="325.94" cy="238.19" r="1.2" fill="#c9143e"/>
<circle cx="324.62" cy="259.29" r="1.2" fill="#c9143e"/>
<circle cx="341.35" cy="245.68" r="1.2" fill="#c9143e"/>
<circle cx="323.18" cy="244.64" r="1.2" fill="#c9143e"/>
<circle cx="332.42" cy="228.49" r="1.2" fill="#c9143e"/>
<circle cx="301.06" cy="272.61" r="1.2" fill="#c9143e"/>
<circle cx="339.63" cy="221.23" r="1.2" fill="#c9143e"/>
<circle cx="323.10" cy="260.93" r="1.2" fill="#c9143e"/>
<circle cx="321.81" cy="227.91" r="1.2" fill="#c9143e"/>
<circle cx="318.42" cy="271.17" r="1.2" fill="#c9143e"/>
<circle cx="332.03" cy="225.87" r="1.2" fill="#c9143e"/>
<circle cx="323.39" cy="212.06" r="1.2" fill="#c9143e"/>
<circle cx="317.03" cy="280.54" r="1.2" fill="#c9143e"/>
<circle cx="308.74" cy="240.30" r="1.2" fill="#c9143e"/>
<circle cx="337.63" cy="261.36" r="1.2" fill="#c9143e"/>
<circle cx="336.72" cy="213.76" r="1.2" fill="#c9143e"/>
<circle cx="309.89" cy="277.25" r="1.2" fill="#c9143e"/>
<circle cx="302.42" cy="274.13" r="1.2" fill="#c9143e"/>
<circle cx="347.45" cy="229.25" r="1.2" fill="#c9143e"/>
<circle cx="315.15" cy="237.76" r="1.2" fill="#c9143e"/>
<circle cx="338.44" cy="246.01" r="1.2" fill="#c9143e"/>
<circle cx="325.64" cy="263.93" r="1.2" fill="#c9143e"/>
<circle cx="339.91" cy="225.88" r="1.2" fill="#c9143e"/>
<circle cx="320.30" cy="263.12" r="1.2" fill="#c9143e"/>
<circle cx="321.98" cy="241.71" r="1.2" fill="#c9143e"/>
<circle cx="332.94" cy="249.91" r="1.2" fill="#c9143e"/>
<circle cx="311.79" cy="268.83" r="1.2" fill="#c9143e"/>
<circle cx="322.03" cy="249.88" r="1.2" fill="#c9143e"/>
<circle cx="325.80" cy="237.79" r="1.2" fill="#c9143e"/>
<circle cx="324.91" cy="243.82" r="1.2" fill="#c9143e"/>
<circle cx="331.76" cy="215.17" r="1.2" fill="#c9143e"/>
<circle cx="340.09" cy="225.28" r="1.2" fill="#c9143e"/>
<circle cx="338.59" cy="223.52" r="1.2" fill="#c9143e"/>
<circle cx="305.59" cy="260.48" r="1.2" fill="#c9143e"/>
<circle cx="308.89" cy="270.26" r="1.2" fill="#c9143e"/>
<circle cx="325.41" cy="232.71" r="1.2" fill="#c9143e"/>
<circle cx="300.29" cy="264.55" r="1.2" fill="#c9143e"/>
<circle cx="333.69" cy="237.52" r="1.2" fill="#c9143e"/>
<circle cx="301.33" cy="250.72" r="1.2" fill="#c9143e"/>
<circle cx="321.86" cy="222.58" r="1.2" fill="#c9143e"/>
<circle cx="326.84" cy="250.63" r="1.2" fill="#c9143e"/>
<circle cx="316.20" cy="266.66" r="1.2" fill="#c9143e"/>
<circle cx="303.86" cy="275.35" r="1.2" fill="#c9143e"/>
<circle cx="319.10" cy="204.37" r="1.2" fill="#c9143e"/>
<circle cx="320.17" cy="269.04" r="1.2" fill="#c9143e"/>
<circle cx="343.28" cy="239.99" r="1.2" fill="#c9143e"/>
<circle cx="311.98" cy="258.18" r="1.2" fill="#c9143e"/>
<circle cx="333.81" cy="213.58" r="1.2" fill="#c9143e"/>
<circle cx="332.89" cy="249.92" r="1.2" fill="#c9143e"/>
<circle cx="325.66" cy="264.07" r="1.2" fill="#c9143e"/>
<circle cx="304.68" cy="269.95" r="1.2" fill="#c9143e"/>
<circle cx="319.30" cy="257.61" r="1.2" fill="#c9143e"/>
<circle cx="332.45" cy="228.93" r="1.2" fill="#c9143e"/>
<circle cx="325.34" cy="242.31" r="1.2" fill="#c9143e"/>
<circle cx="321.41" cy="210.58" r="1.2" fill="#c9143e"/>
<circle cx="314.82" cy="224.05" r="1.2" fill="#c9143e"/>
<circle cx="323.28" cy="265.93" r="1.2" fill="#c9143e"/>
<circle cx="303.66" cy="268.05" r="1.2" fill="#c9143e"/>
<circle cx="345.95" cy="255.51" r="1.2" fill="#c9143e"/>
<circle cx="331.44" cy="262.01" r="1.2" fill="#c9143e"/>
<circle cx="346.73" cy="236.10" r="1.2" fill="#c9143e"/>
<circle cx="343.45" cy="242.85" r="1.2" fill="#c9143e"/>
<circle cx="336.62" cy="242.88" r="1.2" fill="#c9143e"/>
<circle cx="336.15" cy="250.11" r="1.2" fill="#c9143e"/>
<circle cx="342.11" cy="252.19" r="1.2" fill="#c9143e"/>
<circle cx="342.85" cy="234.11" r="1.2" fill="#c9143e"/>
<circle cx="338.84" cy="244.55" r="1.2" fill="#c9143e"/>
<circle cx="341.19" cy="247.85" r="1.2" fill="#c9143e"/>
<circle cx="346.06" cy="244.35" r="1.2" fill="#c9143e"/>
<circle cx="342.68" cy="242.17" r="1.2" fill="#c9143e"/>
<circle cx="340.43" cy="256.88" r="1.2" fill="#c9143e"/>
<circle cx="342.58" cy="238.79" r="1.2" fill="#c9143e"/>
<circle cx="335.47" cy="257.48" r="1.2" fill="#c9143e"/>
<circle cx="328.97" cy="255.99" r="1.2" fill="#c9143e"/>
<circle cx="339.74" cy="249.71" r="1.2" fill="#c9143e"/>
<circle cx="350.75" cy="237.34" r="1.2" fill="#c9143e"/>
<circle cx="339.00" cy="251.40" r="1.2" fill="#c9143e"/>
<circle cx="342.96" cy="255.45" r="1.2" fill="#c9143e"/>
<circle cx="341.65" cy="245.03" r="1.2" fill="#c9143e"/>
<circle cx="330.87" cy="253.43" r="1.2" fill="#c9143e"/>
<circle cx="331.10" cy="258.09" r="1.2" fill="#c9143e"/>
<circle cx="345.25" cy="233.49" r="1.2" fill="#c9143e"/>
<circle cx="335.57" cy="262.68" r="1.2" fill="#c9143e"/>
<circle cx="310.45" cy="274.48" r="1.2" fill="#c9143e"/>
<circle cx="311.60" cy="272.18" r="1.2" fill="#c9143e"/>
<circle cx="313.32" cy="269.45" r="1.2" fill="#c9143e"/>
<circle cx="314.80" cy="268.09" r="1.2" fill="#c9143e"/>
<circle cx="316.09" cy="265.67" r="1.2" fill="#c9143e"/>
<circle cx="317.40" cy="263.40" r="1.2" fill="#c9143e"/>
<circle cx="318.99" cy="261.39" r="1.2" fill="#c9143e"/>
<circle cx="320.37" cy="259.62" r="1.2" fill="#c9143e"/>
<circle cx="322.37" cy="258.00" r="1.2" fill="#c9143e"/>
<circle cx="323.52" cy="256.18" r="1.2" fill="#c9143e"/>
<circle cx="325.74" cy="253.69" r="1.2" fill="#c9143e"/>
<circle cx="326.52" cy="251.77" r="1.2" fill="#c9143e"/>
<circle cx="327.96" cy="249.31" r="1.2" fill="#c9143e"/>
<circle cx="330.07" cy="247.50" r="1.2" fill="#c9143e"/>
<circle cx="331.90" cy="245.74" r="1.2" fill="#c9143e"/>
<circle cx="333.19" cy="243.95" r="1.2" fill="#c9143e"/>
<circle cx="311.50" cy="274.90" r="1.2" fill="#c9143e"/>
<circle cx="313.72" cy="271.84" r="1.2" fill="#c9143e"/>
<circle cx="315.33" cy="269.07" r="1.2" fill="#c9143e"/>
<circle cx="317.99" cy="266.83" r="1.2" fill="#c9143e"/>
<circle cx="319.47" cy="264.33" r="1.2" fill="#c9143e"/>
<circle cx="321.51" cy="260.88" r="1.2" fill="#c9143e"/>
<circle cx="323.77" cy="258.70" r="1.2" fill="#c9143e"/>
<circle cx="326.12" cy="256.15" r="1.2" fill="#c9143e"/>
<circle cx="328.32" cy="253.18" r="1.2" fill="#c9143e"/>
<circle cx="330.38" cy="250.37" r="1.2" fill="#c9143e"/>
<circle cx="332.25" cy="247.82" r="1.2" fill="#c9143e"/>
<circle cx="334.54" cy="244.61" r="1.2" fill="#c9143e"/>
<circle cx="337.61" cy="251.99" r="1.2" fill="#c9143e"/>
<circle cx="338.57" cy="247.75" r="1.2" fill="#c9143e"/>
<circle cx="340.27" cy="243.31" r="1.2" fill="#c9143e"/>
<circle cx="340.71" cy="238.63" r="1.2" fill="#c9143e"/>
<circle cx="342.30" cy="234.81" r="1.2" fill="#c9143e"/>
<circle cx="343.40" cy="229.69" r="1.2" fill="#c9143e"/>
<circle cx="355.00" cy="203.30" r="1.2" fill="#c9143e"/>
<circle cx="342.00" cy="206.40" r="1.2" fill="#c9143e"/>
<circle cx="335.20" cy="208.60" r="1.2" fill="#c9143e"/>
<circle cx="350.40" cy="207.90" r="1.2" fill="#c9143e"/>
<circle cx="361.80" cy="208.60" r="1.2" fill="#c9143e"/>
<circle cx="367.10" cy="242.10" r="1.2" fill="#c9143e"/>
<circle cx="354.20" cy="243.60" r="1.2" fill="#c9143e"/>
<circle cx="352.00" cy="242.00" r="1.2" fill="#c9143e"/>
<circle cx="299.50" cy="288.50" r="1.2" fill="#c9143e"/>
<circle cx="309.90" cy="284.90" r="1.2" fill="#c9143e"/>
<path d="M299.5,283.9 C305,272 311,262 317.8,254.2 C323,249 328,246 333,243.6 C340,239 346,234 351.2,230.7 C356,227.5 361,224.5 367.1,223" fill="none" stroke="#e3123e" stroke-width="1.1" stroke-linecap="round"/>
<text x="298.80" y="202.90" font-size="6.3" text-anchor="start" fill="#e0406a" stroke="#e0406a" stroke-width="0.05">R = 0.63,</text>
<text x="298.80" y="211.00" font-size="6.3" text-anchor="start" fill="#e0406a" stroke="#e0406a" stroke-width="0.05"><tspan font-style="italic">P</tspan> &lt; 2.2e−16</text>
<text x="277.80" y="250.60" font-size="8.4" text-anchor="middle" fill="#222" font-weight="bold" textLength="12.75" lengthAdjust="spacingAndGlyphs" transform="rotate(-90 277.80 250.60)">CD19</text>
<text x="429.40" y="194.00" font-size="8.2" text-anchor="middle" fill="#222" stroke="#222" stroke-width="0.22" textLength="26.2" lengthAdjust="spacingAndGlyphs">BTKi−R</text>
<line x1="393.10" y1="198.80" x2="393.10" y2="303.70" stroke="#1a1a1a" stroke-width="1.2"/>
<line x1="392.50" y1="303.10" x2="466.30" y2="303.10" stroke="#1a1a1a" stroke-width="1.2"/>
<line x1="390.50" y1="200.50" x2="393.10" y2="200.50" stroke="#1a1a1a" stroke-width="0.9"/>
<text x="387.60" y="202.60" font-size="5.9" text-anchor="end" fill="#444" stroke="#444" stroke-width="0.22">2</text>
<line x1="390.50" y1="225.50" x2="393.10" y2="225.50" stroke="#1a1a1a" stroke-width="0.9"/>
<text x="387.60" y="227.60" font-size="5.9" text-anchor="end" fill="#444" stroke="#444" stroke-width="0.22">1</text>
<line x1="390.50" y1="250.00" x2="393.10" y2="250.00" stroke="#1a1a1a" stroke-width="0.9"/>
<text x="387.60" y="252.10" font-size="5.9" text-anchor="end" fill="#444" stroke="#444" stroke-width="0.22">0</text>
<line x1="390.50" y1="275.00" x2="393.10" y2="275.00" stroke="#1a1a1a" stroke-width="0.9"/>
<text x="387.60" y="277.10" font-size="5.9" text-anchor="end" fill="#444" stroke="#444" stroke-width="0.22">−1</text>
<line x1="390.50" y1="299.50" x2="393.10" y2="299.50" stroke="#1a1a1a" stroke-width="0.9"/>
<text x="387.60" y="301.60" font-size="5.9" text-anchor="end" fill="#444" stroke="#444" stroke-width="0.22">−2</text>
<line x1="408.00" y1="303.10" x2="408.00" y2="305.70" stroke="#1a1a1a" stroke-width="0.9"/>
<text x="408.00" y="313.50" font-size="5.9" text-anchor="middle" fill="#444" stroke="#444" stroke-width="0.22">−1</text>
<line x1="423.80" y1="303.10" x2="423.80" y2="305.70" stroke="#1a1a1a" stroke-width="0.9"/>
<text x="423.80" y="313.50" font-size="5.9" text-anchor="middle" fill="#444" stroke="#444" stroke-width="0.22">0</text>
<line x1="439.50" y1="303.10" x2="439.50" y2="305.70" stroke="#1a1a1a" stroke-width="0.9"/>
<text x="439.50" y="313.50" font-size="5.9" text-anchor="middle" fill="#444" stroke="#444" stroke-width="0.22">1</text>
<line x1="455.00" y1="303.10" x2="455.00" y2="305.70" stroke="#1a1a1a" stroke-width="0.9"/>
<text x="455.00" y="313.50" font-size="5.9" text-anchor="middle" fill="#444" stroke="#444" stroke-width="0.22">2</text>
<path d="M395.00,275.00 L398.00,272.00 L398.00,287.00 L395.00,292.00 Z" fill="#dcdcdc" stroke="none" stroke-width="1" opacity="0.6"/>
<path d="M438.00,240.00 L444.00,236.00 L449.00,234.00 L449.00,252.00 L444.00,250.00 L438.00,246.00 Z" fill="#dcdcdc" stroke="none" stroke-width="1" opacity="0.6"/>
<circle cx="425.20" cy="203.30" r="1.05" fill="#667"/>
<circle cx="396.88" cy="280.76" r="1.2" fill="#1bb0e0"/>
<circle cx="423.23" cy="250.42" r="1.2" fill="#1bb0e0"/>
<circle cx="420.03" cy="288.34" r="1.2" fill="#1bb0e0"/>
<circle cx="400.56" cy="271.38" r="1.2" fill="#1bb0e0"/>
<circle cx="412.04" cy="254.63" r="1.2" fill="#1bb0e0"/>
<circle cx="403.20" cy="267.93" r="1.2" fill="#1bb0e0"/>
<circle cx="417.08" cy="229.86" r="1.2" fill="#1bb0e0"/>
<circle cx="414.80" cy="262.65" r="1.2" fill="#1bb0e0"/>
<circle cx="411.45" cy="260.76" r="1.2" fill="#1bb0e0"/>
<circle cx="400.03" cy="277.31" r="1.2" fill="#1bb0e0"/>
<circle cx="429.67" cy="258.59" r="1.2" fill="#1bb0e0"/>
<circle cx="435.00" cy="222.02" r="1.2" fill="#1bb0e0"/>
<circle cx="433.45" cy="243.72" r="1.2" fill="#1bb0e0"/>
<circle cx="432.26" cy="229.38" r="1.2" fill="#1bb0e0"/>
<circle cx="420.32" cy="257.71" r="1.2" fill="#1bb0e0"/>
<circle cx="433.51" cy="234.77" r="1.2" fill="#1bb0e0"/>
<circle cx="428.60" cy="220.41" r="1.2" fill="#1bb0e0"/>
<circle cx="399.87" cy="271.60" r="1.2" fill="#1bb0e0"/>
<circle cx="434.07" cy="224.98" r="1.2" fill="#1bb0e0"/>
<circle cx="408.64" cy="232.00" r="1.2" fill="#1bb0e0"/>
<circle cx="406.97" cy="243.46" r="1.2" fill="#1bb0e0"/>
<circle cx="416.27" cy="226.30" r="1.2" fill="#1bb0e0"/>
<circle cx="420.92" cy="256.41" r="1.2" fill="#1bb0e0"/>
<circle cx="406.73" cy="251.04" r="1.2" fill="#1bb0e0"/>
<circle cx="420.34" cy="216.82" r="1.2" fill="#1bb0e0"/>
<circle cx="413.51" cy="257.32" r="1.2" fill="#1bb0e0"/>
<circle cx="412.65" cy="285.41" r="1.2" fill="#1bb0e0"/>
<circle cx="399.78" cy="253.25" r="1.2" fill="#1bb0e0"/>
<circle cx="421.94" cy="267.88" r="1.2" fill="#1bb0e0"/>
<circle cx="408.86" cy="231.45" r="1.2" fill="#1bb0e0"/>
<circle cx="414.31" cy="229.71" r="1.2" fill="#1bb0e0"/>
<circle cx="428.16" cy="227.83" r="1.2" fill="#1bb0e0"/>
<circle cx="408.67" cy="284.51" r="1.2" fill="#1bb0e0"/>
<circle cx="423.37" cy="248.61" r="1.2" fill="#1bb0e0"/>
<circle cx="426.31" cy="225.37" r="1.2" fill="#1bb0e0"/>
<circle cx="405.46" cy="255.95" r="1.2" fill="#1bb0e0"/>
<circle cx="425.23" cy="233.72" r="1.2" fill="#1bb0e0"/>
<circle cx="407.69" cy="274.86" r="1.2" fill="#1bb0e0"/>
<circle cx="415.61" cy="288.41" r="1.2" fill="#1bb0e0"/>
<circle cx="409.65" cy="231.72" r="1.2" fill="#1bb0e0"/>
<circle cx="417.16" cy="229.63" r="1.2" fill="#1bb0e0"/>
<circle cx="406.06" cy="271.83" r="1.2" fill="#1bb0e0"/>
<circle cx="427.28" cy="240.35" r="1.2" fill="#1bb0e0"/>
<circle cx="421.46" cy="261.38" r="1.2" fill="#1bb0e0"/>
<circle cx="425.17" cy="223.26" r="1.2" fill="#1bb0e0"/>
<circle cx="396.17" cy="273.63" r="1.2" fill="#1bb0e0"/>
<circle cx="413.43" cy="247.92" r="1.2" fill="#1bb0e0"/>
<circle cx="411.67" cy="252.06" r="1.2" fill="#1bb0e0"/>
<circle cx="398.53" cy="272.85" r="1.2" fill="#1bb0e0"/>
<circle cx="438.10" cy="228.25" r="1.2" fill="#1bb0e0"/>
<circle cx="397.92" cy="275.85" r="1.2" fill="#1bb0e0"/>
<circle cx="433.82" cy="225.22" r="1.2" fill="#1bb0e0"/>
<circle cx="424.98" cy="225.69" r="1.2" fill="#1bb0e0"/>
<circle cx="414.84" cy="232.50" r="1.2" fill="#1bb0e0"/>
<circle cx="427.63" cy="243.09" r="1.2" fill="#1bb0e0"/>
<circle cx="416.63" cy="251.73" r="1.2" fill="#1bb0e0"/>
<circle cx="411.76" cy="274.37" r="1.2" fill="#1bb0e0"/>
<circle cx="410.17" cy="287.63" r="1.2" fill="#1bb0e0"/>
<circle cx="402.59" cy="259.90" r="1.2" fill="#1bb0e0"/>
<circle cx="413.77" cy="249.85" r="1.2" fill="#1bb0e0"/>
<circle cx="414.35" cy="221.93" r="1.2" fill="#1bb0e0"/>
<circle cx="420.24" cy="240.14" r="1.2" fill="#1bb0e0"/>
<circle cx="436.03" cy="230.32" r="1.2" fill="#1bb0e0"/>
<circle cx="435.95" cy="228.51" r="1.2" fill="#1bb0e0"/>
<circle cx="431.41" cy="226.40" r="1.2" fill="#1bb0e0"/>
<circle cx="428.62" cy="269.28" r="1.2" fill="#1bb0e0"/>
<circle cx="406.69" cy="260.15" r="1.2" fill="#1bb0e0"/>
<circle cx="433.41" cy="248.41" r="1.2" fill="#1bb0e0"/>
<circle cx="401.48" cy="273.65" r="1.2" fill="#1bb0e0"/>
<circle cx="433.64" cy="233.56" r="1.2" fill="#1bb0e0"/>
<circle cx="412.51" cy="242.76" r="1.2" fill="#1bb0e0"/>
<circle cx="415.48" cy="225.42" r="1.2" fill="#1bb0e0"/>
<circle cx="410.62" cy="241.55" r="1.2" fill="#1bb0e0"/>
<circle cx="411.11" cy="245.09" r="1.2" fill="#1bb0e0"/>
<circle cx="426.00" cy="260.10" r="1.2" fill="#1bb0e0"/>
<circle cx="400.79" cy="270.19" r="1.2" fill="#1bb0e0"/>
<circle cx="422.56" cy="238.81" r="1.2" fill="#1bb0e0"/>
<circle cx="404.40" cy="269.84" r="1.2" fill="#1bb0e0"/>
<circle cx="401.80" cy="253.53" r="1.2" fill="#1bb0e0"/>
<circle cx="428.47" cy="250.50" r="1.2" fill="#1bb0e0"/>
<circle cx="405.25" cy="270.34" r="1.2" fill="#1bb0e0"/>
<circle cx="417.95" cy="266.48" r="1.2" fill="#1bb0e0"/>
<circle cx="434.31" cy="227.84" r="1.2" fill="#1bb0e0"/>
<circle cx="402.90" cy="280.70" r="1.2" fill="#1bb0e0"/>
<circle cx="419.28" cy="251.24" r="1.2" fill="#1bb0e0"/>
<circle cx="432.31" cy="232.63" r="1.2" fill="#1bb0e0"/>
<circle cx="426.00" cy="263.39" r="1.2" fill="#1bb0e0"/>
<circle cx="397.12" cy="242.66" r="1.2" fill="#1bb0e0"/>
<circle cx="411.38" cy="217.18" r="1.2" fill="#1bb0e0"/>
<circle cx="405.04" cy="211.98" r="1.2" fill="#1bb0e0"/>
<circle cx="409.15" cy="228.13" r="1.2" fill="#1bb0e0"/>
<circle cx="409.08" cy="244.02" r="1.2" fill="#1bb0e0"/>
<circle cx="401.23" cy="272.90" r="1.2" fill="#1bb0e0"/>
<circle cx="412.97" cy="254.34" r="1.2" fill="#1bb0e0"/>
<circle cx="424.96" cy="222.72" r="1.2" fill="#1bb0e0"/>
<circle cx="417.91" cy="274.78" r="1.2" fill="#1bb0e0"/>
<circle cx="405.85" cy="266.82" r="1.2" fill="#1bb0e0"/>
<circle cx="421.54" cy="261.86" r="1.2" fill="#1bb0e0"/>
<circle cx="416.07" cy="266.47" r="1.2" fill="#1bb0e0"/>
<circle cx="403.89" cy="285.48" r="1.2" fill="#1bb0e0"/>
<circle cx="433.62" cy="227.04" r="1.2" fill="#1bb0e0"/>
<circle cx="412.03" cy="271.95" r="1.2" fill="#1bb0e0"/>
<circle cx="401.37" cy="258.59" r="1.2" fill="#1bb0e0"/>
<circle cx="403.13" cy="255.85" r="1.2" fill="#1bb0e0"/>
<circle cx="415.98" cy="243.88" r="1.2" fill="#1bb0e0"/>
<circle cx="427.57" cy="236.98" r="1.2" fill="#1bb0e0"/>
<circle cx="409.54" cy="243.70" r="1.2" fill="#1bb0e0"/>
<circle cx="404.27" cy="271.50" r="1.2" fill="#1bb0e0"/>
<circle cx="410.97" cy="282.52" r="1.2" fill="#1bb0e0"/>
<circle cx="411.33" cy="259.92" r="1.2" fill="#1bb0e0"/>
<circle cx="422.47" cy="246.64" r="1.2" fill="#1bb0e0"/>
<circle cx="439.92" cy="257.15" r="1.2" fill="#1bb0e0"/>
<circle cx="438.11" cy="243.64" r="1.2" fill="#1bb0e0"/>
<circle cx="434.85" cy="254.92" r="1.2" fill="#1bb0e0"/>
<circle cx="421.11" cy="267.25" r="1.2" fill="#1bb0e0"/>
<circle cx="431.31" cy="245.71" r="1.2" fill="#1bb0e0"/>
<circle cx="432.80" cy="254.58" r="1.2" fill="#1bb0e0"/>
<circle cx="436.53" cy="240.17" r="1.2" fill="#1bb0e0"/>
<circle cx="435.00" cy="237.55" r="1.2" fill="#1bb0e0"/>
<circle cx="425.07" cy="269.77" r="1.2" fill="#1bb0e0"/>
<circle cx="425.67" cy="248.17" r="1.2" fill="#1bb0e0"/>
<circle cx="438.83" cy="249.46" r="1.2" fill="#1bb0e0"/>
<circle cx="435.52" cy="248.80" r="1.2" fill="#1bb0e0"/>
<circle cx="428.07" cy="258.41" r="1.2" fill="#1bb0e0"/>
<circle cx="436.14" cy="252.87" r="1.2" fill="#1bb0e0"/>
<circle cx="434.05" cy="244.95" r="1.2" fill="#1bb0e0"/>
<circle cx="430.15" cy="241.05" r="1.2" fill="#1bb0e0"/>
<circle cx="435.91" cy="247.36" r="1.2" fill="#1bb0e0"/>
<circle cx="434.77" cy="249.90" r="1.2" fill="#1bb0e0"/>
<circle cx="435.76" cy="243.93" r="1.2" fill="#1bb0e0"/>
<circle cx="402.65" cy="283.19" r="1.2" fill="#1bb0e0"/>
<circle cx="404.65" cy="280.43" r="1.2" fill="#1bb0e0"/>
<circle cx="406.82" cy="277.49" r="1.2" fill="#1bb0e0"/>
<circle cx="408.17" cy="275.25" r="1.2" fill="#1bb0e0"/>
<circle cx="409.89" cy="272.36" r="1.2" fill="#1bb0e0"/>
<circle cx="411.66" cy="270.08" r="1.2" fill="#1bb0e0"/>
<circle cx="412.81" cy="266.83" r="1.2" fill="#1bb0e0"/>
<circle cx="415.24" cy="263.74" r="1.2" fill="#1bb0e0"/>
<circle cx="416.89" cy="261.36" r="1.2" fill="#1bb0e0"/>
<circle cx="417.98" cy="259.06" r="1.2" fill="#1bb0e0"/>
<circle cx="412.39" cy="272.73" r="1.2" fill="#1bb0e0"/>
<circle cx="413.97" cy="270.05" r="1.2" fill="#1bb0e0"/>
<circle cx="415.74" cy="267.45" r="1.2" fill="#1bb0e0"/>
<circle cx="416.33" cy="263.99" r="1.2" fill="#1bb0e0"/>
<circle cx="418.44" cy="261.53" r="1.2" fill="#1bb0e0"/>
<circle cx="419.64" cy="259.41" r="1.2" fill="#1bb0e0"/>
<circle cx="421.08" cy="256.21" r="1.2" fill="#1bb0e0"/>
<circle cx="423.32" cy="253.77" r="1.2" fill="#1bb0e0"/>
<circle cx="424.48" cy="250.60" r="1.2" fill="#1bb0e0"/>
<circle cx="426.20" cy="248.11" r="1.2" fill="#1bb0e0"/>
<circle cx="423.36" cy="269.27" r="1.2" fill="#1bb0e0"/>
<circle cx="424.31" cy="266.79" r="1.2" fill="#1bb0e0"/>
<circle cx="426.34" cy="264.58" r="1.2" fill="#1bb0e0"/>
<circle cx="427.56" cy="261.34" r="1.2" fill="#1bb0e0"/>
<circle cx="428.62" cy="259.10" r="1.2" fill="#1bb0e0"/>
<circle cx="430.71" cy="256.58" r="1.2" fill="#1bb0e0"/>
<circle cx="431.85" cy="254.12" r="1.2" fill="#1bb0e0"/>
<circle cx="424.40" cy="214.40" r="1.2" fill="#1bb0e0"/>
<circle cx="431.20" cy="215.50" r="1.2" fill="#1bb0e0"/>
<circle cx="433.80" cy="216.00" r="1.2" fill="#1bb0e0"/>
<circle cx="429.70" cy="220.00" r="1.2" fill="#1bb0e0"/>
<circle cx="448.00" cy="225.40" r="1.2" fill="#1bb0e0"/>
<circle cx="442.60" cy="256.50" r="1.2" fill="#1bb0e0"/>
<circle cx="439.60" cy="255.00" r="1.2" fill="#1bb0e0"/>
<circle cx="448.70" cy="242.10" r="1.2" fill="#1bb0e0"/>
<circle cx="400.00" cy="290.70" r="1.2" fill="#1bb0e0"/>
<circle cx="407.00" cy="291.50" r="1.2" fill="#1bb0e0"/>
<circle cx="398.60" cy="284.60" r="1.2" fill="#1bb0e0"/>
<path d="M397,280 C402,271 407,263 413.8,257.3 C420,252 425,248 430.5,245.1 C434,243.3 437,242.4 439.6,242.1 C443,241.6 446,241.3 448.7,241.3" fill="none" stroke="#1bb0e0" stroke-width="1.1" stroke-linecap="round"/>
<text x="395.50" y="202.70" font-size="6.3" text-anchor="start" fill="#3ab8e4" stroke="#3ab8e4" stroke-width="0.05">R = 0.56,</text>
<text x="395.50" y="211.20" font-size="6.3" text-anchor="start" fill="#3ab8e4" stroke="#3ab8e4" stroke-width="0.05"><tspan font-style="italic">P</tspan> &lt; 2.2e−16</text>
<text x="381.60" y="325.85" font-size="8.2" text-anchor="middle" fill="#222" font-weight="bold" textLength="13.4" lengthAdjust="spacingAndGlyphs">PAX5</text>
<text x="470.00" y="243.00" font-size="6.1" text-anchor="start" fill="#333" stroke="#333" stroke-width="0.1" textLength="43.2" lengthAdjust="spacingAndGlyphs">Clinical outcome</text>
<rect x="470.00" y="247.60" width="8.10" height="7.00" fill="#f2e2e6"/>
<line x1="470.00" y1="251.10" x2="478.10" y2="251.10" stroke="#b8143e" stroke-width="1"/>
<circle cx="474.05" cy="251.10" r="0.9" fill="#b8143e"/>
<text x="480.90" y="253.20" font-size="6.1" text-anchor="start" fill="#333" stroke="#333" stroke-width="0.12" textLength="20.8" lengthAdjust="spacingAndGlyphs">BTKi−S</text>
<rect x="470.00" y="256.10" width="8.10" height="7.00" fill="#dcf0f6"/>
<line x1="470.00" y1="259.60" x2="478.10" y2="259.60" stroke="#2595bd" stroke-width="1"/>
<circle cx="474.05" cy="259.60" r="0.9" fill="#2595bd"/>
<text x="480.90" y="261.70" font-size="6.1" text-anchor="start" fill="#333" stroke="#333" stroke-width="0.12" textLength="20.8" lengthAdjust="spacingAndGlyphs">BTKi−R</text>
<text x="150.50" y="350.10" font-size="8.4" text-anchor="middle" fill="#222" stroke="#222" stroke-width="0.22" textLength="46.3" lengthAdjust="spacingAndGlyphs">ECOG 1405</text>
<line x1="99.50" y1="354.50" x2="99.50" y2="484.90" stroke="#1a1a1a" stroke-width="1.2"/>
<line x1="98.90" y1="484.30" x2="201.50" y2="484.30" stroke="#1a1a1a" stroke-width="1.2"/>
<line x1="96.90" y1="360.80" x2="99.50" y2="360.80" stroke="#1a1a1a" stroke-width="0.9"/>
<text x="94.00" y="362.90" font-size="5.9" text-anchor="end" fill="#444" stroke="#444" stroke-width="0.22">10</text>
<line x1="96.90" y1="405.00" x2="99.50" y2="405.00" stroke="#1a1a1a" stroke-width="0.9"/>
<text x="94.00" y="407.10" font-size="5.9" text-anchor="end" fill="#444" stroke="#444" stroke-width="0.22">5</text>
<line x1="96.90" y1="449.30" x2="99.50" y2="449.30" stroke="#1a1a1a" stroke-width="0.9"/>
<text x="94.00" y="451.40" font-size="5.9" text-anchor="end" fill="#444" stroke="#444" stroke-width="0.22">0</text>
<line x1="111.60" y1="484.30" x2="111.60" y2="486.90" stroke="#1a1a1a" stroke-width="0.9"/>
<text x="111.60" y="495.90" font-size="5.9" text-anchor="middle" fill="#444" stroke="#444" stroke-width="0.22">0.0</text>
<line x1="133.40" y1="484.30" x2="133.40" y2="486.90" stroke="#1a1a1a" stroke-width="0.9"/>
<text x="133.40" y="495.90" font-size="5.9" text-anchor="middle" fill="#444" stroke="#444" stroke-width="0.22">2.5</text>
<line x1="155.00" y1="484.30" x2="155.00" y2="486.90" stroke="#1a1a1a" stroke-width="0.9"/>
<text x="155.00" y="495.90" font-size="5.9" text-anchor="middle" fill="#444" stroke="#444" stroke-width="0.22">5.0</text>
<line x1="176.60" y1="484.30" x2="176.60" y2="486.90" stroke="#1a1a1a" stroke-width="0.9"/>
<text x="176.60" y="495.90" font-size="5.9" text-anchor="middle" fill="#444" stroke="#444" stroke-width="0.22">7.5</text>
<line x1="197.90" y1="484.30" x2="197.90" y2="486.90" stroke="#1a1a1a" stroke-width="0.9"/>
<text x="197.90" y="495.90" font-size="5.9" text-anchor="middle" fill="#444" stroke="#444" stroke-width="0.22">10.0</text>
<line x1="103.80" y1="466.30" x2="197.70" y2="370.40" stroke="#bdbdbd" stroke-width="0.9"/>
<circle cx="103.80" cy="478.80" r="1.7" fill="#f4a010" stroke="#d68a00" stroke-width="0.4"/>
<circle cx="120.00" cy="442.00" r="1.7" fill="#f4a010" stroke="#d68a00" stroke-width="0.4"/>
<circle cx="178.80" cy="388.50" r="1.7" fill="#f4a010" stroke="#d68a00" stroke-width="0.4"/>
<circle cx="192.70" cy="360.00" r="1.7" fill="#f4a010" stroke="#d68a00" stroke-width="0.4"/>
<circle cx="186.20" cy="362.70" r="1.7" fill="#f4a010" stroke="#d68a00" stroke-width="0.4"/>
<circle cx="188.80" cy="364.20" r="1.7" fill="#f4a010" stroke="#d68a00" stroke-width="0.4"/>
<circle cx="195.40" cy="366.50" r="1.7" fill="#f4a010" stroke="#d68a00" stroke-width="0.4"/>
<circle cx="187.30" cy="368.80" r="1.7" fill="#f4a010" stroke="#d68a00" stroke-width="0.4"/>
<circle cx="190.80" cy="370.80" r="1.7" fill="#f4a010" stroke="#d68a00" stroke-width="0.4"/>
<circle cx="193.10" cy="371.50" r="1.7" fill="#f4a010" stroke="#d68a00" stroke-width="0.4"/>
<circle cx="189.60" cy="374.60" r="1.7" fill="#f4a010" stroke="#d68a00" stroke-width="0.4"/>
<circle cx="196.90" cy="375.40" r="1.7" fill="#f4a010" stroke="#d68a00" stroke-width="0.4"/>
<circle cx="187.70" cy="376.90" r="1.7" fill="#f4a010" stroke="#d68a00" stroke-width="0.4"/>
<circle cx="186.50" cy="379.20" r="1.7" fill="#f4a010" stroke="#d68a00" stroke-width="0.4"/>
<circle cx="195.40" cy="378.50" r="1.7" fill="#f4a010" stroke="#d68a00" stroke-width="0.4"/>
<circle cx="190.80" cy="380.80" r="1.7" fill="#f4a010" stroke="#d68a00" stroke-width="0.4"/>
<circle cx="192.30" cy="382.30" r="1.7" fill="#f4a010" stroke="#d68a00" stroke-width="0.4"/>
<circle cx="188.10" cy="383.80" r="1.7" fill="#f4a010" stroke="#d68a00" stroke-width="0.4"/>
<circle cx="196.20" cy="385.40" r="1.7" fill="#f4a010" stroke="#d68a00" stroke-width="0.4"/>
<circle cx="191.90" cy="388.50" r="1.7" fill="#f4a010" stroke="#d68a00" stroke-width="0.4"/>
<circle cx="193.10" cy="389.60" r="1.7" fill="#f4a010" stroke="#d68a00" stroke-width="0.4"/>
<circle cx="189.00" cy="372.00" r="1.7" fill="#f4a010" stroke="#d68a00" stroke-width="0.4"/>
<circle cx="191.50" cy="367.00" r="1.7" fill="#f4a010" stroke="#d68a00" stroke-width="0.4"/>
<circle cx="194.50" cy="380.00" r="1.7" fill="#f4a010" stroke="#d68a00" stroke-width="0.4"/>
<circle cx="197.00" cy="372.00" r="1.7" fill="#f4a010" stroke="#d68a00" stroke-width="0.4"/>
<text x="138.80" y="438.80" font-size="6.3" text-anchor="start" fill="#333" stroke="#333" stroke-width="0.22" textLength="60" lengthAdjust="spacingAndGlyphs"><tspan font-style="italic">R</tspan> = 0.92, <tspan font-style="italic">P</tspan> &lt; 2.2e−16</text>
<text x="80.20" y="419.65" font-size="8.4" text-anchor="middle" fill="#222" font-weight="bold" textLength="14.9" lengthAdjust="spacingAndGlyphs" transform="rotate(-90 80.20 419.65)">SOX11</text>
<text x="150.55" y="508.60" font-size="8.8" text-anchor="middle" fill="#222" font-weight="bold" textLength="12.9" lengthAdjust="spacingAndGlyphs">PAX5</text>
<text x="285.90" y="350.10" font-size="8.4" text-anchor="middle" fill="#222" stroke="#222" stroke-width="0.22" textLength="46" lengthAdjust="spacingAndGlyphs">ECOG 1405</text>
<line x1="234.50" y1="354.50" x2="234.50" y2="485.30" stroke="#1a1a1a" stroke-width="1.2"/>
<line x1="233.90" y1="484.70" x2="336.00" y2="484.70" stroke="#1a1a1a" stroke-width="1.2"/>
<line x1="231.90" y1="388.80" x2="234.50" y2="388.80" stroke="#1a1a1a" stroke-width="0.9"/>
<text x="229.30" y="390.90" font-size="5.9" text-anchor="end" fill="#444" stroke="#444" stroke-width="0.22">8</text>
<line x1="231.90" y1="428.80" x2="234.50" y2="428.80" stroke="#1a1a1a" stroke-width="0.9"/>
<text x="229.30" y="430.90" font-size="5.9" text-anchor="end" fill="#444" stroke="#444" stroke-width="0.22">4</text>
<line x1="231.90" y1="468.80" x2="234.50" y2="468.80" stroke="#1a1a1a" stroke-width="0.9"/>
<text x="229.30" y="470.90" font-size="5.9" text-anchor="end" fill="#444" stroke="#444" stroke-width="0.22">0</text>
<line x1="242.70" y1="484.70" x2="242.70" y2="487.30" stroke="#1a1a1a" stroke-width="0.9"/>
<text x="242.70" y="496.30" font-size="5.9" text-anchor="middle" fill="#444" stroke="#444" stroke-width="0.22">0.0</text>
<line x1="267.20" y1="484.70" x2="267.20" y2="487.30" stroke="#1a1a1a" stroke-width="0.9"/>
<text x="267.20" y="496.30" font-size="5.9" text-anchor="middle" fill="#444" stroke="#444" stroke-width="0.22">2.5</text>
<line x1="291.40" y1="484.70" x2="291.40" y2="487.30" stroke="#1a1a1a" stroke-width="0.9"/>
<text x="291.40" y="496.30" font-size="5.9" text-anchor="middle" fill="#444" stroke="#444" stroke-width="0.22">5.0</text>
<line x1="315.40" y1="484.70" x2="315.40" y2="487.30" stroke="#1a1a1a" stroke-width="0.9"/>
<text x="315.40" y="496.30" font-size="5.9" text-anchor="middle" fill="#444" stroke="#444" stroke-width="0.22">7.5</text>
<line x1="237.50" y1="467.50" x2="332.50" y2="360.50" stroke="#bdbdbd" stroke-width="0.9"/>
<circle cx="238.40" cy="478.10" r="1.7" fill="#f4a010" stroke="#d68a00" stroke-width="0.4"/>
<circle cx="251.30" cy="459.60" r="1.7" fill="#f4a010" stroke="#d68a00" stroke-width="0.4"/>
<circle cx="311.30" cy="391.30" r="1.7" fill="#f4a010" stroke="#d68a00" stroke-width="0.4"/>
<circle cx="313.30" cy="369.00" r="1.7" fill="#f4a010" stroke="#d68a00" stroke-width="0.4"/>
<circle cx="321.40" cy="369.80" r="1.7" fill="#f4a010" stroke="#d68a00" stroke-width="0.4"/>
<circle cx="326.50" cy="370.20" r="1.7" fill="#f4a010" stroke="#d68a00" stroke-width="0.4"/>
<circle cx="331.50" cy="372.30" r="1.7" fill="#f4a010" stroke="#d68a00" stroke-width="0.4"/>
<circle cx="317.20" cy="373.20" r="1.7" fill="#f4a010" stroke="#d68a00" stroke-width="0.4"/>
<circle cx="323.90" cy="371.90" r="1.7" fill="#f4a010" stroke="#d68a00" stroke-width="0.4"/>
<circle cx="310.80" cy="374.90" r="1.7" fill="#f4a010" stroke="#d68a00" stroke-width="0.4"/>
<circle cx="313.80" cy="376.20" r="1.7" fill="#f4a010" stroke="#d68a00" stroke-width="0.4"/>
<circle cx="303.20" cy="377.80" r="1.7" fill="#f4a010" stroke="#d68a00" stroke-width="0.4"/>
<circle cx="303.20" cy="380.00" r="1.7" fill="#f4a010" stroke="#d68a00" stroke-width="0.4"/>
<circle cx="307.80" cy="378.70" r="1.7" fill="#f4a010" stroke="#d68a00" stroke-width="0.4"/>
<circle cx="311.20" cy="377.80" r="1.7" fill="#f4a010" stroke="#d68a00" stroke-width="0.4"/>
<circle cx="315.50" cy="377.40" r="1.7" fill="#f4a010" stroke="#d68a00" stroke-width="0.4"/>
<circle cx="318.00" cy="379.50" r="1.7" fill="#f4a010" stroke="#d68a00" stroke-width="0.4"/>
<circle cx="317.20" cy="381.60" r="1.7" fill="#f4a010" stroke="#d68a00" stroke-width="0.4"/>
<circle cx="318.80" cy="382.10" r="1.7" fill="#f4a010" stroke="#d68a00" stroke-width="0.4"/>
<circle cx="307.00" cy="382.50" r="1.7" fill="#f4a010" stroke="#d68a00" stroke-width="0.4"/>
<circle cx="323.10" cy="382.10" r="1.7" fill="#f4a010" stroke="#d68a00" stroke-width="0.4"/>
<circle cx="322.20" cy="375.30" r="1.7" fill="#f4a010" stroke="#d68a00" stroke-width="0.4"/>
<circle cx="325.60" cy="374.50" r="1.7" fill="#f4a010" stroke="#d68a00" stroke-width="0.4"/>
<circle cx="329.00" cy="374.00" r="1.7" fill="#f4a010" stroke="#d68a00" stroke-width="0.4"/>
<circle cx="320.00" cy="377.00" r="1.7" fill="#f4a010" stroke="#d68a00" stroke-width="0.4"/>
<text x="257.00" y="451.00" font-size="6.3" text-anchor="start" fill="#333" stroke="#333" stroke-width="0.22" textLength="60" lengthAdjust="spacingAndGlyphs"><tspan font-style="italic">R</tspan> = 0.94, <tspan font-style="italic">P</tspan> &lt; 2.2e−16</text>
<text x="218.90" y="419.55" font-size="8.1" text-anchor="middle" fill="#222" font-weight="bold" textLength="13.3" lengthAdjust="spacingAndGlyphs" transform="rotate(-90 218.90 419.55)">PAX5</text>
<text x="285.55" y="508.80" font-size="9" text-anchor="middle" fill="#222" font-weight="bold" textLength="13.3" lengthAdjust="spacingAndGlyphs">CD19</text>
<text x="404.60" y="353.40" font-size="6.5" text-anchor="middle" fill="#222" stroke="#222" stroke-width="0.22" textLength="18.3" lengthAdjust="spacingAndGlyphs">IBN S</text>
<text x="435.40" y="353.40" font-size="6.5" text-anchor="middle" fill="#222" stroke="#222" stroke-width="0.22" textLength="16.8" lengthAdjust="spacingAndGlyphs">IBN R</text>
<line x1="393.00" y1="357.50" x2="417.50" y2="357.50" stroke="#222" stroke-width="1"/>
<line x1="423.30" y1="357.50" x2="447.00" y2="357.50" stroke="#222" stroke-width="1"/>
<text x="400.00" y="371.90" font-size="5.8" text-anchor="middle" fill="#333" stroke="#333" stroke-width="0.08" textLength="18.8" lengthAdjust="spacingAndGlyphs" transform="rotate(-90 400.00 371.90)">PT1_S</text>
<text x="414.50" y="371.90" font-size="5.8" text-anchor="middle" fill="#333" stroke="#333" stroke-width="0.08" textLength="18.8" lengthAdjust="spacingAndGlyphs" transform="rotate(-90 414.50 371.90)">PT2_S</text>
<text x="429.00" y="371.90" font-size="5.8" text-anchor="middle" fill="#333" stroke="#333" stroke-width="0.08" textLength="18.8" lengthAdjust="spacingAndGlyphs" transform="rotate(-90 429.00 371.90)">PT1_R</text>
<text x="444.00" y="371.90" font-size="5.8" text-anchor="middle" fill="#333" stroke="#333" stroke-width="0.08" textLength="18.8" lengthAdjust="spacingAndGlyphs" transform="rotate(-90 444.00 371.90)">PT2_R</text>
<rect x="386.50" y="384.70" width="69.80" height="22.60" fill="#cfcfcf"/>
<text x="383.60" y="398.30" font-size="6.6" text-anchor="end" fill="#2a2a2a" stroke="#2a2a2a" stroke-width="0.05">SOX11</text>
<text x="419.90" y="414.60" font-size="6.5" text-anchor="middle" fill="#222" stroke="#222" stroke-width="0.1" textLength="55.4" lengthAdjust="spacingAndGlyphs">0.11 0.75 2.02 2.27</text>
<rect x="386.50" y="417.60" width="69.80" height="22.10" fill="#cfcfcf"/>
<text x="383.60" y="430.95" font-size="6.6" text-anchor="end" fill="#2a2a2a" stroke="#2a2a2a" stroke-width="0.05">PAX5</text>
<text x="419.90" y="447.00" font-size="6.5" text-anchor="middle" fill="#222" stroke="#222" stroke-width="0.1" textLength="55.4" lengthAdjust="spacingAndGlyphs">0.24 0.83 1.53 1.35</text>
<rect x="386.50" y="450.50" width="69.80" height="22.10" fill="#cfcfcf"/>
<text x="383.60" y="463.85" font-size="6.6" text-anchor="end" fill="#2a2a2a" stroke="#2a2a2a" stroke-width="0.05">CD19</text>
<text x="419.90" y="479.90" font-size="6.5" text-anchor="middle" fill="#222" stroke="#222" stroke-width="0.1" textLength="55.4" lengthAdjust="spacingAndGlyphs">0.85 0.69 1.24 1.21</text>
<rect x="386.50" y="482.00" width="69.80" height="21.90" fill="#cfcfcf"/>
<text x="383.60" y="495.25" font-size="6.6" text-anchor="end" fill="#2a2a2a" stroke="#2a2a2a" stroke-width="0.05">β-Actin</text>
<ellipse cx="399.15" cy="396.30" rx="4.65" ry="1.00" fill="#9a9a9a" opacity="0.8"/>
<ellipse cx="414.55" cy="396.00" rx="6.15" ry="1.20" fill="#333" opacity="1"/>
<ellipse cx="429.40" cy="395.40" rx="5.60" ry="1.60" fill="#0a0a0a" opacity="1"/>
<ellipse cx="444.70" cy="394.60" rx="6.00" ry="1.60" fill="#050505" opacity="1"/>
<ellipse cx="398.75" cy="430.00" rx="5.75" ry="1.10" fill="#8a8a8a" opacity="1"/>
<ellipse cx="414.55" cy="429.00" rx="6.15" ry="1.40" fill="#222" opacity="1"/>
<ellipse cx="430.25" cy="428.00" rx="6.95" ry="1.70" fill="#080808" opacity="1"/>
<ellipse cx="444.55" cy="427.50" rx="5.85" ry="1.70" fill="#080808" opacity="1"/>
<ellipse cx="398.75" cy="461.50" rx="6.25" ry="2.30" fill="#080808" opacity="1"/>
<ellipse cx="414.00" cy="461.80" rx="6.50" ry="1.60" fill="#111" opacity="1"/>
<ellipse cx="429.25" cy="461.00" rx="7.25" ry="2.50" fill="#060606" opacity="1"/>
<ellipse cx="444.00" cy="460.50" rx="6.50" ry="2.20" fill="#080808" opacity="1"/>
<ellipse cx="398.75" cy="493.30" rx="7.25" ry="1.90" fill="#111" opacity="1"/>
<ellipse cx="413.75" cy="493.20" rx="7.25" ry="1.90" fill="#111" opacity="1"/>
<ellipse cx="429.00" cy="493.00" rx="7.50" ry="1.80" fill="#111" opacity="1"/>
<ellipse cx="444.00" cy="492.60" rx="7.00" ry="1.90" fill="#111" opacity="1"/>
<line x1="119.20" y1="538.70" x2="119.20" y2="640.50" stroke="#1a1a1a" stroke-width="1.1"/>
<line x1="118.70" y1="640.00" x2="217.20" y2="640.00" stroke="#1a1a1a" stroke-width="1.1"/>
<line x1="116.60" y1="541.60" x2="119.20" y2="541.60" stroke="#1a1a1a" stroke-width="0.9"/>
<text x="113.90" y="543.60" font-size="5.6" text-anchor="end" fill="#333" stroke="#333" stroke-width="0.22" textLength="21.0" lengthAdjust="spacingAndGlyphs">100000</text>
<line x1="116.60" y1="561.40" x2="119.20" y2="561.40" stroke="#1a1a1a" stroke-width="0.9"/>
<text x="113.90" y="563.40" font-size="5.6" text-anchor="end" fill="#333" stroke="#333" stroke-width="0.22" textLength="17.5" lengthAdjust="spacingAndGlyphs">80000</text>
<line x1="116.60" y1="581.00" x2="119.20" y2="581.00" stroke="#1a1a1a" stroke-width="0.9"/>
<text x="113.90" y="583.00" font-size="5.6" text-anchor="end" fill="#333" stroke="#333" stroke-width="0.22" textLength="17.5" lengthAdjust="spacingAndGlyphs">60000</text>
<line x1="116.60" y1="600.70" x2="119.20" y2="600.70" stroke="#1a1a1a" stroke-width="0.9"/>
<text x="113.90" y="602.70" font-size="5.6" text-anchor="end" fill="#333" stroke="#333" stroke-width="0.22" textLength="17.5" lengthAdjust="spacingAndGlyphs">40000</text>
<line x1="116.60" y1="620.10" x2="119.20" y2="620.10" stroke="#1a1a1a" stroke-width="0.9"/>
<text x="113.90" y="622.10" font-size="5.6" text-anchor="end" fill="#333" stroke="#333" stroke-width="0.22" textLength="17.5" lengthAdjust="spacingAndGlyphs">20000</text>
<line x1="116.60" y1="640.00" x2="119.20" y2="640.00" stroke="#1a1a1a" stroke-width="0.9"/>
<text x="113.90" y="642.00" font-size="5.6" text-anchor="end" fill="#333" stroke="#333" stroke-width="0.22" textLength="3.5" lengthAdjust="spacingAndGlyphs">0</text>
<line x1="140.80" y1="640.00" x2="140.80" y2="642.70" stroke="#1a1a1a" stroke-width="0.9"/>
<line x1="195.40" y1="640.00" x2="195.40" y2="642.70" stroke="#1a1a1a" stroke-width="0.9"/>
<text x="140.80" y="650.60" font-size="5.9" text-anchor="middle" fill="#333" stroke="#333" stroke-width="0.22">WT</text>
<text x="195.40" y="650.60" font-size="5.9" text-anchor="middle" fill="#333" stroke="#333" stroke-width="0.22">SOX11 Tg</text>
<text x="86.40" y="590.75" font-size="8.6" text-anchor="middle" fill="#222" font-weight="bold" textLength="24.7" lengthAdjust="spacingAndGlyphs" transform="rotate(-90 86.40 590.75)">PAX5 MFI</text>
<path d="M140.8,544.6 L140.8,534.2 L195.4,534.2 L195.4,544.6" fill="none" stroke="#333" stroke-width="1"/>
<text x="168.00" y="534.20" font-size="6.5" text-anchor="middle" fill="#333" stroke="#333" stroke-width="0.22">**</text>
<circle cx="141.20" cy="590.40" r="2.1" fill="#2aa9d8"/>
<circle cx="141.20" cy="604.20" r="2.1" fill="#2aa9d8"/>
<circle cx="141.20" cy="609.60" r="2.1" fill="#2aa9d8"/>
<circle cx="141.20" cy="618.30" r="2.1" fill="#2aa9d8"/>
<circle cx="141.20" cy="624.60" r="2.1" fill="#2aa9d8"/>
<line x1="127.70" y1="609.60" x2="154.60" y2="609.60" stroke="#2aa9d8" stroke-width="1"/>
<rect x="189.10" y="548.90" width="4.20" height="4.20" fill="#d9163f"/>
<rect x="196.70" y="548.90" width="4.20" height="4.20" fill="#d9163f"/>
<rect x="189.10" y="553.70" width="4.20" height="4.20" fill="#d9163f"/>
<rect x="196.70" y="553.70" width="4.20" height="4.20" fill="#d9163f"/>
<rect x="192.90" y="559.40" width="4.20" height="4.20" fill="#d9163f"/>
<rect x="192.90" y="572.90" width="4.20" height="4.20" fill="#d9163f"/>
<line x1="181.50" y1="555.80" x2="208.50" y2="555.80" stroke="#d9163f" stroke-width="1"/>
<path d="M275.00,603.75 L279.12,602.77 L283.25,601.76 L287.38,600.73 L291.50,599.66 L295.62,598.56 L299.75,597.42 L303.88,596.23 L308.00,595.00 L312.12,593.71 L316.25,592.36 L320.38,590.96 L324.50,589.50 L328.62,587.97 L332.75,586.38 L336.88,584.73 L341.00,583.03 L345.12,581.27 L349.25,579.46 L353.38,577.60 L357.50,575.71 L361.62,573.77 L365.75,571.81 L369.88,569.82 L374.00,567.80 L378.12,565.75 L382.25,563.69 L386.38,561.61 L390.50,559.51 L394.62,557.40 L398.75,555.28 L402.88,553.14 L407.00,551.00 L411.12,548.85 L415.25,546.69 L419.38,544.52 L423.50,542.35 L427.62,540.16 L431.75,537.98 L435.88,535.79 L440.00,533.59 L440.00,579.59 L435.88,580.41 L431.75,581.22 L427.62,582.04 L423.50,582.87 L419.38,583.70 L415.25,584.54 L411.12,585.39 L407.00,586.24 L402.88,587.11 L398.75,587.98 L394.62,588.86 L390.50,589.76 L386.38,590.67 L382.25,591.60 L378.12,592.54 L374.00,593.51 L369.88,594.49 L365.75,595.51 L361.62,596.55 L357.50,597.62 L353.38,598.74 L349.25,599.89 L345.12,601.09 L341.00,602.33 L336.88,603.63 L332.75,604.99 L328.62,606.41 L324.50,607.89 L320.38,609.43 L316.25,611.04 L312.12,612.70 L308.00,614.42 L303.88,616.19 L299.75,618.01 L295.62,619.88 L291.50,621.78 L287.38,623.72 L283.25,625.69 L279.12,627.70 L275.00,629.72 Z" fill="#dadada" stroke="none" stroke-width="1" opacity="0.85"/>
<line x1="275.10" y1="616.70" x2="440.00" y2="556.60" stroke="#d9163f" stroke-width="0.9"/>
<line x1="267.70" y1="526.80" x2="267.70" y2="640.50" stroke="#1a1a1a" stroke-width="1.1"/>
<line x1="267.20" y1="640.00" x2="448.00" y2="640.00" stroke="#1a1a1a" stroke-width="1.1"/>
<line x1="265.00" y1="528.30" x2="267.70" y2="528.30" stroke="#1a1a1a" stroke-width="0.9"/>
<text x="261.80" y="530.30" font-size="5.8" text-anchor="end" fill="#333" stroke="#333" stroke-width="0.22">150</text>
<line x1="265.00" y1="567.00" x2="267.70" y2="567.00" stroke="#1a1a1a" stroke-width="0.9"/>
<text x="261.80" y="569.00" font-size="5.8" text-anchor="end" fill="#333" stroke="#333" stroke-width="0.22">100</text>
<line x1="265.00" y1="605.60" x2="267.70" y2="605.60" stroke="#1a1a1a" stroke-width="0.9"/>
<text x="261.80" y="607.60" font-size="5.8" text-anchor="end" fill="#333" stroke="#333" stroke-width="0.22">50</text>
<line x1="300.80" y1="640.00" x2="300.80" y2="642.70" stroke="#1a1a1a" stroke-width="0.9"/>
<text x="300.80" y="650.70" font-size="5.7" text-anchor="middle" fill="#333" stroke="#333" stroke-width="0.22">3</text>
<line x1="350.20" y1="640.00" x2="350.20" y2="642.70" stroke="#1a1a1a" stroke-width="0.9"/>
<text x="350.20" y="650.70" font-size="5.7" text-anchor="middle" fill="#333" stroke="#333" stroke-width="0.22">6</text>
<line x1="400.20" y1="640.00" x2="400.20" y2="642.70" stroke="#1a1a1a" stroke-width="0.9"/>
<text x="400.20" y="650.70" font-size="5.7" text-anchor="middle" fill="#333" stroke="#333" stroke-width="0.22">9</text>
<circle cx="275.50" cy="616.50" r="0.9" fill="#111"/>
<circle cx="276.10" cy="609.50" r="0.9" fill="#777"/>
<circle cx="281.90" cy="621.70" r="0.9" fill="#888"/>
<circle cx="277.00" cy="631.80" r="0.9" fill="#111"/>
<circle cx="287.10" cy="634.70" r="0.9" fill="#111"/>
<circle cx="333.30" cy="576.80" r="0.9" fill="#111"/>
<circle cx="332.70" cy="582.00" r="0.9" fill="#111"/>
<circle cx="339.80" cy="576.20" r="0.9" fill="#111"/>
<circle cx="378.20" cy="576.50" r="0.9" fill="#888"/>
<circle cx="382.80" cy="584.60" r="0.9" fill="#666"/>
<circle cx="440.00" cy="570.80" r="0.9" fill="#111"/>
<text x="271.20" y="563.90" font-size="6" text-anchor="start" fill="#333" stroke="#333" stroke-width="0.22" textLength="53.7" lengthAdjust="spacingAndGlyphs"><tspan font-style="italic">R</tspan> = 0.83, <tspan font-style="italic">P</tspan> = .0017</text>
<text x="245.10" y="582.50" font-size="8.3" text-anchor="middle" fill="#222" font-weight="bold" textLength="13.3" lengthAdjust="spacingAndGlyphs" transform="rotate(-90 245.10 582.50)">PAX5</text>
<text x="357.90" y="662.70" font-size="8.3" text-anchor="middle" fill="#222" font-weight="bold" textLength="10.2" lengthAdjust="spacingAndGlyphs">B1a</text>
<rect x="0.5" y="0.5" width="519" height="670" fill="none" stroke="#4a4a4a" stroke-width="1"/>
<line x1="519.5" y1="0" x2="519.5" y2="671" stroke="#6a6a6a" stroke-width="1"/>
</svg>
</body></html>
